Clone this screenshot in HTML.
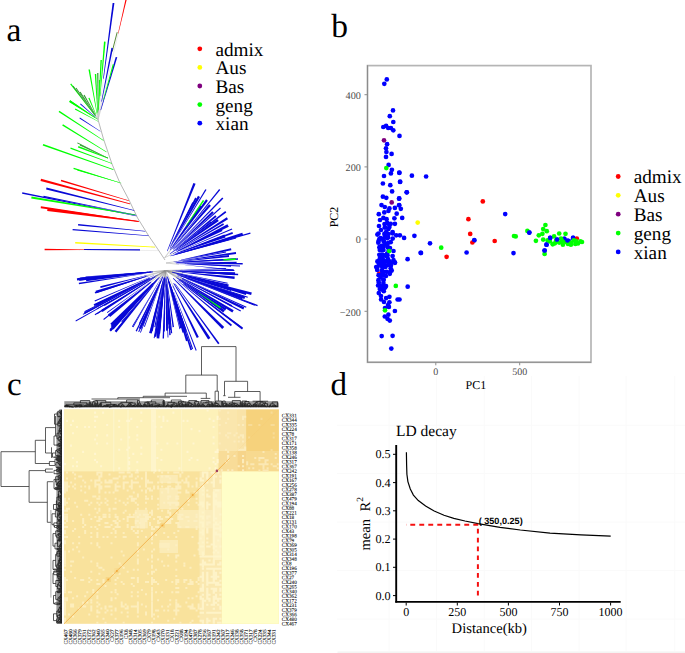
<!DOCTYPE html>
<html><head><meta charset="utf-8"><style>
html,body{margin:0;padding:0;background:#fff;width:685px;height:653px;overflow:hidden}
svg{display:block}
</style></head><body>
<svg width="685" height="653" viewBox="0 0 685 653" text-rendering="geometricPrecision">
<rect x="337.5" y="651.4" width="348" height="2" fill="#f4f4f3"/>
<line x1="389" y1="376" x2="389" y2="651" stroke="#fafafa" stroke-width="1"/>
<line x1="436.6" y1="376" x2="436.6" y2="651" stroke="#fafafa" stroke-width="1"/>
<line x1="484.2" y1="376" x2="484.2" y2="651" stroke="#fafafa" stroke-width="1"/>
<line x1="531.4" y1="376" x2="531.4" y2="651" stroke="#fafafa" stroke-width="1"/>
<line x1="579.1" y1="376" x2="579.1" y2="651" stroke="#fafafa" stroke-width="1"/>
<line x1="626" y1="376" x2="626" y2="651" stroke="#fafafa" stroke-width="1"/>
<line x1="674.8" y1="376" x2="674.8" y2="651" stroke="#fafafa" stroke-width="1"/>
<line x1="337" y1="425.2" x2="685" y2="425.2" stroke="#fafafa" stroke-width="1"/>
<line x1="337" y1="473.6" x2="685" y2="473.6" stroke="#fafafa" stroke-width="1"/>
<line x1="337" y1="522" x2="685" y2="522" stroke="#fafafa" stroke-width="1"/>
<line x1="337" y1="570.5" x2="685" y2="570.5" stroke="#fafafa" stroke-width="1"/>
<line x1="337" y1="619" x2="685" y2="619" stroke="#fafafa" stroke-width="1"/>
<text x="6.5" y="41.2" font-family="Liberation Serif" font-size="33.5" text-anchor="start" fill="#000" font-weight="normal" >a</text>
<text x="331.3" y="37.3" font-family="Liberation Serif" font-size="33.5" text-anchor="start" fill="#000" font-weight="normal" >b</text>
<text x="7" y="394.5" font-family="Liberation Serif" font-size="33" text-anchor="start" fill="#000" font-weight="normal" >c</text>
<text x="330.5" y="394.5" font-family="Liberation Serif" font-size="33" text-anchor="start" fill="#000" font-weight="normal" >d</text>
<line x1="98.0" y1="119.5" x2="103.5" y2="139.0" stroke="#a5a5a5" stroke-width="0.8"/>
<line x1="103.5" y1="139.0" x2="112.0" y2="164.0" stroke="#a5a5a5" stroke-width="0.8"/>
<line x1="112.0" y1="164.0" x2="119.5" y2="182.0" stroke="#a5a5a5" stroke-width="0.8"/>
<line x1="119.5" y1="182.0" x2="129.0" y2="200.0" stroke="#a5a5a5" stroke-width="0.8"/>
<line x1="129.0" y1="200.0" x2="137.6" y2="218.0" stroke="#a5a5a5" stroke-width="0.8"/>
<line x1="137.6" y1="218.0" x2="148.6" y2="235.7" stroke="#a5a5a5" stroke-width="0.8"/>
<line x1="148.6" y1="235.7" x2="158.4" y2="250.0" stroke="#a5a5a5" stroke-width="0.8"/>
<line x1="158.4" y1="250.0" x2="165.0" y2="260.0" stroke="#a5a5a5" stroke-width="0.8"/>
<line x1="98.0" y1="119.5" x2="119.6" y2="27.5" stroke="#c2c2c2" stroke-width="0.3"/>
<line x1="117.2" y1="32.2" x2="112.2" y2="51.5" stroke="#5a8a3a" stroke-width="1.0"/>
<line x1="98.0" y1="119.5" x2="104.2" y2="72.9" stroke="#c2c2c2" stroke-width="0.3"/>
<line x1="98.0" y1="119.5" x2="100.4" y2="92.2" stroke="#c2c2c2" stroke-width="0.3"/>
<line x1="98.0" y1="119.5" x2="102.3" y2="98.0" stroke="#c2c2c2" stroke-width="0.3"/>
<line x1="98.0" y1="119.5" x2="101.7" y2="107.0" stroke="#c2c2c2" stroke-width="0.3"/>
<line x1="98.0" y1="119.5" x2="104.1" y2="97.5" stroke="#c2c2c2" stroke-width="0.3"/>
<line x1="98.0" y1="119.5" x2="98.6" y2="107.6" stroke="#c2c2c2" stroke-width="0.3"/>
<line x1="98.0" y1="119.5" x2="96.7" y2="112.0" stroke="#c2c2c2" stroke-width="0.3"/>
<line x1="98.0" y1="119.5" x2="97.5" y2="110.4" stroke="#c2c2c2" stroke-width="0.3"/>
<line x1="98.0" y1="119.5" x2="98.0" y2="110.2" stroke="#c2c2c2" stroke-width="0.3"/>
<line x1="98.0" y1="119.5" x2="98.5" y2="107.7" stroke="#c2c2c2" stroke-width="0.3"/>
<line x1="98.0" y1="119.5" x2="93.9" y2="114.2" stroke="#c2c2c2" stroke-width="0.3"/>
<line x1="98.0" y1="119.5" x2="93.0" y2="112.8" stroke="#c2c2c2" stroke-width="0.3"/>
<line x1="98.0" y1="119.5" x2="93.6" y2="113.2" stroke="#c2c2c2" stroke-width="0.3"/>
<line x1="98.0" y1="119.5" x2="94.4" y2="114.0" stroke="#c2c2c2" stroke-width="0.3"/>
<line x1="98.0" y1="119.5" x2="95.2" y2="114.6" stroke="#c2c2c2" stroke-width="0.3"/>
<line x1="98.0" y1="119.5" x2="95.3" y2="113.0" stroke="#c2c2c2" stroke-width="0.3"/>
<line x1="98.0" y1="119.5" x2="94.5" y2="116.4" stroke="#c2c2c2" stroke-width="0.3"/>
<line x1="98.0" y1="119.5" x2="93.7" y2="116.7" stroke="#c2c2c2" stroke-width="0.3"/>
<line x1="97.3" y1="119.1" x2="95.9" y2="118.2" stroke="#c2c2c2" stroke-width="0.3"/>
<line x1="98.1" y1="121.4" x2="96.9" y2="120.8" stroke="#c2c2c2" stroke-width="0.3"/>
<line x1="100.4" y1="131.3" x2="99.4" y2="130.6" stroke="#c2c2c2" stroke-width="0.3"/>
<line x1="103.5" y1="140.5" x2="101.3" y2="139.0" stroke="#c2c2c2" stroke-width="0.3"/>
<line x1="106.5" y1="152.0" x2="104.3" y2="150.6" stroke="#c2c2c2" stroke-width="0.3"/>
<line x1="113.4" y1="169.6" x2="109.9" y2="168.4" stroke="#c2c2c2" stroke-width="0.3"/>
<line x1="111.9" y1="163.5" x2="109.8" y2="162.7" stroke="#c2c2c2" stroke-width="0.3"/>
<line x1="108.0" y1="158.1" x2="106.5" y2="157.3" stroke="#c2c2c2" stroke-width="0.3"/>
<line x1="108.0" y1="158.1" x2="106.5" y2="157.5" stroke="#c2c2c2" stroke-width="0.3"/>
<line x1="108.0" y1="158.1" x2="106.6" y2="157.4" stroke="#c2c2c2" stroke-width="0.3"/>
<line x1="119.5" y1="182.6" x2="117.2" y2="181.9" stroke="#c2c2c2" stroke-width="0.3"/>
<line x1="121.2" y1="183.1" x2="119.0" y2="182.4" stroke="#c2c2c2" stroke-width="0.3"/>
<line x1="130.0" y1="203.9" x2="125.5" y2="202.7" stroke="#c2c2c2" stroke-width="0.3"/>
<line x1="128.9" y1="200.7" x2="125.5" y2="199.7" stroke="#c2c2c2" stroke-width="0.3"/>
<line x1="134.3" y1="210.5" x2="129.9" y2="209.4" stroke="#c2c2c2" stroke-width="0.3"/>
<line x1="136.5" y1="216.0" x2="130.8" y2="214.8" stroke="#c2c2c2" stroke-width="0.3"/>
<line x1="135.4" y1="214.9" x2="130.2" y2="214.0" stroke="#c2c2c2" stroke-width="0.3"/>
<line x1="135.4" y1="214.9" x2="130.8" y2="214.0" stroke="#c2c2c2" stroke-width="0.3"/>
<line x1="138.7" y1="221.5" x2="133.8" y2="220.8" stroke="#c2c2c2" stroke-width="0.3"/>
<line x1="138.7" y1="221.5" x2="134.1" y2="220.9" stroke="#c2c2c2" stroke-width="0.3"/>
<line x1="145.3" y1="231.3" x2="141.9" y2="231.0" stroke="#c2c2c2" stroke-width="0.3"/>
<line x1="148.6" y1="235.7" x2="144.8" y2="235.4" stroke="#c2c2c2" stroke-width="0.3"/>
<line x1="155.1" y1="247.1" x2="151.1" y2="246.9" stroke="#c2c2c2" stroke-width="0.3"/>
<line x1="158.4" y1="250.6" x2="78.7" y2="249.8" stroke="#c2c2c2" stroke-width="0.3"/>
<line x1="84.0" y1="249.5" x2="140.0" y2="249.8" stroke="#0808d6" stroke-width="1.2"/>
<line x1="164.6" y1="257.7" x2="173.4" y2="246.8" stroke="#8a8a8a" stroke-width="0.4"/>
<line x1="164.6" y1="257.7" x2="175.9" y2="252.3" stroke="#8a8a8a" stroke-width="0.4"/>
<line x1="164.6" y1="257.7" x2="188.0" y2="223.3" stroke="#c2c2c2" stroke-width="0.3"/>
<line x1="166.0" y1="263.0" x2="178.9" y2="264.3" stroke="#8a8a8a" stroke-width="0.4"/>
<line x1="166.0" y1="263.0" x2="177.0" y2="261.4" stroke="#8a8a8a" stroke-width="0.4"/>
<line x1="165.5" y1="270.5" x2="143.9" y2="284.1" stroke="#8a8a8a" stroke-width="0.4"/>
<line x1="165.5" y1="270.5" x2="148.1" y2="284.3" stroke="#8a8a8a" stroke-width="0.4"/>
<line x1="165.5" y1="270.5" x2="158.7" y2="286.1" stroke="#8a8a8a" stroke-width="0.4"/>
<line x1="165.5" y1="270.5" x2="163.3" y2="285.1" stroke="#8a8a8a" stroke-width="0.4"/>
<line x1="165.5" y1="270.5" x2="181.3" y2="271.4" stroke="#8a8a8a" stroke-width="0.4"/>
<line x1="165.5" y1="270.5" x2="185.3" y2="272.6" stroke="#8a8a8a" stroke-width="0.4"/>
<line x1="165.5" y1="270.5" x2="183.1" y2="274.1" stroke="#8a8a8a" stroke-width="0.4"/>
<line x1="165.5" y1="270.5" x2="189.8" y2="283.6" stroke="#8a8a8a" stroke-width="0.4"/>
<line x1="165.5" y1="270.5" x2="179.4" y2="279.5" stroke="#8a8a8a" stroke-width="0.4"/>
<line x1="165.5" y1="270.5" x2="174.4" y2="288.9" stroke="#8a8a8a" stroke-width="0.4"/>
<line x1="165.5" y1="270.5" x2="169.1" y2="282.8" stroke="#8a8a8a" stroke-width="0.4"/>
<line x1="165.5" y1="270.5" x2="163.5" y2="287.2" stroke="#8a8a8a" stroke-width="0.4"/>
<line x1="165.5" y1="270.5" x2="182.5" y2="269.9" stroke="#8a8a8a" stroke-width="0.4"/>
<line x1="165.5" y1="270.5" x2="150.8" y2="285.8" stroke="#8a8a8a" stroke-width="0.4"/>
<line x1="165.5" y1="270.5" x2="145.0" y2="277.0" stroke="#8a8a8a" stroke-width="0.4"/>
<line x1="165.5" y1="270.5" x2="152.0" y2="279.1" stroke="#8a8a8a" stroke-width="0.4"/>
<line x1="165.5" y1="270.5" x2="154.2" y2="283.8" stroke="#8a8a8a" stroke-width="0.4"/>
<line x1="165.5" y1="270.5" x2="139.5" y2="284.3" stroke="#8a8a8a" stroke-width="0.4"/>
<line x1="165.5" y1="270.5" x2="183.4" y2="281.3" stroke="#8a8a8a" stroke-width="0.4"/>
<line x1="165.5" y1="270.5" x2="184.1" y2="276.9" stroke="#8a8a8a" stroke-width="0.4"/>
<line x1="165.5" y1="270.5" x2="147.0" y2="272.2" stroke="#8a8a8a" stroke-width="0.4"/>
<line x1="165.5" y1="270.5" x2="164.4" y2="281.7" stroke="#8a8a8a" stroke-width="0.4"/>
<line x1="165.5" y1="270.5" x2="188.0" y2="276.9" stroke="#8a8a8a" stroke-width="0.4"/>
<line x1="165.5" y1="270.5" x2="147.0" y2="272.4" stroke="#8a8a8a" stroke-width="0.4"/>
<line x1="165.5" y1="270.5" x2="192.3" y2="277.8" stroke="#8a8a8a" stroke-width="0.4"/>
<line x1="165.5" y1="270.5" x2="143.2" y2="284.5" stroke="#8a8a8a" stroke-width="0.4"/>
<line x1="165.5" y1="270.5" x2="144.3" y2="275.9" stroke="#8a8a8a" stroke-width="0.4"/>
<line x1="165.5" y1="270.5" x2="160.2" y2="279.5" stroke="#8a8a8a" stroke-width="0.4"/>
<line x1="165.5" y1="270.5" x2="157.6" y2="280.1" stroke="#8a8a8a" stroke-width="0.4"/>
<line x1="165.5" y1="270.5" x2="154.7" y2="276.6" stroke="#8a8a8a" stroke-width="0.4"/>
<line x1="165.5" y1="270.5" x2="161.0" y2="281.7" stroke="#8a8a8a" stroke-width="0.4"/>
<line x1="165.5" y1="270.5" x2="166.2" y2="287.0" stroke="#8a8a8a" stroke-width="0.4"/>
<line x1="165.5" y1="270.5" x2="165.1" y2="287.6" stroke="#8a8a8a" stroke-width="0.4"/>
<line x1="165.5" y1="270.5" x2="175.2" y2="272.9" stroke="#8a8a8a" stroke-width="0.4"/>
<line x1="165.5" y1="270.5" x2="185.8" y2="280.3" stroke="#8a8a8a" stroke-width="0.4"/>
<line x1="165.5" y1="270.5" x2="201.3" y2="294.7" stroke="#c2c2c2" stroke-width="0.3"/>
<polygon points="126.6,0.1 125.4,-0.1 118.0,33.4 118.4,33.5" fill="#ff0000"/>
<polygon points="114.4,3.1 112.6,2.9 103.1,78.7 103.7,78.8" fill="#0808d6"/>
<polygon points="105.6,41.7 104.0,41.5 99.8,96.1 100.3,96.2" fill="#00ff00"/>
<polygon points="113.0,48.2 111.4,47.8 101.3,101.6 101.8,101.7" fill="#0808d6"/>
<polygon points="117.3,57.3 115.7,56.9 100.5,110.1 101.0,110.2" fill="#0808d6"/>
<polygon points="113.9,64.6 112.7,64.2 103.1,100.2 103.6,100.3" fill="#00ff00"/>
<polygon points="101.9,60.1 100.5,60.1 98.2,110.6 98.7,110.6" fill="#00ff00"/>
<polygon points="89.9,69.4 88.5,69.6 96.9,114.5 97.4,114.5" fill="#00ff00"/>
<polygon points="96.2,74.1 94.8,74.1 97.4,112.7 97.9,112.7" fill="#00ff00"/>
<polygon points="98.4,73.0 97.2,73.0 97.8,112.5 98.2,112.5" fill="#2a962a"/>
<polygon points="100.1,80.0 98.9,80.0 98.2,109.6 98.6,109.6" fill="#00ff00"/>
<polygon points="71.2,83.5 70.2,84.3 95.1,116.1 95.5,115.8" fill="#00ff00"/>
<polygon points="73.4,85.7 72.6,86.3 94.1,114.6 94.4,114.4" fill="#2a962a"/>
<polygon points="76.4,87.7 75.6,88.3 94.6,114.9 94.8,114.7" fill="#2a962a"/>
<polygon points="80.5,91.7 79.5,92.3 95.1,115.5 95.5,115.3" fill="#2a962a"/>
<polygon points="84.5,94.7 83.5,95.3 95.7,115.9 96.1,115.7" fill="#2a962a"/>
<polygon points="89.5,97.7 88.3,98.1 95.5,114.2 95.9,114.0" fill="#00ff00"/>
<polygon points="80.7,103.4 80.1,104.2 95.2,117.3 95.5,117.0" fill="#0808d6"/>
<polygon points="70.1,100.3 69.1,101.9 95.0,117.9 95.3,117.4" fill="#00ff00"/>
<polygon points="70.2,100.3 69.4,101.7 97.1,119.3 97.5,118.9" fill="#00ff00"/>
<polygon points="75.4,108.6 74.8,109.6 98.0,121.6 98.2,121.2" fill="#00ff00"/>
<polygon points="79.9,117.6 79.5,118.4 100.3,131.4 100.5,131.2" fill="#0808d6"/>
<polygon points="59.4,110.8 58.6,112.0 103.4,140.7 103.6,140.3" fill="#00ff00"/>
<polygon points="63.0,124.3 62.2,125.5 106.4,152.2 106.6,151.8" fill="#00ff00"/>
<polygon points="43.3,144.0 42.7,145.6 113.3,169.9 113.5,169.3" fill="#00ff00"/>
<polygon points="70.7,147.6 70.3,148.8 111.8,163.7 112.0,163.3" fill="#00ff00"/>
<polygon points="77.6,142.4 77.2,143.2 107.9,158.3 108.1,157.9" fill="#2a962a"/>
<polygon points="78.5,146.0 77.9,147.4 107.9,158.4 108.1,157.8" fill="#00ff00"/>
<polygon points="80.2,144.5 79.8,145.5 107.9,158.3 108.1,157.9" fill="#2a962a"/>
<polygon points="73.8,167.8 73.4,169.0 119.4,182.8 119.6,182.4" fill="#00ff00"/>
<polygon points="77.5,169.5 77.3,170.5 121.1,183.3 121.3,182.9" fill="#00ff00"/>
<polygon points="41.1,178.8 40.5,181.0 129.9,204.3 130.1,203.5" fill="#ff0000"/>
<polygon points="61.2,179.8 60.8,181.2 128.8,200.9 129.0,200.5" fill="#ff0000"/>
<polygon points="46.5,187.6 46.1,189.6 134.2,210.8 134.4,210.2" fill="#0808d6"/>
<polygon points="22.3,192.3 22.1,193.7 136.5,216.2 136.5,215.8" fill="#0808d6"/>
<polygon points="31.6,196.4 31.2,198.4 135.3,215.2 135.5,214.6" fill="#00ff00"/>
<polygon points="43.6,195.7 43.4,196.9 135.4,215.1 135.4,214.7" fill="#0808d6"/>
<polygon points="40.9,206.2 40.7,208.2 138.6,221.8 138.8,221.2" fill="#ff0000"/>
<polygon points="47.6,207.9 47.2,210.9 138.6,222.0 138.8,221.0" fill="#ff0000"/>
<polygon points="78.2,224.0 78.0,225.4 145.3,231.6 145.3,231.0" fill="#0808d6"/>
<polygon points="72.7,228.9 72.5,230.3 148.6,236.0 148.6,235.4" fill="#0808d6"/>
<polygon points="75.2,241.9 75.2,243.5 155.1,247.4 155.1,246.8" fill="#ffff00"/>
<polygon points="44.6,248.8 44.6,250.2 84.4,250.1 84.4,249.6" fill="#ff0000"/>
<polygon points="195.6,183.8 193.4,183.0 167.0,251.0 167.5,251.2" fill="#0808d6"/>
<polygon points="206.5,189.8 205.3,189.2 174.3,241.4 174.5,241.6" fill="#0808d6"/>
<polygon points="200.0,197.0 198.0,195.8 169.6,248.3 170.0,248.6" fill="#0808d6"/>
<polygon points="196.8,198.4 195.2,197.6 172.1,243.1 172.4,243.2" fill="#0808d6"/>
<polygon points="193.5,202.9 192.3,202.3 170.4,246.1 170.6,246.2" fill="#0808d6"/>
<polygon points="220.2,189.9 219.2,189.1 170.5,250.2 170.7,250.3" fill="#0808d6"/>
<polygon points="223.4,198.6 222.2,197.4 172.8,249.0 173.0,249.3" fill="#0808d6"/>
<polygon points="220.9,208.4 220.1,207.4 173.0,250.0 173.2,250.2" fill="#0808d6"/>
<polygon points="226.3,212.5 225.3,211.1 179.3,246.4 179.5,246.7" fill="#0808d6"/>
<polygon points="228.0,219.3 226.8,217.3 175.7,250.5 175.9,250.9" fill="#0808d6"/>
<polygon points="228.8,226.8 227.4,224.2 177.0,251.1 177.3,251.6" fill="#0808d6"/>
<polygon points="224.0,224.8 223.2,223.2 178.2,249.7 178.4,250.0" fill="#0808d6"/>
<polygon points="233.0,233.7 232.4,232.1 177.3,252.9 177.4,253.2" fill="#0808d6"/>
<polygon points="250.6,233.8 250.2,232.6 177.8,253.8 177.9,254.1" fill="#0808d6"/>
<polygon points="243.1,235.3 242.3,232.7 175.0,254.2 175.2,254.8" fill="#0808d6"/>
<polygon points="210.9,205.8 209.1,204.2 172.2,248.5 172.5,248.8" fill="#0808d6"/>
<polygon points="213.8,212.8 212.2,211.2 174.1,248.4 174.4,248.8" fill="#0808d6"/>
<polygon points="216.6,216.7 215.4,215.3 176.6,247.7 176.8,248.0" fill="#0808d6"/>
<polygon points="218.8,221.1 217.2,218.9 169.8,253.7 170.2,254.1" fill="#0808d6"/>
<polygon points="222.5,231.0 221.5,229.0 172.9,253.4 173.1,253.8" fill="#0808d6"/>
<polygon points="225.5,237.4 224.5,234.6 175.3,253.5 175.5,254.1" fill="#0808d6"/>
<polygon points="229.3,239.9 228.7,238.1 170.4,255.8 170.5,256.2" fill="#0808d6"/>
<polygon points="236.2,238.6 235.8,237.4 173.1,255.2 173.2,255.5" fill="#0808d6"/>
<polygon points="207.9,200.7 206.1,199.3 172.6,246.5 172.9,246.7" fill="#0808d6"/>
<polygon points="202.1,206.8 199.9,205.2 169.9,249.7 170.3,250.0" fill="#0808d6"/>
<polygon points="211.4,222.5 210.6,221.5 168.7,254.4 168.8,254.6" fill="#0808d6"/>
<polygon points="232.3,229.6 231.7,228.4 180.7,250.7 180.8,250.9" fill="#0808d6"/>
<polygon points="204.3,200.7 202.9,199.9 185.8,226.0 186.3,226.3" fill="#00ff00"/>
<polygon points="231.4,250.3 231.0,248.3 180.9,259.7 181.0,260.1" fill="#0808d6"/>
<polygon points="242.7,264.6 242.7,263.0 187.2,263.1 187.2,263.4" fill="#0808d6"/>
<polygon points="236.6,262.9 236.6,261.7 178.0,262.8 178.0,263.0" fill="#0808d6"/>
<polygon points="233.4,270.6 233.6,269.4 175.6,263.9 175.6,264.1" fill="#0808d6"/>
<polygon points="226.1,252.6 225.9,251.4 178.5,260.6 178.5,260.8" fill="#0808d6"/>
<polygon points="229.1,257.0 228.9,255.0 182.7,260.9 182.7,261.4" fill="#0808d6"/>
<polygon points="238.0,259.8 238.0,258.2 174.7,262.4 174.7,262.7" fill="#0808d6"/>
<polygon points="231.0,266.8 231.0,265.2 175.9,263.3 175.9,263.6" fill="#0808d6"/>
<polygon points="236.1,254.0 235.9,252.0 173.5,261.7 173.6,262.1" fill="#0808d6"/>
<polygon points="240.0,266.6 240.0,265.4 184.7,263.6 184.7,263.9" fill="#0808d6"/>
<polygon points="235.8,260.1 235.8,258.3 176.5,262.1 176.5,262.7" fill="#0808d6"/>
<polygon points="235.8,260.1 235.8,258.3 223.2,259.2 223.3,260.6" fill="#00ff00"/>
<polygon points="76.9,278.2 77.1,280.4 147.2,272.6 147.1,272.0" fill="#0808d6"/>
<polygon points="78.8,282.8 79.0,284.2 146.2,273.6 146.2,273.2" fill="#0808d6"/>
<polygon points="85.5,276.4 85.5,277.2 148.0,272.0 148.0,271.8" fill="#0808d6"/>
<polygon points="95.6,290.7 96.4,293.3 146.4,276.8 146.2,276.1" fill="#0808d6"/>
<polygon points="93.6,304.3 94.6,306.3 149.4,278.7 149.2,278.1" fill="#0808d6"/>
<polygon points="75.5,320.6 75.9,321.4 156.3,275.8 156.2,275.6" fill="#0808d6"/>
<polygon points="96.8,313.4 97.2,314.2 147.4,282.1 147.3,281.9" fill="#0808d6"/>
<polygon points="103.3,319.1 103.9,319.9 151.3,281.9 151.1,281.7" fill="#0808d6"/>
<polygon points="109.5,330.3 110.9,331.5 158.6,278.3 158.3,278.0" fill="#0808d6"/>
<polygon points="112.5,328.5 113.5,329.5 154.8,282.7 154.5,282.5" fill="#0808d6"/>
<polygon points="117.0,320.6 118.6,322.2 157.3,279.7 156.8,279.3" fill="#0808d6"/>
<polygon points="132.6,326.9 133.4,327.3 158.1,283.6 157.9,283.4" fill="#0808d6"/>
<polygon points="138.2,331.7 139.2,332.1 160.2,283.0 159.9,282.9" fill="#0808d6"/>
<polygon points="149.6,332.7 150.4,332.9 163.0,280.9 162.8,280.8" fill="#0808d6"/>
<polygon points="155.3,336.5 156.1,336.7 163.9,281.8 163.7,281.8" fill="#0808d6"/>
<polygon points="162.6,338.5 164.0,338.5 165.4,279.0 165.1,279.0" fill="#0808d6"/>
<polygon points="233.7,270.8 233.7,269.4 172.4,270.3 172.4,270.6" fill="#0808d6"/>
<polygon points="238.1,275.2 238.1,273.8 177.7,271.0 177.7,271.3" fill="#0808d6"/>
<polygon points="234.5,279.0 234.7,276.4 181.9,271.9 181.8,272.5" fill="#0808d6"/>
<polygon points="227.5,283.8 227.7,282.8 180.0,273.3 179.9,273.6" fill="#0808d6"/>
<polygon points="230.9,291.0 231.3,289.6 176.5,273.6 176.4,274.0" fill="#0808d6"/>
<polygon points="247.5,297.8 247.9,296.8 184.3,276.5 184.2,276.7" fill="#0808d6"/>
<polygon points="254.6,305.7 255.0,304.7 186.2,278.4 186.1,278.7" fill="#0808d6"/>
<polygon points="240.4,311.6 241.0,310.4 186.1,281.4 186.0,281.7" fill="#0808d6"/>
<polygon points="225.2,310.6 226.4,308.6 176.6,277.3 176.2,277.8" fill="#0808d6"/>
<polygon points="242.0,329.5 243.0,328.1 183.8,284.1 183.5,284.4" fill="#0808d6"/>
<polygon points="222.2,329.0 224.2,327.0 173.4,277.9 172.9,278.4" fill="#0808d6"/>
<polygon points="218.1,344.2 219.5,343.2 175.4,283.7 175.0,283.9" fill="#0808d6"/>
<polygon points="196.8,338.1 198.8,337.1 173.0,285.4 172.5,285.7" fill="#0808d6"/>
<polygon points="192.1,349.2 193.1,348.8 171.5,287.6 171.3,287.7" fill="#0808d6"/>
<polygon points="182.5,332.7 185.1,331.9 168.5,279.6 167.9,279.8" fill="#0808d6"/>
<polygon points="172.6,327.2 174.0,327.0 166.5,276.3 166.1,276.4" fill="#0808d6"/>
<polygon points="167.6,337.6 168.4,337.6 166.3,288.4 166.1,288.4" fill="#0808d6"/>
<polygon points="156.8,336.6 158.2,336.8 164.1,283.9 163.7,283.9" fill="#0808d6"/>
<polygon points="149.2,332.9 151.8,333.5 163.9,278.6 163.2,278.5" fill="#0808d6"/>
<polygon points="138.8,328.3 141.2,329.3 163.1,276.8 162.5,276.5" fill="#0808d6"/>
<polygon points="79.9,277.8 80.2,280.5 146.1,272.8 146.0,272.1" fill="#0808d6"/>
<polygon points="225.9,269.1 225.9,268.0 179.5,269.9 179.5,270.2" fill="#0808d6"/>
<polygon points="151.4,330.9 152.7,331.2 164.2,277.0 163.9,276.9" fill="#0808d6"/>
<polygon points="110.7,326.0 112.3,327.6 153.7,283.2 153.3,282.8" fill="#0808d6"/>
<polygon points="94.7,292.1 95.2,293.4 148.6,276.0 148.5,275.7" fill="#0808d6"/>
<polygon points="141.8,324.9 143.1,325.4 160.8,282.1 160.5,282.0" fill="#0808d6"/>
<polygon points="101.1,310.0 102.4,312.0 155.3,277.3 155.0,276.8" fill="#0808d6"/>
<polygon points="144.0,326.6 144.8,327.0 160.0,285.4 159.8,285.3" fill="#0808d6"/>
<polygon points="121.3,321.6 122.1,322.3 156.5,281.3 156.3,281.1" fill="#0808d6"/>
<polygon points="106.9,312.2 107.4,312.9 152.4,280.1 152.3,279.9" fill="#0808d6"/>
<polygon points="96.6,308.4 97.0,309.2 153.6,277.3 153.5,277.1" fill="#0808d6"/>
<polygon points="94.5,300.6 95.0,301.6 154.1,275.6 154.0,275.3" fill="#0808d6"/>
<polygon points="109.5,329.2 111.2,330.8 154.1,283.2 153.7,282.8" fill="#0808d6"/>
<polygon points="231.4,306.8 232.3,305.2 182.4,279.3 182.2,279.7" fill="#0808d6"/>
<polygon points="168.3,324.4 171.0,324.2 166.9,284.1 166.2,284.2" fill="#0808d6"/>
<polygon points="181.7,325.3 184.3,324.5 167.9,276.9 167.3,277.1" fill="#0808d6"/>
<polygon points="242.0,299.4 243.0,296.9 177.5,274.4 177.2,275.1" fill="#0808d6"/>
<polygon points="121.8,315.3 123.5,316.9 159.5,277.3 159.1,276.9" fill="#0808d6"/>
<polygon points="158.3,335.7 159.2,335.8 164.7,279.1 164.5,279.1" fill="#0808d6"/>
<polygon points="85.9,278.5 86.2,281.2 153.1,272.3 153.0,271.6" fill="#0808d6"/>
<polygon points="82.7,313.9 83.2,314.8 143.7,282.2 143.6,282.0" fill="#0808d6"/>
<polygon points="232.3,312.5 233.7,310.2 180.2,279.0 179.9,279.6" fill="#0808d6"/>
<polygon points="154.5,336.4 156.3,336.7 163.9,282.4 163.5,282.3" fill="#0808d6"/>
<polygon points="244.4,299.1 245.3,296.6 180.2,275.2 180.0,275.9" fill="#0808d6"/>
<polygon points="135.6,331.0 136.8,331.6 157.5,287.6 157.2,287.4" fill="#0808d6"/>
<polygon points="157.2,333.4 159.8,333.7 165.1,277.6 164.4,277.5" fill="#0808d6"/>
<polygon points="78.0,277.9 78.1,278.8 151.4,271.9 151.4,271.6" fill="#0808d6"/>
<polygon points="184.0,331.2 186.6,330.4 169.7,282.1 169.0,282.3" fill="#0808d6"/>
<polygon points="257.3,306.3 257.8,304.9 187.5,278.7 187.3,279.0" fill="#0808d6"/>
<polygon points="246.0,307.7 246.5,306.7 177.4,275.8 177.3,276.0" fill="#0808d6"/>
<polygon points="158.4,333.2 160.2,333.4 164.9,278.6 164.5,278.5" fill="#0808d6"/>
<polygon points="245.9,295.0 246.7,292.4 184.0,275.5 183.9,276.1" fill="#0808d6"/>
<polygon points="78.9,278.0 79.1,280.7 151.3,272.3 151.3,271.6" fill="#0808d6"/>
<polygon points="84.3,311.3 84.8,312.2 147.7,279.7 147.6,279.5" fill="#0808d6"/>
<polygon points="223.3,312.6 224.9,310.3 178.9,279.4 178.5,280.0" fill="#0808d6"/>
<polygon points="179.5,329.3 180.3,329.1 168.4,281.8 168.2,281.9" fill="#0808d6"/>
<polygon points="251.1,295.1 251.8,292.5 188.1,276.3 187.9,276.9" fill="#0808d6"/>
<polygon points="241.7,328.8 242.8,327.4 183.1,283.4 182.8,283.8" fill="#0808d6"/>
<polygon points="83.9,312.5 84.7,314.1 149.7,279.1 149.5,278.7" fill="#0808d6"/>
<polygon points="114.6,331.1 116.4,332.6 153.5,285.7 153.1,285.3" fill="#0808d6"/>
<polygon points="186.0,341.2 187.8,340.7 171.6,289.9 171.2,290.1" fill="#0808d6"/>
<polygon points="180.2,328.2 182.4,327.6 167.4,276.5 166.9,276.6" fill="#0808d6"/>
<polygon points="142.5,320.4 143.8,321.0 161.0,281.1 160.6,281.0" fill="#0808d6"/>
<polygon points="94.6,314.3 95.2,315.3 146.8,282.4 146.6,282.2" fill="#0808d6"/>
<polygon points="208.1,339.5 210.4,338.0 173.9,283.0 173.3,283.4" fill="#0808d6"/>
<polygon points="154.3,327.1 155.4,327.3 163.8,280.2 163.5,280.2" fill="#0808d6"/>
<polygon points="169.3,335.2 170.7,335.1 166.2,278.3 165.9,278.3" fill="#0808d6"/>
<polygon points="234.4,271.0 234.4,269.9 178.6,270.4 178.6,270.6" fill="#0808d6"/>
<polygon points="100.2,286.2 100.6,288.0 147.6,275.3 147.5,274.9" fill="#0808d6"/>
<polygon points="190.4,350.3 192.1,349.8 169.8,282.9 169.3,283.1" fill="#0808d6"/>
<polygon points="156.6,338.3 159.3,338.6 163.9,287.8 163.2,287.8" fill="#0808d6"/>
<polygon points="169.7,329.9 171.1,329.8 166.9,285.8 166.6,285.8" fill="#0808d6"/>
<polygon points="170.9,333.3 172.2,333.2 166.6,279.6 166.2,279.6" fill="#0808d6"/>
<polygon points="131.9,326.4 132.6,326.9 161.9,276.8 161.7,276.7" fill="#0808d6"/>
<polygon points="117.8,327.5 118.5,328.0 160.0,277.3 159.8,277.2" fill="#0808d6"/>
<polygon points="107.9,314.6 108.8,315.7 150.3,282.6 150.1,282.3" fill="#0808d6"/>
<polygon points="156.5,333.0 158.8,333.3 163.7,287.2 163.1,287.1" fill="#0808d6"/>
<polygon points="103.8,304.7 104.5,306.0 157.8,275.1 157.7,274.7" fill="#0808d6"/>
<polygon points="140.0,332.4 140.8,332.7 162.3,278.6 162.1,278.5" fill="#0808d6"/>
<polygon points="167.5,328.6 168.6,328.5 166.2,284.1 166.0,284.1" fill="#0808d6"/>
<polygon points="95.9,303.7 97.0,305.8 150.2,278.4 150.0,277.9" fill="#0808d6"/>
<polygon points="166.1,330.7 167.9,330.6 165.9,277.8 165.5,277.8" fill="#0808d6"/>
<polygon points="234.9,275.3 235.0,272.6 180.0,270.9 179.9,271.5" fill="#0808d6"/>
<polygon points="180.9,326.7 183.1,326.1 168.8,280.5 168.2,280.7" fill="#0808d6"/>
<polygon points="153.7,338.1 154.6,338.3 164.3,278.1 164.1,278.1" fill="#0808d6"/>
<polygon points="235.0,274.8 235.1,272.5 175.6,270.7 175.5,271.2" fill="#0808d6"/>
<polygon points="138.9,323.5 140.2,324.1 160.7,280.8 160.3,280.7" fill="#0808d6"/>
<polygon points="108.6,315.3 110.1,317.1 151.2,282.5 150.9,282.0" fill="#0808d6"/>
<polygon points="163.4,331.6 164.8,331.6 165.3,284.5 165.0,284.5" fill="#0808d6"/>
<polygon points="228.1,287.1 228.8,284.5 172.1,271.8 172.0,272.4" fill="#0808d6"/>
<polygon points="110.3,323.8 112.2,325.7 152.9,283.6 152.4,283.1" fill="#0808d6"/>
<polygon points="243.3,309.6 244.4,307.2 182.0,278.1 181.7,278.7" fill="#0808d6"/>
<polygon points="195.7,350.7 196.7,350.3 173.8,291.8 173.6,291.9" fill="#0808d6"/>
<polygon points="230.9,326.2 232.0,324.8 177.6,280.3 177.3,280.6" fill="#0808d6"/>
<polygon points="158.2,332.7 159.6,332.9 165.0,276.8 164.7,276.8" fill="#0808d6"/>
<polygon points="220.2,308.4 221.0,307.2 198.7,292.7 198.4,293.1" fill="#00ff00"/>
<circle cx="199.8" cy="48.8" r="2.4" fill="#ff0000"/>
<text x="215.5" y="55.699999999999996" font-family="Liberation Serif" font-size="19.2" text-anchor="start" fill="#000" font-weight="normal" >admix</text>
<circle cx="199.8" cy="67.4" r="2.4" fill="#ffff00"/>
<text x="215.5" y="74.30000000000001" font-family="Liberation Serif" font-size="19.2" text-anchor="start" fill="#000" font-weight="normal" >Aus</text>
<circle cx="199.8" cy="86.0" r="2.4" fill="#7f007f"/>
<text x="215.5" y="92.9" font-family="Liberation Serif" font-size="19.2" text-anchor="start" fill="#000" font-weight="normal" >Bas</text>
<circle cx="199.8" cy="104.6" r="2.4" fill="#00ff00"/>
<text x="215.5" y="111.5" font-family="Liberation Serif" font-size="19.2" text-anchor="start" fill="#000" font-weight="normal" >geng</text>
<circle cx="199.8" cy="123.2" r="2.4" fill="#0000ff"/>
<text x="215.5" y="130.1" font-family="Liberation Serif" font-size="19.2" text-anchor="start" fill="#000" font-weight="normal" >xian</text>
<rect x="367.5" y="65.6" width="223.5" height="296.7" fill="none" stroke="#b5b5b5" stroke-width="1.7"/>
<path d="M367.5 65.2V362.3H591" fill="none" stroke="#8c8c8c" stroke-width="1.1"/>
<line x1="364.5" y1="94.7" x2="367.5" y2="94.7" stroke="#8c8c8c" stroke-width="1"/>
<text x="360.9" y="98.89999999999999" font-family="Liberation Serif" font-size="10.2" text-anchor="end" fill="#4d4d4d" font-weight="normal" >400</text>
<line x1="364.5" y1="166.9" x2="367.5" y2="166.9" stroke="#8c8c8c" stroke-width="1"/>
<text x="360.9" y="171.09999999999997" font-family="Liberation Serif" font-size="10.2" text-anchor="end" fill="#4d4d4d" font-weight="normal" >200</text>
<line x1="364.5" y1="239.1" x2="367.5" y2="239.1" stroke="#8c8c8c" stroke-width="1"/>
<text x="360.9" y="243.29999999999998" font-family="Liberation Serif" font-size="10.2" text-anchor="end" fill="#4d4d4d" font-weight="normal" >0</text>
<line x1="364.5" y1="311.3" x2="367.5" y2="311.3" stroke="#8c8c8c" stroke-width="1"/>
<text x="360.9" y="315.5" font-family="Liberation Serif" font-size="10.2" text-anchor="end" fill="#4d4d4d" font-weight="normal" >−200</text>
<line x1="435.8" y1="362.3" x2="435.8" y2="365.3" stroke="#8c8c8c" stroke-width="1"/>
<text x="435.8" y="374.8" font-family="Liberation Serif" font-size="10" text-anchor="middle" fill="#4d4d4d" font-weight="normal" >0</text>
<line x1="519.7" y1="362.3" x2="519.7" y2="365.3" stroke="#8c8c8c" stroke-width="1"/>
<text x="519.7" y="374.8" font-family="Liberation Serif" font-size="10" text-anchor="middle" fill="#4d4d4d" font-weight="normal" >500</text>
<text x="475.9" y="388.9" font-family="Liberation Serif" font-size="12" text-anchor="middle" fill="#000" font-weight="normal" >PC1</text>
<text x="0" y="0" font-family="Liberation Serif" font-size="12" text-anchor="middle" fill="#000" font-weight="normal" transform="translate(337.8,217) rotate(-90)">PC2</text>
<circle cx="379.2" cy="273.6" r="2.35" fill="#ff0000"/>
<circle cx="384.5" cy="224.1" r="2.35" fill="#0000ff"/>
<circle cx="389.1" cy="224.2" r="2.35" fill="#0000ff"/>
<circle cx="385.3" cy="227.5" r="2.35" fill="#0000ff"/>
<circle cx="388.4" cy="229.1" r="2.35" fill="#0000ff"/>
<circle cx="378.5" cy="233.5" r="2.35" fill="#0000ff"/>
<circle cx="384.4" cy="233.9" r="2.35" fill="#0000ff"/>
<circle cx="388.5" cy="234.0" r="2.35" fill="#0000ff"/>
<circle cx="392.5" cy="233.3" r="2.35" fill="#0000ff"/>
<circle cx="379.3" cy="239.1" r="2.35" fill="#0000ff"/>
<circle cx="383.4" cy="238.9" r="2.35" fill="#0000ff"/>
<circle cx="388.1" cy="237.5" r="2.35" fill="#0000ff"/>
<circle cx="392.7" cy="238.6" r="2.35" fill="#0000ff"/>
<circle cx="378.6" cy="241.1" r="2.35" fill="#0000ff"/>
<circle cx="384.1" cy="241.9" r="2.35" fill="#0000ff"/>
<circle cx="388.2" cy="242.8" r="2.35" fill="#0000ff"/>
<circle cx="379.4" cy="247.2" r="2.35" fill="#0000ff"/>
<circle cx="383.2" cy="247.0" r="2.35" fill="#0000ff"/>
<circle cx="387.7" cy="247.3" r="2.35" fill="#0000ff"/>
<circle cx="379.8" cy="250.0" r="2.35" fill="#0000ff"/>
<circle cx="382.7" cy="250.2" r="2.35" fill="#0000ff"/>
<circle cx="388.7" cy="250.7" r="2.35" fill="#0000ff"/>
<circle cx="379.3" cy="254.8" r="2.35" fill="#0000ff"/>
<circle cx="383.4" cy="255.0" r="2.35" fill="#0000ff"/>
<circle cx="387.5" cy="255.4" r="2.35" fill="#0000ff"/>
<circle cx="379.2" cy="260.4" r="2.35" fill="#0000ff"/>
<circle cx="383.8" cy="260.5" r="2.35" fill="#0000ff"/>
<circle cx="388.5" cy="260.6" r="2.35" fill="#0000ff"/>
<circle cx="379.3" cy="263.3" r="2.35" fill="#0000ff"/>
<circle cx="384.1" cy="264.9" r="2.35" fill="#0000ff"/>
<circle cx="388.6" cy="264.1" r="2.35" fill="#0000ff"/>
<circle cx="377.4" cy="261.4" r="2.35" fill="#0000ff"/>
<circle cx="382.1" cy="262.1" r="2.35" fill="#0000ff"/>
<circle cx="385.4" cy="261.1" r="2.35" fill="#0000ff"/>
<circle cx="390.9" cy="263.0" r="2.35" fill="#0000ff"/>
<circle cx="376.2" cy="267.0" r="2.35" fill="#0000ff"/>
<circle cx="381.2" cy="265.7" r="2.35" fill="#0000ff"/>
<circle cx="385.4" cy="266.9" r="2.35" fill="#0000ff"/>
<circle cx="390.9" cy="265.5" r="2.35" fill="#0000ff"/>
<circle cx="377.2" cy="269.9" r="2.35" fill="#0000ff"/>
<circle cx="381.8" cy="270.5" r="2.35" fill="#0000ff"/>
<circle cx="386.6" cy="271.8" r="2.35" fill="#0000ff"/>
<circle cx="390.2" cy="271.8" r="2.35" fill="#0000ff"/>
<circle cx="378.6" cy="275.2" r="2.35" fill="#0000ff"/>
<circle cx="383.6" cy="275.1" r="2.35" fill="#0000ff"/>
<circle cx="378.4" cy="280.2" r="2.35" fill="#0000ff"/>
<circle cx="383.6" cy="279.7" r="2.35" fill="#0000ff"/>
<circle cx="378.1" cy="285.5" r="2.35" fill="#0000ff"/>
<circle cx="383.0" cy="285.7" r="2.35" fill="#0000ff"/>
<circle cx="379.8" cy="289.0" r="2.35" fill="#0000ff"/>
<circle cx="383.3" cy="289.2" r="2.35" fill="#0000ff"/>
<circle cx="386.8" cy="79.4" r="2.35" fill="#0000ff"/>
<circle cx="384.3" cy="83.8" r="2.35" fill="#0000ff"/>
<circle cx="393.0" cy="110.4" r="2.35" fill="#0000ff"/>
<circle cx="389.8" cy="116.2" r="2.35" fill="#0000ff"/>
<circle cx="393.3" cy="122.0" r="2.35" fill="#0000ff"/>
<circle cx="383.3" cy="127.0" r="2.35" fill="#0000ff"/>
<circle cx="386.1" cy="125.9" r="2.35" fill="#0000ff"/>
<circle cx="388.2" cy="128.0" r="2.35" fill="#0000ff"/>
<circle cx="390.9" cy="128.0" r="2.35" fill="#0000ff"/>
<circle cx="393.3" cy="130.3" r="2.35" fill="#0000ff"/>
<circle cx="399.5" cy="135.9" r="2.35" fill="#0000ff"/>
<circle cx="387.1" cy="144.2" r="2.35" fill="#0000ff"/>
<circle cx="386.0" cy="148.3" r="2.35" fill="#0000ff"/>
<circle cx="386.4" cy="152.0" r="2.35" fill="#0000ff"/>
<circle cx="391.6" cy="153.9" r="2.35" fill="#0000ff"/>
<circle cx="386.0" cy="156.9" r="2.35" fill="#0000ff"/>
<circle cx="388.6" cy="164.9" r="2.35" fill="#0000ff"/>
<circle cx="391.9" cy="169.8" r="2.35" fill="#0000ff"/>
<circle cx="390.9" cy="173.4" r="2.35" fill="#0000ff"/>
<circle cx="399.3" cy="172.7" r="2.35" fill="#0000ff"/>
<circle cx="411.9" cy="175.7" r="2.35" fill="#0000ff"/>
<circle cx="426.1" cy="176.5" r="2.35" fill="#0000ff"/>
<circle cx="384.0" cy="176.0" r="2.35" fill="#0000ff"/>
<circle cx="382.9" cy="183.5" r="2.35" fill="#0000ff"/>
<circle cx="390.3" cy="185.2" r="2.35" fill="#0000ff"/>
<circle cx="400.1" cy="181.7" r="2.35" fill="#0000ff"/>
<circle cx="392.1" cy="191.4" r="2.35" fill="#0000ff"/>
<circle cx="406.8" cy="192.3" r="2.35" fill="#0000ff"/>
<circle cx="382.9" cy="196.7" r="2.35" fill="#0000ff"/>
<circle cx="386.3" cy="197.8" r="2.35" fill="#0000ff"/>
<circle cx="399.2" cy="198.4" r="2.35" fill="#0000ff"/>
<circle cx="381.5" cy="205.1" r="2.35" fill="#0000ff"/>
<circle cx="384.8" cy="207.0" r="2.35" fill="#0000ff"/>
<circle cx="389.4" cy="208.4" r="2.35" fill="#0000ff"/>
<circle cx="394.9" cy="207.9" r="2.35" fill="#0000ff"/>
<circle cx="399.2" cy="205.0" r="2.35" fill="#0000ff"/>
<circle cx="400.8" cy="208.8" r="2.35" fill="#0000ff"/>
<circle cx="378.8" cy="214.2" r="2.35" fill="#0000ff"/>
<circle cx="384.3" cy="212.4" r="2.35" fill="#0000ff"/>
<circle cx="388.4" cy="211.0" r="2.35" fill="#0000ff"/>
<circle cx="396.7" cy="213.7" r="2.35" fill="#0000ff"/>
<circle cx="383.4" cy="217.9" r="2.35" fill="#0000ff"/>
<circle cx="386.6" cy="219.2" r="2.35" fill="#0000ff"/>
<circle cx="394.4" cy="218.3" r="2.35" fill="#0000ff"/>
<circle cx="402.2" cy="217.9" r="2.35" fill="#0000ff"/>
<circle cx="387.1" cy="222.9" r="2.35" fill="#0000ff"/>
<circle cx="390.7" cy="223.8" r="2.35" fill="#0000ff"/>
<circle cx="394.9" cy="223.8" r="2.35" fill="#0000ff"/>
<circle cx="384.8" cy="227.5" r="2.35" fill="#0000ff"/>
<circle cx="389.4" cy="227.1" r="2.35" fill="#0000ff"/>
<circle cx="386.1" cy="232.1" r="2.35" fill="#0000ff"/>
<circle cx="392.6" cy="232.1" r="2.35" fill="#0000ff"/>
<circle cx="377.4" cy="234.6" r="2.35" fill="#0000ff"/>
<circle cx="396.2" cy="235.3" r="2.35" fill="#0000ff"/>
<circle cx="399.9" cy="235.3" r="2.35" fill="#0000ff"/>
<circle cx="404.1" cy="237.9" r="2.35" fill="#0000ff"/>
<circle cx="414.4" cy="235.8" r="2.35" fill="#0000ff"/>
<circle cx="380.6" cy="238.1" r="2.35" fill="#0000ff"/>
<circle cx="387.1" cy="238.1" r="2.35" fill="#0000ff"/>
<circle cx="378.3" cy="242.7" r="2.35" fill="#0000ff"/>
<circle cx="383.4" cy="240.8" r="2.35" fill="#0000ff"/>
<circle cx="390.7" cy="242.2" r="2.35" fill="#0000ff"/>
<circle cx="381.5" cy="245.9" r="2.35" fill="#0000ff"/>
<circle cx="387.1" cy="245.4" r="2.35" fill="#0000ff"/>
<circle cx="383.4" cy="250.0" r="2.35" fill="#0000ff"/>
<circle cx="393.5" cy="251.0" r="2.35" fill="#0000ff"/>
<circle cx="420.6" cy="252.8" r="2.35" fill="#0000ff"/>
<circle cx="381.5" cy="254.6" r="2.35" fill="#0000ff"/>
<circle cx="387.1" cy="253.7" r="2.35" fill="#0000ff"/>
<circle cx="392.6" cy="256.0" r="2.35" fill="#0000ff"/>
<circle cx="407.6" cy="259.2" r="2.35" fill="#0000ff"/>
<circle cx="382.5" cy="258.3" r="2.35" fill="#0000ff"/>
<circle cx="388.0" cy="259.2" r="2.35" fill="#0000ff"/>
<circle cx="393.5" cy="260.1" r="2.35" fill="#0000ff"/>
<circle cx="378.8" cy="262.9" r="2.35" fill="#0000ff"/>
<circle cx="384.3" cy="262.4" r="2.35" fill="#0000ff"/>
<circle cx="389.8" cy="262.4" r="2.35" fill="#0000ff"/>
<circle cx="394.9" cy="262.4" r="2.35" fill="#0000ff"/>
<circle cx="379.7" cy="262.8" r="2.35" fill="#0000ff"/>
<circle cx="384.8" cy="261.8" r="2.35" fill="#0000ff"/>
<circle cx="389.8" cy="261.8" r="2.35" fill="#0000ff"/>
<circle cx="394.9" cy="262.8" r="2.35" fill="#0000ff"/>
<circle cx="377.4" cy="266.9" r="2.35" fill="#0000ff"/>
<circle cx="382.5" cy="267.8" r="2.35" fill="#0000ff"/>
<circle cx="390.7" cy="268.3" r="2.35" fill="#0000ff"/>
<circle cx="391.7" cy="270.6" r="2.35" fill="#0000ff"/>
<circle cx="383.4" cy="271.9" r="2.35" fill="#0000ff"/>
<circle cx="389.8" cy="273.8" r="2.35" fill="#0000ff"/>
<circle cx="380.6" cy="277.5" r="2.35" fill="#0000ff"/>
<circle cx="383.4" cy="279.8" r="2.35" fill="#0000ff"/>
<circle cx="378.8" cy="282.5" r="2.35" fill="#0000ff"/>
<circle cx="383.4" cy="283.0" r="2.35" fill="#0000ff"/>
<circle cx="379.2" cy="285.3" r="2.35" fill="#0000ff"/>
<circle cx="385.2" cy="287.6" r="2.35" fill="#0000ff"/>
<circle cx="407.7" cy="286.7" r="2.35" fill="#0000ff"/>
<circle cx="381.5" cy="289.4" r="2.35" fill="#0000ff"/>
<circle cx="383.8" cy="291.2" r="2.35" fill="#0000ff"/>
<circle cx="378.8" cy="293.1" r="2.35" fill="#0000ff"/>
<circle cx="389.4" cy="296.8" r="2.35" fill="#0000ff"/>
<circle cx="386.1" cy="298.1" r="2.35" fill="#0000ff"/>
<circle cx="381.1" cy="299.5" r="2.35" fill="#0000ff"/>
<circle cx="397.6" cy="299.5" r="2.35" fill="#0000ff"/>
<circle cx="399.5" cy="299.5" r="2.35" fill="#0000ff"/>
<circle cx="389.4" cy="302.3" r="2.35" fill="#0000ff"/>
<circle cx="388.0" cy="305.0" r="2.35" fill="#0000ff"/>
<circle cx="388.9" cy="306.9" r="2.35" fill="#0000ff"/>
<circle cx="394.9" cy="311.0" r="2.35" fill="#0000ff"/>
<circle cx="388.4" cy="314.7" r="2.35" fill="#0000ff"/>
<circle cx="384.8" cy="316.5" r="2.35" fill="#0000ff"/>
<circle cx="387.5" cy="318.8" r="2.35" fill="#0000ff"/>
<circle cx="389.8" cy="320.6" r="2.35" fill="#0000ff"/>
<circle cx="381.7" cy="336.1" r="2.35" fill="#0000ff"/>
<circle cx="392.6" cy="335.8" r="2.35" fill="#0000ff"/>
<circle cx="391.3" cy="348.6" r="2.35" fill="#0000ff"/>
<circle cx="399.4" cy="172.8" r="2.35" fill="#0000ff"/>
<circle cx="400.1" cy="182.0" r="2.35" fill="#0000ff"/>
<circle cx="406.7" cy="192.3" r="2.35" fill="#0000ff"/>
<circle cx="399.1" cy="198.7" r="2.35" fill="#0000ff"/>
<circle cx="399.1" cy="205.3" r="2.35" fill="#0000ff"/>
<circle cx="380.0" cy="220.0" r="2.35" fill="#0000ff"/>
<circle cx="379.0" cy="226.0" r="2.35" fill="#0000ff"/>
<circle cx="381.0" cy="230.0" r="2.35" fill="#0000ff"/>
<circle cx="385.0" cy="236.0" r="2.35" fill="#0000ff"/>
<circle cx="380.0" cy="248.0" r="2.35" fill="#0000ff"/>
<circle cx="385.0" cy="244.0" r="2.35" fill="#0000ff"/>
<circle cx="390.0" cy="248.0" r="2.35" fill="#0000ff"/>
<circle cx="386.0" cy="256.0" r="2.35" fill="#0000ff"/>
<circle cx="380.0" cy="258.0" r="2.35" fill="#0000ff"/>
<circle cx="383.0" cy="266.0" r="2.35" fill="#0000ff"/>
<circle cx="388.0" cy="265.0" r="2.35" fill="#0000ff"/>
<circle cx="386.0" cy="276.0" r="2.35" fill="#0000ff"/>
<circle cx="382.0" cy="274.0" r="2.35" fill="#0000ff"/>
<circle cx="386.0" cy="286.0" r="2.35" fill="#0000ff"/>
<circle cx="381.0" cy="296.0" r="2.35" fill="#0000ff"/>
<circle cx="384.0" cy="302.0" r="2.35" fill="#0000ff"/>
<circle cx="385.0" cy="308.0" r="2.35" fill="#0000ff"/>
<circle cx="430.0" cy="243.3" r="2.35" fill="#0000ff"/>
<circle cx="421.0" cy="252.9" r="2.35" fill="#0000ff"/>
<circle cx="466.6" cy="252.5" r="2.35" fill="#0000ff"/>
<circle cx="474.3" cy="240.5" r="2.35" fill="#0000ff"/>
<circle cx="505.2" cy="214.1" r="2.35" fill="#0000ff"/>
<circle cx="513.5" cy="253.1" r="2.35" fill="#0000ff"/>
<circle cx="529.3" cy="232.6" r="2.35" fill="#0000ff"/>
<circle cx="550.2" cy="237.9" r="2.35" fill="#0000ff"/>
<circle cx="557.0" cy="239.6" r="2.35" fill="#0000ff"/>
<circle cx="546.5" cy="244.7" r="2.35" fill="#0000ff"/>
<circle cx="544.6" cy="250.6" r="2.35" fill="#0000ff"/>
<circle cx="564.3" cy="238.9" r="2.35" fill="#0000ff"/>
<circle cx="568.7" cy="241.1" r="2.35" fill="#0000ff"/>
<circle cx="573.1" cy="237.9" r="2.35" fill="#0000ff"/>
<circle cx="384.0" cy="140.3" r="2.35" fill="#7f007f"/>
<circle cx="391.7" cy="202.4" r="2.35" fill="#7f007f"/>
<circle cx="386.3" cy="168.1" r="2.35" fill="#00ff00"/>
<circle cx="389.2" cy="251.0" r="2.35" fill="#00ff00"/>
<circle cx="395.8" cy="285.9" r="2.35" fill="#00ff00"/>
<circle cx="385.0" cy="310.3" r="2.35" fill="#00ff00"/>
<circle cx="441.2" cy="247.7" r="2.35" fill="#00ff00"/>
<circle cx="417.7" cy="222.6" r="2.35" fill="#ffff00"/>
<circle cx="482.8" cy="201.4" r="2.35" fill="#ff0000"/>
<circle cx="468.4" cy="219.2" r="2.35" fill="#ff0000"/>
<circle cx="470.2" cy="233.9" r="2.35" fill="#ff0000"/>
<circle cx="472.4" cy="242.5" r="2.35" fill="#ff0000"/>
<circle cx="494.7" cy="241.0" r="2.35" fill="#ff0000"/>
<circle cx="446.6" cy="256.8" r="2.35" fill="#ff0000"/>
<circle cx="474.3" cy="240.0" r="2.35" fill="#0000ff"/>
<circle cx="576.8" cy="238.6" r="2.35" fill="#ff0000"/>
<circle cx="564.3" cy="238.9" r="2.35" fill="#0000ff"/>
<circle cx="568.7" cy="241.1" r="2.35" fill="#0000ff"/>
<circle cx="573.1" cy="237.9" r="2.35" fill="#0000ff"/>
<circle cx="514.0" cy="236.0" r="2.35" fill="#00ff00"/>
<circle cx="515.7" cy="236.4" r="2.35" fill="#00ff00"/>
<circle cx="527.4" cy="230.9" r="2.35" fill="#00ff00"/>
<circle cx="545.4" cy="225.0" r="2.35" fill="#00ff00"/>
<circle cx="543.2" cy="229.1" r="2.35" fill="#00ff00"/>
<circle cx="546.8" cy="231.2" r="2.35" fill="#00ff00"/>
<circle cx="538.8" cy="235.3" r="2.35" fill="#00ff00"/>
<circle cx="542.4" cy="233.8" r="2.35" fill="#00ff00"/>
<circle cx="535.9" cy="240.8" r="2.35" fill="#00ff00"/>
<circle cx="543.2" cy="239.6" r="2.35" fill="#00ff00"/>
<circle cx="547.6" cy="240.4" r="2.35" fill="#00ff00"/>
<circle cx="554.1" cy="236.4" r="2.35" fill="#00ff00"/>
<circle cx="559.2" cy="233.5" r="2.35" fill="#00ff00"/>
<circle cx="565.5" cy="233.8" r="2.35" fill="#00ff00"/>
<circle cx="552.7" cy="244.3" r="2.35" fill="#00ff00"/>
<circle cx="544.6" cy="253.9" r="2.35" fill="#00ff00"/>
<circle cx="562.2" cy="241.1" r="2.35" fill="#00ff00"/>
<circle cx="562.9" cy="244.7" r="2.35" fill="#00ff00"/>
<circle cx="568.0" cy="244.0" r="2.35" fill="#00ff00"/>
<circle cx="573.8" cy="240.4" r="2.35" fill="#00ff00"/>
<circle cx="580.4" cy="241.4" r="2.35" fill="#00ff00"/>
<circle cx="575.3" cy="244.0" r="2.35" fill="#00ff00"/>
<circle cx="570.9" cy="244.7" r="2.35" fill="#00ff00"/>
<circle cx="559.2" cy="242.6" r="2.35" fill="#00ff00"/>
<circle cx="554.9" cy="243.3" r="2.35" fill="#00ff00"/>
<circle cx="566.0" cy="242.0" r="2.35" fill="#00ff00"/>
<circle cx="571.0" cy="242.5" r="2.35" fill="#00ff00"/>
<circle cx="576.0" cy="241.0" r="2.35" fill="#00ff00"/>
<circle cx="578.0" cy="243.5" r="2.35" fill="#00ff00"/>
<circle cx="556.0" cy="241.0" r="2.35" fill="#00ff00"/>
<circle cx="561.0" cy="238.5" r="2.35" fill="#00ff00"/>
<circle cx="550.0" cy="241.5" r="2.35" fill="#00ff00"/>
<circle cx="582.0" cy="242.0" r="2.35" fill="#00ff00"/>
<circle cx="529.3" cy="232.6" r="2.35" fill="#0000ff"/>
<circle cx="550.2" cy="237.9" r="2.35" fill="#0000ff"/>
<circle cx="557.0" cy="239.6" r="2.35" fill="#0000ff"/>
<circle cx="546.5" cy="244.7" r="2.35" fill="#0000ff"/>
<circle cx="544.6" cy="250.6" r="2.35" fill="#0000ff"/>
<circle cx="567.5" cy="240.5" r="2.35" fill="#0000ff"/>
<circle cx="618.2" cy="176.5" r="2.4" fill="#ff0000"/>
<text x="633.7" y="183.4" font-family="Liberation Serif" font-size="19.2" text-anchor="start" fill="#000" font-weight="normal" >admix</text>
<circle cx="618.2" cy="195.3" r="2.4" fill="#ffff00"/>
<text x="633.7" y="202.25" font-family="Liberation Serif" font-size="19.2" text-anchor="start" fill="#000" font-weight="normal" >Aus</text>
<circle cx="618.2" cy="214.2" r="2.4" fill="#7f007f"/>
<text x="633.7" y="221.1" font-family="Liberation Serif" font-size="19.2" text-anchor="start" fill="#000" font-weight="normal" >Bas</text>
<circle cx="618.2" cy="233.1" r="2.4" fill="#00ff00"/>
<text x="633.7" y="239.95000000000002" font-family="Liberation Serif" font-size="19.2" text-anchor="start" fill="#000" font-weight="normal" >geng</text>
<circle cx="618.2" cy="251.9" r="2.4" fill="#0000ff"/>
<text x="633.7" y="258.8" font-family="Liberation Serif" font-size="19.2" text-anchor="start" fill="#000" font-weight="normal" >xian</text>
<rect x="64.0" y="409.5" width="214.8" height="214.3" fill="#f9e29c"/>
<rect x="64.0" y="409.5" width="154.6" height="61.9" fill="#fdf1b9"/>
<rect x="218.6" y="409.5" width="19.0" height="41.5" fill="#fae6ad"/>
<rect x="237.6" y="409.5" width="8.6" height="41.5" fill="#f9e3a8"/>
<rect x="246.2" y="409.5" width="32.6" height="41.5" fill="#f6d27c"/>
<rect x="218.6" y="451.0" width="60.2" height="20.4" fill="#f8dc98"/>
<rect x="237.6" y="451.0" width="8.6" height="20.4" fill="#f6d48a"/>
<rect x="246.2" y="451.0" width="32.6" height="20.4" fill="#f7d98f"/>
<rect x="221.5" y="471.4" width="57.3" height="152.4" fill="#fffec8"/>
<rect x="199.6" y="471.4" width="21.9" height="152.4" fill="#fae8b0"/>
<rect x="151.0" y="409.5" width="5.0" height="61.9" fill="#fef6d0" fill-opacity="0.8"/>
<rect x="113.2" y="409.5" width="1.2" height="61.9" fill="#fef6d0" fill-opacity="0.8"/>
<rect x="127.4" y="409.5" width="1.2" height="61.9" fill="#fef6d0" fill-opacity="0.8"/>
<rect x="181.0" y="409.5" width="1.2" height="61.9" fill="#fef6d0" fill-opacity="0.6"/>
<path fill="#fdeebd" d="M66.0 471.4h2.0v2.0h-2.0zM72.1 471.4h2.0v2.0h-2.0zM96.4 471.4h6.1v2.0h-6.1zM118.6 471.4h6.1v2.0h-6.1zM126.7 471.4h4.0v2.0h-4.0zM134.8 471.4h4.0v2.0h-4.0zM145.0 471.4h2.0v2.0h-2.0zM153.1 471.4h2.0v2.0h-2.0zM161.1 471.4h2.0v2.0h-2.0zM167.2 471.4h2.0v2.0h-2.0zM173.3 471.4h6.1v2.0h-6.1zM181.4 471.4h2.0v2.0h-2.0zM74.1 473.4h2.0v2.0h-2.0zM96.4 473.4h2.0v2.0h-2.0zM100.4 473.4h2.0v2.0h-2.0zM108.5 473.4h2.0v2.0h-2.0zM130.8 473.4h2.0v2.0h-2.0zM145.0 473.4h2.0v2.0h-2.0zM179.4 473.4h2.0v2.0h-2.0zM78.2 475.4h4.0v2.0h-4.0zM98.4 475.4h4.0v2.0h-4.0zM118.6 475.4h2.0v2.0h-2.0zM122.7 475.4h4.0v2.0h-4.0zM128.8 475.4h4.0v2.0h-4.0zM136.9 475.4h2.0v2.0h-2.0zM145.0 475.4h2.0v2.0h-2.0zM157.1 475.4h2.0v2.0h-2.0zM161.1 475.4h2.0v2.0h-2.0zM165.2 475.4h4.0v2.0h-4.0zM179.4 475.4h2.0v2.0h-2.0zM187.5 475.4h2.0v2.0h-2.0zM66.0 477.5h2.0v2.0h-2.0zM74.1 477.5h2.0v2.0h-2.0zM98.4 477.5h2.0v2.0h-2.0zM112.6 477.5h6.1v2.0h-6.1zM122.7 477.5h2.0v2.0h-2.0zM134.8 477.5h2.0v2.0h-2.0zM140.9 477.5h2.0v2.0h-2.0zM145.0 477.5h2.0v2.0h-2.0zM169.2 477.5h2.0v2.0h-2.0zM185.4 477.5h2.0v2.0h-2.0zM195.6 477.5h2.0v2.0h-2.0zM82.2 479.5h2.0v2.0h-2.0zM90.3 479.5h2.0v2.0h-2.0zM94.4 479.5h6.1v2.0h-6.1zM104.5 479.5h2.0v2.0h-2.0zM108.5 479.5h4.0v2.0h-4.0zM130.8 479.5h2.0v2.0h-2.0zM145.0 479.5h4.0v2.0h-4.0zM181.4 479.5h2.0v2.0h-2.0zM185.4 479.5h2.0v2.0h-2.0zM64.0 481.5h4.0v2.0h-4.0zM70.1 481.5h2.0v2.0h-2.0zM84.2 481.5h2.0v2.0h-2.0zM94.4 481.5h2.0v2.0h-2.0zM100.4 481.5h2.0v2.0h-2.0zM104.5 481.5h8.1v2.0h-8.1zM116.6 481.5h2.0v2.0h-2.0zM122.7 481.5h6.1v2.0h-6.1zM130.8 481.5h8.1v2.0h-8.1zM145.0 481.5h8.1v2.0h-8.1zM157.1 481.5h2.0v2.0h-2.0zM161.1 481.5h2.0v2.0h-2.0zM167.2 481.5h4.0v2.0h-4.0zM175.3 481.5h6.1v2.0h-6.1zM183.4 481.5h6.1v2.0h-6.1zM195.6 481.5h2.0v2.0h-2.0zM64.0 483.5h4.0v2.0h-4.0zM74.1 483.5h2.0v2.0h-2.0zM94.4 483.5h6.1v2.0h-6.1zM114.6 483.5h2.0v2.0h-2.0zM122.7 483.5h2.0v2.0h-2.0zM130.8 483.5h2.0v2.0h-2.0zM145.0 483.5h2.0v2.0h-2.0zM177.3 483.5h2.0v2.0h-2.0zM187.5 483.5h2.0v2.0h-2.0zM195.6 483.5h2.0v2.0h-2.0zM64.0 485.5h6.1v2.0h-6.1zM72.1 485.5h2.0v2.0h-2.0zM80.2 485.5h2.0v2.0h-2.0zM84.2 485.5h2.0v2.0h-2.0zM88.3 485.5h2.0v2.0h-2.0zM94.4 485.5h2.0v2.0h-2.0zM98.4 485.5h4.0v2.0h-4.0zM104.5 485.5h6.1v2.0h-6.1zM114.6 485.5h6.1v2.0h-6.1zM122.7 485.5h2.0v2.0h-2.0zM128.8 485.5h4.0v2.0h-4.0zM138.9 485.5h2.0v2.0h-2.0zM145.0 485.5h2.0v2.0h-2.0zM153.1 485.5h2.0v2.0h-2.0zM157.1 485.5h2.0v2.0h-2.0zM161.1 485.5h2.0v2.0h-2.0zM167.2 485.5h4.0v2.0h-4.0zM175.3 485.5h6.1v2.0h-6.1zM187.5 485.5h2.0v2.0h-2.0zM191.5 485.5h2.0v2.0h-2.0zM195.6 485.5h2.0v2.0h-2.0zM64.0 487.6h4.0v2.0h-4.0zM74.1 487.6h2.0v2.0h-2.0zM88.3 487.6h2.0v2.0h-2.0zM98.4 487.6h4.0v2.0h-4.0zM114.6 487.6h2.0v2.0h-2.0zM122.7 487.6h2.0v2.0h-2.0zM130.8 487.6h2.0v2.0h-2.0zM147.0 487.6h4.0v2.0h-4.0zM153.1 487.6h2.0v2.0h-2.0zM157.1 487.6h2.0v2.0h-2.0zM165.2 487.6h4.0v2.0h-4.0zM171.3 487.6h2.0v2.0h-2.0zM175.3 487.6h6.1v2.0h-6.1zM64.0 489.6h4.0v2.0h-4.0zM80.2 489.6h2.0v2.0h-2.0zM98.4 489.6h2.0v2.0h-2.0zM114.6 489.6h4.0v2.0h-4.0zM126.7 489.6h2.0v2.0h-2.0zM140.9 489.6h2.0v2.0h-2.0zM145.0 489.6h2.0v2.0h-2.0zM149.0 489.6h4.0v2.0h-4.0zM167.2 489.6h2.0v2.0h-2.0zM185.4 489.6h2.0v2.0h-2.0zM64.0 491.6h2.0v2.0h-2.0zM84.2 491.6h2.0v2.0h-2.0zM98.4 491.6h2.0v2.0h-2.0zM104.5 491.6h2.0v2.0h-2.0zM108.5 491.6h2.0v2.0h-2.0zM112.6 491.6h2.0v2.0h-2.0zM132.8 491.6h2.0v2.0h-2.0zM145.0 491.6h2.0v2.0h-2.0zM161.1 491.6h2.0v2.0h-2.0zM167.2 491.6h2.0v2.0h-2.0zM177.3 491.6h4.0v2.0h-4.0zM185.4 491.6h4.0v2.0h-4.0zM193.5 491.6h4.0v2.0h-4.0zM136.9 493.6h2.0v2.0h-2.0zM92.3 495.6h4.0v2.0h-4.0zM98.4 495.6h2.0v2.0h-2.0zM128.8 495.6h4.0v2.0h-4.0zM136.9 495.6h2.0v2.0h-2.0zM145.0 495.6h2.0v2.0h-2.0zM151.0 495.6h2.0v2.0h-2.0zM167.2 495.6h4.0v2.0h-4.0zM175.3 495.6h4.0v2.0h-4.0zM64.0 497.7h2.0v2.0h-2.0zM68.0 497.7h2.0v2.0h-2.0zM96.4 497.7h4.0v2.0h-4.0zM104.5 497.7h2.0v2.0h-2.0zM114.6 497.7h2.0v2.0h-2.0zM126.7 497.7h2.0v2.0h-2.0zM130.8 497.7h6.1v2.0h-6.1zM145.0 497.7h4.0v2.0h-4.0zM151.0 497.7h2.0v2.0h-2.0zM157.1 497.7h2.0v2.0h-2.0zM167.2 497.7h2.0v2.0h-2.0zM175.3 497.7h4.0v2.0h-4.0zM187.5 497.7h2.0v2.0h-2.0zM195.6 497.7h2.0v2.0h-2.0zM64.0 499.7h2.0v2.0h-2.0zM84.2 499.7h4.0v2.0h-4.0zM106.5 499.7h2.0v2.0h-2.0zM118.6 499.7h2.0v2.0h-2.0zM130.8 499.7h4.0v2.0h-4.0zM187.5 499.7h2.0v2.0h-2.0zM64.0 501.7h4.0v2.0h-4.0zM74.1 501.7h2.0v2.0h-2.0zM90.3 501.7h2.0v2.0h-2.0zM96.4 501.7h2.0v2.0h-2.0zM100.4 501.7h2.0v2.0h-2.0zM104.5 501.7h2.0v2.0h-2.0zM114.6 501.7h2.0v2.0h-2.0zM122.7 501.7h2.0v2.0h-2.0zM126.7 501.7h2.0v2.0h-2.0zM134.8 501.7h2.0v2.0h-2.0zM145.0 501.7h2.0v2.0h-2.0zM163.2 501.7h2.0v2.0h-2.0zM167.2 501.7h12.1v2.0h-12.1zM195.6 501.7h2.0v2.0h-2.0zM64.0 503.7h2.0v2.0h-2.0zM88.3 503.7h2.0v2.0h-2.0zM98.4 503.7h2.0v2.0h-2.0zM106.5 503.7h2.0v2.0h-2.0zM124.7 503.7h2.0v2.0h-2.0zM136.9 503.7h2.0v2.0h-2.0zM157.1 503.7h2.0v2.0h-2.0zM169.2 503.7h2.0v2.0h-2.0zM175.3 503.7h4.0v2.0h-4.0zM187.5 503.7h2.0v2.0h-2.0zM197.6 503.7h2.0v2.0h-2.0zM76.1 505.8h2.0v2.0h-2.0zM66.0 507.8h4.0v2.0h-4.0zM94.4 507.8h2.0v2.0h-2.0zM98.4 507.8h2.0v2.0h-2.0zM108.5 507.8h2.0v2.0h-2.0zM112.6 507.8h4.0v2.0h-4.0zM136.9 507.8h2.0v2.0h-2.0zM145.0 507.8h2.0v2.0h-2.0zM157.1 507.8h2.0v2.0h-2.0zM169.2 507.8h2.0v2.0h-2.0zM177.3 507.8h2.0v2.0h-2.0zM181.4 507.8h2.0v2.0h-2.0zM64.0 509.8h4.0v2.0h-4.0zM98.4 509.8h2.0v2.0h-2.0zM108.5 509.8h2.0v2.0h-2.0zM124.7 509.8h2.0v2.0h-2.0zM151.0 509.8h2.0v2.0h-2.0zM161.1 509.8h2.0v2.0h-2.0zM167.2 509.8h2.0v2.0h-2.0zM96.4 511.8h2.0v2.0h-2.0zM122.7 511.8h2.0v2.0h-2.0zM134.8 511.8h2.0v2.0h-2.0zM149.0 511.8h4.0v2.0h-4.0zM167.2 511.8h4.0v2.0h-4.0zM175.3 511.8h2.0v2.0h-2.0zM64.0 513.8h4.0v2.0h-4.0zM80.2 513.8h2.0v2.0h-2.0zM88.3 513.8h2.0v2.0h-2.0zM102.5 513.8h4.0v2.0h-4.0zM108.5 513.8h2.0v2.0h-2.0zM114.6 513.8h2.0v2.0h-2.0zM128.8 513.8h2.0v2.0h-2.0zM132.8 513.8h2.0v2.0h-2.0zM138.9 513.8h2.0v2.0h-2.0zM142.9 513.8h6.1v2.0h-6.1zM151.0 513.8h2.0v2.0h-2.0zM169.2 513.8h2.0v2.0h-2.0zM177.3 513.8h6.1v2.0h-6.1zM195.6 513.8h2.0v2.0h-2.0zM64.0 515.9h4.0v2.0h-4.0zM94.4 515.9h2.0v2.0h-2.0zM98.4 515.9h2.0v2.0h-2.0zM102.5 515.9h4.0v2.0h-4.0zM108.5 515.9h2.0v2.0h-2.0zM114.6 515.9h4.0v2.0h-4.0zM126.7 515.9h8.1v2.0h-8.1zM136.9 515.9h2.0v2.0h-2.0zM145.0 515.9h6.1v2.0h-6.1zM157.1 515.9h4.0v2.0h-4.0zM165.2 515.9h4.0v2.0h-4.0zM177.3 515.9h4.0v2.0h-4.0zM185.4 515.9h4.0v2.0h-4.0zM195.6 515.9h2.0v2.0h-2.0zM64.0 517.9h4.0v2.0h-4.0zM82.2 517.9h2.0v2.0h-2.0zM90.3 517.9h2.0v2.0h-2.0zM98.4 517.9h4.0v2.0h-4.0zM116.6 517.9h2.0v2.0h-2.0zM122.7 517.9h2.0v2.0h-2.0zM126.7 517.9h2.0v2.0h-2.0zM145.0 517.9h4.0v2.0h-4.0zM153.1 517.9h2.0v2.0h-2.0zM159.1 517.9h4.0v2.0h-4.0zM169.2 517.9h4.0v2.0h-4.0zM177.3 517.9h6.1v2.0h-6.1zM66.0 519.9h2.0v2.0h-2.0zM72.1 519.9h2.0v2.0h-2.0zM82.2 519.9h2.0v2.0h-2.0zM96.4 519.9h4.0v2.0h-4.0zM112.6 519.9h4.0v2.0h-4.0zM118.6 519.9h2.0v2.0h-2.0zM126.7 519.9h2.0v2.0h-2.0zM134.8 519.9h4.0v2.0h-4.0zM145.0 519.9h2.0v2.0h-2.0zM157.1 519.9h2.0v2.0h-2.0zM167.2 519.9h4.0v2.0h-4.0zM187.5 519.9h2.0v2.0h-2.0zM193.5 519.9h4.0v2.0h-4.0zM64.0 521.9h2.0v2.0h-2.0zM82.2 521.9h2.0v2.0h-2.0zM104.5 521.9h4.0v2.0h-4.0zM114.6 521.9h4.0v2.0h-4.0zM134.8 521.9h2.0v2.0h-2.0zM138.9 521.9h2.0v2.0h-2.0zM149.0 521.9h2.0v2.0h-2.0zM157.1 521.9h4.0v2.0h-4.0zM165.2 521.9h6.1v2.0h-6.1zM175.3 521.9h4.0v2.0h-4.0zM84.2 523.9h2.0v2.0h-2.0zM98.4 523.9h2.0v2.0h-2.0zM110.5 523.9h2.0v2.0h-2.0zM116.6 523.9h2.0v2.0h-2.0zM126.7 523.9h2.0v2.0h-2.0zM149.0 523.9h2.0v2.0h-2.0zM177.3 523.9h2.0v2.0h-2.0zM64.0 526.0h4.0v2.0h-4.0zM82.2 526.0h2.0v2.0h-2.0zM90.3 526.0h2.0v2.0h-2.0zM94.4 526.0h2.0v2.0h-2.0zM104.5 526.0h6.1v2.0h-6.1zM114.6 526.0h6.1v2.0h-6.1zM126.7 526.0h2.0v2.0h-2.0zM130.8 526.0h4.0v2.0h-4.0zM136.9 526.0h2.0v2.0h-2.0zM151.0 526.0h2.0v2.0h-2.0zM155.1 526.0h4.0v2.0h-4.0zM161.1 526.0h2.0v2.0h-2.0zM177.3 526.0h4.0v2.0h-4.0zM185.4 526.0h4.0v2.0h-4.0zM195.6 526.0h2.0v2.0h-2.0zM74.1 528.0h2.0v2.0h-2.0zM96.4 528.0h2.0v2.0h-2.0zM112.6 528.0h2.0v2.0h-2.0zM130.8 528.0h2.0v2.0h-2.0zM151.0 528.0h4.0v2.0h-4.0zM195.6 528.0h2.0v2.0h-2.0z"/>
<path fill="#fdeebd" d="M64.0 530.0h2.0v2.0h-2.0zM72.1 530.0h2.0v2.0h-2.0zM84.2 530.0h2.0v2.0h-2.0zM114.6 530.0h2.0v2.0h-2.0zM132.8 530.0h2.0v2.0h-2.0zM136.9 530.0h2.0v2.0h-2.0zM140.9 530.0h2.0v2.0h-2.0zM177.3 530.0h2.0v2.0h-2.0zM64.0 532.0h2.0v2.0h-2.0zM84.2 532.0h2.0v2.0h-2.0zM90.3 532.0h2.0v2.0h-2.0zM96.4 532.0h2.0v2.0h-2.0zM110.5 532.0h2.0v2.0h-2.0zM114.6 532.0h2.0v2.0h-2.0zM122.7 532.0h2.0v2.0h-2.0zM134.8 532.0h4.0v2.0h-4.0zM151.0 532.0h2.0v2.0h-2.0zM163.2 532.0h2.0v2.0h-2.0zM173.3 532.0h2.0v2.0h-2.0zM96.4 534.1h2.0v2.0h-2.0zM151.0 534.1h2.0v2.0h-2.0zM155.1 534.1h2.0v2.0h-2.0zM64.0 536.1h4.0v2.0h-4.0zM78.2 536.1h2.0v2.0h-2.0zM90.3 536.1h2.0v2.0h-2.0zM96.4 536.1h2.0v2.0h-2.0zM102.5 536.1h2.0v2.0h-2.0zM106.5 536.1h2.0v2.0h-2.0zM114.6 536.1h2.0v2.0h-2.0zM122.7 536.1h4.0v2.0h-4.0zM136.9 536.1h2.0v2.0h-2.0zM145.0 536.1h2.0v2.0h-2.0zM151.0 536.1h2.0v2.0h-2.0zM167.2 536.1h2.0v2.0h-2.0zM175.3 536.1h2.0v2.0h-2.0zM191.5 536.1h2.0v2.0h-2.0zM151.0 538.2h2.0v2.0h-2.0zM64.0 540.2h2.0v2.0h-2.0zM64.0 542.2h2.0v2.0h-2.0zM72.1 542.2h2.0v2.0h-2.0zM78.2 542.2h2.0v2.0h-2.0zM90.3 542.2h2.0v2.0h-2.0zM96.4 542.2h2.0v2.0h-2.0zM110.5 542.2h2.0v2.0h-2.0zM136.9 542.2h2.0v2.0h-2.0zM151.0 542.2h2.0v2.0h-2.0zM197.6 542.2h2.0v2.0h-2.0zM96.4 544.3h2.0v2.0h-2.0zM136.9 544.3h2.0v2.0h-2.0zM175.3 544.3h2.0v2.0h-2.0zM76.1 546.3h2.0v2.0h-2.0zM98.4 546.3h2.0v2.0h-2.0zM72.1 548.4h2.0v2.0h-2.0zM136.9 548.4h2.0v2.0h-2.0zM142.9 548.4h2.0v2.0h-2.0zM153.1 548.4h2.0v2.0h-2.0zM167.2 548.4h2.0v2.0h-2.0zM197.6 548.4h2.0v2.0h-2.0zM64.0 550.4h2.0v2.0h-2.0zM68.0 550.4h2.0v2.0h-2.0zM78.2 550.4h2.0v2.0h-2.0zM120.7 550.4h2.0v2.0h-2.0zM136.9 550.4h2.0v2.0h-2.0zM151.0 550.4h2.0v2.0h-2.0zM64.0 552.4h2.0v2.0h-2.0zM64.0 554.5h2.0v2.0h-2.0zM122.7 554.5h2.0v2.0h-2.0zM136.9 554.5h2.0v2.0h-2.0zM151.0 554.5h2.0v2.0h-2.0zM167.2 554.5h2.0v2.0h-2.0zM175.3 554.5h4.0v2.0h-4.0zM193.5 554.5h2.0v2.0h-2.0zM64.0 556.5h2.0v2.0h-2.0zM82.2 556.5h2.0v2.0h-2.0zM110.5 556.5h2.0v2.0h-2.0zM151.0 556.5h2.0v2.0h-2.0zM175.3 556.5h2.0v2.0h-2.0zM64.0 558.5h2.0v2.0h-2.0zM136.9 558.5h2.0v2.0h-2.0zM147.0 558.5h2.0v2.0h-2.0zM157.1 558.5h2.0v2.0h-2.0zM64.0 560.6h2.0v2.0h-2.0zM70.1 560.6h4.0v2.0h-4.0zM90.3 560.6h2.0v2.0h-2.0zM136.9 560.6h2.0v2.0h-2.0zM151.0 560.6h2.0v2.0h-2.0zM161.1 560.6h2.0v2.0h-2.0zM175.3 560.6h2.0v2.0h-2.0zM64.0 562.6h2.0v2.0h-2.0zM96.4 562.6h2.0v2.0h-2.0zM118.6 562.6h2.0v2.0h-2.0zM136.9 562.6h2.0v2.0h-2.0zM183.4 562.6h2.0v2.0h-2.0zM64.0 564.7h2.0v2.0h-2.0zM70.1 564.7h2.0v2.0h-2.0zM96.4 564.7h2.0v2.0h-2.0zM120.7 564.7h2.0v2.0h-2.0zM151.0 564.7h2.0v2.0h-2.0zM163.2 564.7h2.0v2.0h-2.0zM167.2 564.7h2.0v2.0h-2.0zM183.4 564.7h2.0v2.0h-2.0zM98.4 566.7h4.0v2.0h-4.0zM122.7 566.7h2.0v2.0h-2.0zM151.0 566.7h2.0v2.0h-2.0zM189.5 566.7h2.0v2.0h-2.0zM64.0 568.7h2.0v2.0h-2.0zM102.5 568.7h2.0v2.0h-2.0zM114.6 568.7h2.0v2.0h-2.0zM132.8 568.7h2.0v2.0h-2.0zM136.9 568.7h2.0v2.0h-2.0zM155.1 568.7h2.0v2.0h-2.0zM175.3 568.7h2.0v2.0h-2.0zM70.1 570.8h2.0v2.0h-2.0zM90.3 570.8h2.0v2.0h-2.0zM126.7 570.8h2.0v2.0h-2.0zM151.0 570.8h4.0v2.0h-4.0zM98.4 572.8h2.0v2.0h-2.0zM112.6 572.8h2.0v2.0h-2.0zM118.6 572.8h2.0v2.0h-2.0zM147.0 572.8h2.0v2.0h-2.0zM151.0 572.8h2.0v2.0h-2.0zM175.3 574.9h2.0v2.0h-2.0zM64.0 576.9h2.0v2.0h-2.0zM74.1 576.9h2.0v2.0h-2.0zM88.3 576.9h2.0v2.0h-2.0zM116.6 576.9h2.0v2.0h-2.0zM130.8 576.9h4.0v2.0h-4.0zM136.9 576.9h2.0v2.0h-2.0zM151.0 576.9h2.0v2.0h-2.0zM197.6 576.9h2.0v2.0h-2.0zM64.0 578.9h4.0v2.0h-4.0zM80.2 578.9h4.0v2.0h-4.0zM90.3 578.9h2.0v2.0h-2.0zM96.4 578.9h2.0v2.0h-2.0zM102.5 578.9h2.0v2.0h-2.0zM114.6 578.9h2.0v2.0h-2.0zM136.9 578.9h2.0v2.0h-2.0zM151.0 578.9h4.0v2.0h-4.0zM165.2 578.9h2.0v2.0h-2.0zM175.3 578.9h4.0v2.0h-4.0zM183.4 578.9h4.0v2.0h-4.0zM189.5 578.9h2.0v2.0h-2.0zM197.6 578.9h2.0v2.0h-2.0zM64.0 581.0h2.0v2.0h-2.0zM88.3 581.0h2.0v2.0h-2.0zM102.5 581.0h2.0v2.0h-2.0zM120.7 581.0h2.0v2.0h-2.0zM136.9 581.0h2.0v2.0h-2.0zM145.0 581.0h4.0v2.0h-4.0zM151.0 581.0h6.1v2.0h-6.1zM171.3 581.0h2.0v2.0h-2.0zM175.3 581.0h4.0v2.0h-4.0zM183.4 581.0h2.0v2.0h-2.0zM189.5 581.0h4.0v2.0h-4.0zM195.6 581.0h2.0v2.0h-2.0zM64.0 583.0h2.0v2.0h-2.0zM96.4 583.0h4.0v2.0h-4.0zM114.6 583.0h2.0v2.0h-2.0zM122.7 583.0h2.0v2.0h-2.0zM130.8 583.0h2.0v2.0h-2.0zM151.0 583.0h2.0v2.0h-2.0zM157.1 583.0h2.0v2.0h-2.0zM175.3 583.0h2.0v2.0h-2.0zM187.5 583.0h6.1v2.0h-6.1zM197.6 583.0h2.0v2.0h-2.0zM64.0 585.1h2.0v2.0h-2.0zM104.5 585.1h2.0v2.0h-2.0zM132.8 585.1h2.0v2.0h-2.0zM64.0 587.1h2.0v2.0h-2.0zM151.0 587.1h2.0v2.0h-2.0zM175.3 587.1h4.0v2.0h-4.0zM185.4 587.1h2.0v2.0h-2.0zM64.0 589.1h2.0v2.0h-2.0zM92.3 589.1h2.0v2.0h-2.0zM114.6 589.1h2.0v2.0h-2.0zM140.9 589.1h2.0v2.0h-2.0zM151.0 589.1h2.0v2.0h-2.0zM64.0 591.2h2.0v2.0h-2.0zM68.0 591.2h4.0v2.0h-4.0zM86.3 591.2h2.0v2.0h-2.0zM92.3 591.2h2.0v2.0h-2.0zM96.4 591.2h2.0v2.0h-2.0zM110.5 591.2h2.0v2.0h-2.0zM114.6 591.2h2.0v2.0h-2.0zM130.8 591.2h2.0v2.0h-2.0zM136.9 591.2h2.0v2.0h-2.0zM151.0 591.2h2.0v2.0h-2.0zM155.1 591.2h2.0v2.0h-2.0zM161.1 591.2h2.0v2.0h-2.0zM171.3 591.2h2.0v2.0h-2.0zM175.3 591.2h4.0v2.0h-4.0zM197.6 591.2h2.0v2.0h-2.0zM116.6 593.2h2.0v2.0h-2.0zM145.0 593.2h2.0v2.0h-2.0zM151.0 593.2h2.0v2.0h-2.0zM76.1 595.3h2.0v2.0h-2.0zM84.2 595.3h2.0v2.0h-2.0zM96.4 595.3h2.0v2.0h-2.0zM130.8 595.3h2.0v2.0h-2.0zM136.9 595.3h2.0v2.0h-2.0zM151.0 595.3h2.0v2.0h-2.0zM195.6 595.3h2.0v2.0h-2.0zM64.0 597.3h4.0v2.0h-4.0zM72.1 597.3h2.0v2.0h-2.0zM96.4 597.3h2.0v2.0h-2.0zM110.5 597.3h2.0v2.0h-2.0zM114.6 597.3h2.0v2.0h-2.0zM151.0 597.3h2.0v2.0h-2.0zM187.5 597.3h2.0v2.0h-2.0zM191.5 597.3h2.0v2.0h-2.0zM64.0 599.3h4.0v2.0h-4.0zM90.3 599.3h2.0v2.0h-2.0zM110.5 599.3h2.0v2.0h-2.0zM151.0 599.3h2.0v2.0h-2.0zM157.1 599.3h2.0v2.0h-2.0zM169.2 599.3h2.0v2.0h-2.0zM175.3 599.3h2.0v2.0h-2.0zM64.0 601.4h2.0v2.0h-2.0zM82.2 601.4h2.0v2.0h-2.0zM86.3 601.4h2.0v2.0h-2.0zM90.3 601.4h2.0v2.0h-2.0zM96.4 601.4h2.0v2.0h-2.0zM120.7 601.4h2.0v2.0h-2.0zM136.9 601.4h2.0v2.0h-2.0zM151.0 601.4h2.0v2.0h-2.0zM175.3 601.4h2.0v2.0h-2.0zM185.4 601.4h2.0v2.0h-2.0zM64.0 603.4h2.0v2.0h-2.0zM70.1 603.4h4.0v2.0h-4.0zM82.2 603.4h2.0v2.0h-2.0zM98.4 603.4h2.0v2.0h-2.0zM120.7 603.4h2.0v2.0h-2.0zM124.7 603.4h2.0v2.0h-2.0zM136.9 603.4h2.0v2.0h-2.0zM140.9 603.4h2.0v2.0h-2.0zM151.0 603.4h2.0v2.0h-2.0zM169.2 603.4h2.0v2.0h-2.0zM175.3 603.4h4.0v2.0h-4.0zM191.5 603.4h2.0v2.0h-2.0zM197.6 603.4h2.0v2.0h-2.0zM64.0 605.4h2.0v2.0h-2.0zM70.1 605.4h4.0v2.0h-4.0zM82.2 605.4h4.0v2.0h-4.0zM90.3 605.4h2.0v2.0h-2.0zM96.4 605.4h2.0v2.0h-2.0zM104.5 605.4h2.0v2.0h-2.0zM108.5 605.4h4.0v2.0h-4.0zM120.7 605.4h4.0v2.0h-4.0zM126.7 605.4h2.0v2.0h-2.0zM130.8 605.4h8.1v2.0h-8.1zM145.0 605.4h2.0v2.0h-2.0zM151.0 605.4h2.0v2.0h-2.0zM161.1 605.4h2.0v2.0h-2.0zM167.2 605.4h2.0v2.0h-2.0zM175.3 605.4h6.1v2.0h-6.1zM187.5 605.4h6.1v2.0h-6.1zM197.6 605.4h2.0v2.0h-2.0zM64.0 607.5h2.0v2.0h-2.0zM78.2 607.5h2.0v2.0h-2.0zM90.3 607.5h2.0v2.0h-2.0zM100.4 607.5h2.0v2.0h-2.0zM104.5 607.5h2.0v2.0h-2.0zM114.6 607.5h2.0v2.0h-2.0zM124.7 607.5h4.0v2.0h-4.0zM136.9 607.5h2.0v2.0h-2.0zM151.0 607.5h2.0v2.0h-2.0zM175.3 607.5h2.0v2.0h-2.0zM189.5 607.5h6.1v2.0h-6.1zM197.6 607.5h2.0v2.0h-2.0zM64.0 609.5h2.0v2.0h-2.0zM90.3 609.5h2.0v2.0h-2.0zM96.4 609.5h2.0v2.0h-2.0zM106.5 609.5h2.0v2.0h-2.0zM110.5 609.5h2.0v2.0h-2.0zM114.6 609.5h2.0v2.0h-2.0zM136.9 609.5h2.0v2.0h-2.0zM151.0 609.5h2.0v2.0h-2.0zM155.1 609.5h4.0v2.0h-4.0zM163.2 609.5h2.0v2.0h-2.0zM167.2 609.5h2.0v2.0h-2.0zM173.3 609.5h6.1v2.0h-6.1zM195.6 609.5h2.0v2.0h-2.0zM64.0 611.6h2.0v2.0h-2.0zM96.4 611.6h4.0v2.0h-4.0zM104.5 611.6h2.0v2.0h-2.0zM120.7 611.6h2.0v2.0h-2.0zM126.7 611.6h2.0v2.0h-2.0zM136.9 611.6h2.0v2.0h-2.0zM145.0 611.6h2.0v2.0h-2.0zM151.0 611.6h2.0v2.0h-2.0zM175.3 611.6h2.0v2.0h-2.0zM64.0 613.6h2.0v2.0h-2.0zM68.0 613.6h2.0v2.0h-2.0zM88.3 613.6h2.0v2.0h-2.0zM110.5 613.6h2.0v2.0h-2.0zM145.0 613.6h2.0v2.0h-2.0zM151.0 613.6h4.0v2.0h-4.0zM175.3 613.6h2.0v2.0h-2.0zM72.1 615.6h2.0v2.0h-2.0zM96.4 615.6h2.0v2.0h-2.0zM126.7 615.6h2.0v2.0h-2.0zM136.9 615.6h2.0v2.0h-2.0zM151.0 615.6h2.0v2.0h-2.0zM157.1 615.6h2.0v2.0h-2.0zM197.6 615.6h2.0v2.0h-2.0zM64.0 617.7h2.0v2.0h-2.0zM102.5 617.7h2.0v2.0h-2.0zM114.6 617.7h2.0v2.0h-2.0zM153.1 617.7h2.0v2.0h-2.0zM173.3 617.7h2.0v2.0h-2.0zM64.0 619.7h2.0v2.0h-2.0zM167.2 619.7h2.0v2.0h-2.0zM191.5 619.7h2.0v2.0h-2.0zM64.0 621.8h2.0v2.0h-2.0zM96.4 621.8h2.0v2.0h-2.0zM104.5 621.8h2.0v2.0h-2.0zM122.7 621.8h2.0v2.0h-2.0zM151.0 621.8h2.0v2.0h-2.0zM179.4 621.8h2.0v2.0h-2.0zM189.5 621.8h2.0v2.0h-2.0z"/>
<path fill="#fef3c8" d="M201.8 471.4h6.6v2.0h-6.6zM210.6 471.4h4.4v2.0h-4.4zM217.1 471.4h2.2v2.0h-2.2zM201.8 473.4h2.2v2.0h-2.2zM206.2 473.4h2.2v2.0h-2.2zM212.7 473.4h2.2v2.0h-2.2zM201.8 475.4h2.2v2.0h-2.2zM206.2 475.4h2.2v2.0h-2.2zM212.7 475.4h4.4v2.0h-4.4zM219.3 475.4h2.2v2.0h-2.2zM199.6 477.4h2.2v2.0h-2.2zM206.2 477.4h2.2v2.0h-2.2zM212.7 477.4h2.2v2.0h-2.2zM199.6 479.4h4.4v2.0h-4.4zM212.7 479.4h2.2v2.0h-2.2zM219.3 479.4h2.2v2.0h-2.2zM206.2 481.4h2.2v2.0h-2.2zM210.6 481.4h4.4v2.0h-4.4zM219.3 481.4h2.2v2.0h-2.2zM201.8 483.4h2.2v2.0h-2.2zM212.7 483.4h2.2v2.0h-2.2zM201.8 485.4h2.2v2.0h-2.2zM212.7 485.4h2.2v2.0h-2.2zM201.8 489.4h2.2v2.0h-2.2zM206.2 489.4h2.2v2.0h-2.2zM214.9 489.4h4.4v2.0h-4.4zM212.7 491.5h2.2v2.0h-2.2zM201.8 493.5h2.2v2.0h-2.2zM206.2 493.5h2.2v2.0h-2.2zM212.7 493.5h4.4v2.0h-4.4zM206.2 495.5h4.4v2.0h-4.4zM212.7 495.5h4.4v2.0h-4.4zM212.7 497.5h2.2v2.0h-2.2zM212.7 499.5h4.4v2.0h-4.4zM199.6 501.5h4.4v2.0h-4.4zM206.2 501.5h2.2v2.0h-2.2zM212.7 501.5h8.8v2.0h-8.8zM199.6 503.5h4.4v2.0h-4.4zM206.2 503.5h4.4v2.0h-4.4zM212.7 503.5h8.8v2.0h-8.8zM201.8 505.5h2.2v2.0h-2.2zM206.2 505.5h2.2v2.0h-2.2zM212.7 505.5h2.2v2.0h-2.2zM217.1 505.5h4.4v2.0h-4.4zM206.2 507.5h2.2v2.0h-2.2zM212.7 507.5h2.2v2.0h-2.2zM212.7 509.5h2.2v2.0h-2.2zM201.8 511.5h2.2v2.0h-2.2zM212.7 511.5h2.2v2.0h-2.2zM212.7 513.5h2.2v2.0h-2.2zM219.3 513.5h2.2v2.0h-2.2zM199.6 515.5h4.4v2.0h-4.4zM206.2 515.5h4.4v2.0h-4.4zM212.7 515.5h2.2v2.0h-2.2zM201.8 517.5h2.2v2.0h-2.2zM206.2 517.5h2.2v2.0h-2.2zM212.7 517.5h4.4v2.0h-4.4zM212.7 519.5h2.2v2.0h-2.2zM199.6 521.5h4.4v2.0h-4.4zM206.2 521.5h4.4v2.0h-4.4zM214.9 521.5h2.2v2.0h-2.2zM219.3 521.5h2.2v2.0h-2.2zM201.8 523.5h2.2v2.0h-2.2zM206.2 523.5h2.2v2.0h-2.2zM212.7 523.5h6.6v2.0h-6.6zM201.8 525.5h2.2v2.0h-2.2zM212.7 525.5h2.2v2.0h-2.2zM219.3 525.5h2.2v2.0h-2.2zM206.2 527.5h2.2v2.0h-2.2zM212.7 527.5h8.8v2.0h-8.8zM201.8 529.6h2.2v2.0h-2.2zM206.2 529.6h2.2v2.0h-2.2zM212.7 529.6h2.2v2.0h-2.2zM219.3 529.6h2.2v2.0h-2.2zM199.6 531.6h4.4v2.0h-4.4zM206.2 531.6h2.2v2.0h-2.2zM212.7 531.6h4.4v2.0h-4.4zM201.8 533.6h2.2v2.0h-2.2zM212.7 533.6h8.8v2.0h-8.8zM212.7 535.6h2.2v2.0h-2.2zM219.3 535.6h2.2v2.0h-2.2zM199.6 537.6h2.2v2.0h-2.2zM206.2 537.6h2.2v2.0h-2.2zM212.7 537.6h2.2v2.0h-2.2zM212.7 539.6h2.2v2.0h-2.2zM217.1 539.6h2.2v2.0h-2.2zM201.8 541.6h2.2v2.0h-2.2zM206.2 541.6h2.2v2.0h-2.2zM212.7 541.6h2.2v2.0h-2.2zM210.6 543.6h4.4v2.0h-4.4zM199.6 545.6h4.4v2.0h-4.4zM206.2 545.6h4.4v2.0h-4.4zM212.7 545.6h4.4v2.0h-4.4zM219.3 545.6h2.2v2.0h-2.2zM212.7 547.6h2.2v2.0h-2.2zM214.9 549.6h2.2v2.0h-2.2zM201.8 551.6h2.2v2.0h-2.2zM212.7 551.6h2.2v2.0h-2.2zM217.1 551.6h2.2v2.0h-2.2zM201.8 553.6h2.2v2.0h-2.2zM199.6 555.6h21.9v2.0h-21.9zM201.8 559.6h2.2v2.0h-2.2zM208.4 559.6h2.2v2.0h-2.2zM212.7 559.6h2.2v2.0h-2.2zM201.8 561.6h4.4v2.0h-4.4zM212.7 561.6h2.2v2.0h-2.2zM219.3 561.6h2.2v2.0h-2.2zM199.6 563.6h15.3v2.0h-15.3zM217.1 563.6h4.4v2.0h-4.4zM201.8 565.6h2.2v2.0h-2.2zM201.8 567.7h2.2v2.0h-2.2zM206.2 567.7h15.3v2.0h-15.3zM212.7 569.7h2.2v2.0h-2.2zM201.8 571.7h2.2v2.0h-2.2zM206.2 571.7h2.2v2.0h-2.2zM212.7 571.7h4.4v2.0h-4.4zM219.3 571.7h2.2v2.0h-2.2zM201.8 573.7h2.2v2.0h-2.2zM206.2 573.7h2.2v2.0h-2.2zM212.7 573.7h4.4v2.0h-4.4zM199.6 575.7h4.4v2.0h-4.4zM206.2 575.7h2.2v2.0h-2.2zM210.6 575.7h8.8v2.0h-8.8zM201.8 577.7h2.2v2.0h-2.2zM206.2 577.7h2.2v2.0h-2.2zM212.7 577.7h4.4v2.0h-4.4zM201.8 579.7h2.2v2.0h-2.2zM206.2 579.7h2.2v2.0h-2.2zM212.7 579.7h2.2v2.0h-2.2zM219.3 579.7h2.2v2.0h-2.2zM206.2 581.7h13.1v2.0h-13.1zM201.8 583.7h2.2v2.0h-2.2zM206.2 583.7h2.2v2.0h-2.2zM214.9 583.7h6.6v2.0h-6.6zM201.8 585.7h2.2v2.0h-2.2zM199.6 587.7h4.4v2.0h-4.4zM206.2 587.7h2.2v2.0h-2.2zM210.6 587.7h6.6v2.0h-6.6zM219.3 587.7h2.2v2.0h-2.2zM199.6 589.7h4.4v2.0h-4.4zM206.2 589.7h2.2v2.0h-2.2zM212.7 589.7h4.4v2.0h-4.4zM219.3 589.7h2.2v2.0h-2.2zM206.2 591.7h2.2v2.0h-2.2zM212.7 591.7h2.2v2.0h-2.2zM201.8 593.7h2.2v2.0h-2.2zM206.2 593.7h4.4v2.0h-4.4zM214.9 593.7h2.2v2.0h-2.2zM219.3 593.7h2.2v2.0h-2.2zM199.6 595.7h2.2v2.0h-2.2zM206.2 595.7h2.2v2.0h-2.2zM212.7 595.7h4.4v2.0h-4.4zM199.6 597.7h4.4v2.0h-4.4zM206.2 597.7h4.4v2.0h-4.4zM212.7 597.7h8.8v2.0h-8.8zM201.8 599.7h4.4v2.0h-4.4zM208.4 599.7h2.2v2.0h-2.2zM212.7 599.7h2.2v2.0h-2.2zM217.1 599.7h2.2v2.0h-2.2zM201.8 601.7h2.2v2.0h-2.2zM212.7 601.7h4.4v2.0h-4.4zM201.8 603.7h2.2v2.0h-2.2zM206.2 603.7h2.2v2.0h-2.2zM210.6 603.7h4.4v2.0h-4.4zM217.1 603.7h2.2v2.0h-2.2zM201.8 605.8h2.2v2.0h-2.2zM219.3 605.8h2.2v2.0h-2.2zM199.6 607.8h4.4v2.0h-4.4zM212.7 607.8h2.2v2.0h-2.2zM219.3 607.8h2.2v2.0h-2.2zM199.6 611.8h4.4v2.0h-4.4zM206.2 611.8h15.3v2.0h-15.3zM206.2 617.8h2.2v2.0h-2.2zM212.7 617.8h4.4v2.0h-4.4zM219.3 617.8h2.2v2.0h-2.2zM199.6 619.8h4.4v2.0h-4.4zM206.2 619.8h4.4v2.0h-4.4zM212.7 619.8h2.2v2.0h-2.2zM201.8 621.8h2.2v2.0h-2.2zM206.2 621.8h2.2v2.0h-2.2zM212.7 621.8h2.2v2.0h-2.2zM217.1 621.8h4.4v2.0h-4.4z"/>
<path fill="#fff6d0" d="M206.6 409.5h2.0v2.1h-2.0zM94.1 411.6h2.0v2.1h-2.0zM102.1 411.6h2.0v2.1h-2.0zM140.3 411.6h2.0v2.1h-2.0zM172.4 411.6h2.0v2.1h-2.0zM94.1 415.7h4.0v2.1h-4.0zM158.4 415.7h2.0v2.1h-2.0zM162.4 415.7h2.0v2.1h-2.0zM216.6 415.7h2.0v2.1h-2.0zM130.3 417.8h2.0v2.1h-2.0zM162.4 417.8h2.0v2.1h-2.0zM208.6 417.8h2.0v2.1h-2.0zM216.6 417.8h2.0v2.1h-2.0zM66.0 419.8h2.0v2.1h-2.0zM72.0 419.8h2.0v2.1h-2.0zM94.1 419.8h2.0v2.1h-2.0zM118.2 419.8h2.0v2.1h-2.0zM126.2 419.8h4.0v2.1h-4.0zM140.3 419.8h2.0v2.1h-2.0zM152.3 419.8h2.0v2.1h-2.0zM162.4 419.8h2.0v2.1h-2.0zM166.4 419.8h2.0v2.1h-2.0zM182.5 419.8h2.0v2.1h-2.0zM186.5 419.8h2.0v2.1h-2.0zM212.6 419.8h2.0v2.1h-2.0zM70.0 423.9h2.0v2.1h-2.0zM106.2 423.9h2.0v2.1h-2.0zM76.0 426.0h2.0v2.1h-2.0zM84.1 426.0h2.0v2.1h-2.0zM88.1 426.0h2.0v2.1h-2.0zM94.1 426.0h2.0v2.1h-2.0zM118.2 426.0h2.0v2.1h-2.0zM136.3 426.0h2.0v2.1h-2.0zM154.4 426.0h2.0v2.1h-2.0zM160.4 426.0h2.0v2.1h-2.0zM212.6 426.0h2.0v2.1h-2.0zM190.5 428.1h2.0v2.1h-2.0zM198.5 430.1h2.0v2.1h-2.0zM72.0 432.2h2.0v2.1h-2.0zM96.1 434.3h2.0v2.1h-2.0zM106.2 434.3h2.0v2.1h-2.0zM136.3 434.3h2.0v2.1h-2.0zM128.2 436.3h2.0v2.1h-2.0zM212.6 436.3h2.0v2.1h-2.0zM94.1 438.4h2.0v2.1h-2.0zM120.2 438.4h2.0v2.1h-2.0zM136.3 438.4h2.0v2.1h-2.0zM96.1 442.5h2.0v2.1h-2.0zM106.2 442.5h2.0v2.1h-2.0zM156.4 442.5h2.0v2.1h-2.0zM166.4 442.5h2.0v2.1h-2.0zM176.4 442.5h2.0v2.1h-2.0zM192.5 442.5h2.0v2.1h-2.0zM212.6 442.5h2.0v2.1h-2.0zM70.0 444.6h2.0v2.1h-2.0zM128.2 446.6h2.0v2.1h-2.0zM140.3 446.6h2.0v2.1h-2.0zM118.2 448.7h2.0v2.1h-2.0zM126.2 448.7h2.0v2.1h-2.0zM160.4 448.7h2.0v2.1h-2.0zM216.6 448.7h2.0v2.1h-2.0zM82.1 450.8h2.0v2.1h-2.0zM186.5 450.8h2.0v2.1h-2.0zM214.6 450.8h4.0v2.1h-4.0zM94.1 452.8h2.0v2.1h-2.0zM132.3 452.8h2.0v2.1h-2.0zM140.3 452.8h2.0v2.1h-2.0zM72.0 457.0h2.0v2.1h-2.0zM128.2 457.0h2.0v2.1h-2.0zM156.4 457.0h2.0v2.1h-2.0zM190.5 457.0h2.0v2.1h-2.0zM212.6 457.0h2.0v2.1h-2.0zM94.1 459.0h2.0v2.1h-2.0zM160.4 459.0h2.0v2.1h-2.0zM188.5 459.0h2.0v2.1h-2.0zM196.5 459.0h2.0v2.1h-2.0zM216.6 459.0h2.0v2.1h-2.0zM76.0 461.1h2.0v2.1h-2.0zM96.1 461.1h2.0v2.1h-2.0zM128.2 461.1h2.0v2.1h-2.0zM136.3 461.1h2.0v2.1h-2.0zM212.6 461.1h2.0v2.1h-2.0zM216.6 461.1h2.0v2.1h-2.0zM64.0 463.1h2.0v2.1h-2.0zM128.2 463.1h2.0v2.1h-2.0zM214.6 463.1h2.0v2.1h-2.0zM72.0 465.2h2.0v2.1h-2.0zM76.0 465.2h2.0v2.1h-2.0zM100.1 465.2h2.0v2.1h-2.0zM118.2 467.3h2.0v2.1h-2.0zM128.2 467.3h2.0v2.1h-2.0zM178.4 467.3h2.0v2.1h-2.0zM208.6 467.3h2.0v2.1h-2.0zM214.6 467.3h2.0v2.1h-2.0zM136.3 469.3h2.0v2.1h-2.0zM154.4 469.3h2.0v2.1h-2.0zM158.4 469.3h2.0v2.1h-2.0z"/>
<path fill="#fcecbc" d="M218.6 409.5h2.1v2.1h-2.1zM227.1 411.6h2.1v2.1h-2.1zM242.0 415.7h4.2v2.1h-4.2zM218.6 417.8h2.1v2.1h-2.1zM227.1 417.8h2.1v2.1h-2.1zM242.0 417.8h2.1v2.1h-2.1zM225.0 421.9h2.1v2.1h-2.1zM218.6 423.9h2.1v2.1h-2.1zM237.7 423.9h2.1v2.1h-2.1zM242.0 423.9h2.1v2.1h-2.1zM218.6 432.2h2.1v2.1h-2.1zM227.1 432.2h4.2v2.1h-4.2zM235.6 432.2h2.1v2.1h-2.1zM225.0 434.3h2.1v2.1h-2.1zM233.5 434.3h2.1v2.1h-2.1zM239.8 434.3h4.2v2.1h-4.2zM227.1 436.3h2.1v2.1h-2.1zM237.7 436.3h2.1v2.1h-2.1zM242.0 436.3h2.1v2.1h-2.1zM233.5 440.4h2.1v2.1h-2.1zM237.7 440.4h2.1v2.1h-2.1zM242.0 440.4h2.1v2.1h-2.1zM218.6 442.5h2.1v2.1h-2.1zM244.1 446.6h2.1v2.1h-2.1zM225.0 448.7h2.1v2.1h-2.1zM237.7 448.7h8.5v2.1h-8.5zM227.1 450.8h2.1v2.1h-2.1zM227.1 454.9h2.1v2.1h-2.1zM233.5 454.9h2.1v2.1h-2.1zM242.0 454.9h2.1v2.1h-2.1zM227.1 457.0h2.1v2.1h-2.1zM227.1 459.0h2.1v2.1h-2.1zM242.0 459.0h2.1v2.1h-2.1zM225.0 461.1h2.1v2.1h-2.1zM242.0 461.1h2.1v2.1h-2.1zM237.7 465.2h2.1v2.1h-2.1zM242.0 465.2h2.1v2.1h-2.1zM220.7 469.3h2.1v2.1h-2.1zM227.1 469.3h2.1v2.1h-2.1zM231.3 469.3h2.1v2.1h-2.1zM242.0 469.3h2.1v2.1h-2.1z"/>
<path fill="#fbe8b4" d="M262.5 451.0h2.0v2.0h-2.0zM274.7 453.0h2.0v2.0h-2.0zM254.3 457.1h2.0v2.0h-2.0zM258.4 457.1h6.1v2.0h-6.1zM274.7 457.1h2.0v2.0h-2.0zM258.4 459.2h2.0v2.0h-2.0zM264.5 459.2h4.1v2.0h-4.1zM246.2 461.2h2.0v2.0h-2.0zM264.5 461.2h2.0v2.0h-2.0zM246.2 463.2h2.0v2.0h-2.0zM250.3 463.2h4.1v2.0h-4.1zM258.4 463.2h10.2v2.0h-10.2zM270.6 463.2h2.0v2.0h-2.0zM276.8 463.2h2.0v2.0h-2.0zM262.5 465.3h2.0v2.0h-2.0zM272.7 465.3h4.1v2.0h-4.1zM248.2 467.3h2.0v2.0h-2.0zM252.3 467.3h2.0v2.0h-2.0zM262.5 467.3h2.0v2.0h-2.0zM266.6 467.3h2.0v2.0h-2.0zM276.8 467.3h2.0v2.0h-2.0zM258.4 469.4h2.0v2.0h-2.0zM262.5 469.4h6.1v2.0h-6.1z"/>
<path fill="#f8dc98" d="M270.6 411.6h2.0v2.1h-2.0zM260.5 417.8h2.0v2.1h-2.0zM248.2 424.0h4.1v2.1h-4.1zM258.4 424.0h2.0v2.1h-2.0zM270.6 424.0h4.1v2.1h-4.1zM272.7 432.3h2.0v2.1h-2.0zM248.2 436.5h2.0v2.1h-2.0zM272.7 436.5h2.0v2.1h-2.0zM270.6 448.9h2.0v2.1h-2.0z"/>
<rect x="159.5" y="488.0" width="18.3" height="21.0" fill="#fcefc4" fill-opacity="0.65"/>
<rect x="178.8" y="510.0" width="21.0" height="18.3" fill="#fcefc4" fill-opacity="0.65"/>
<rect x="159.5" y="475.0" width="18.3" height="8.0" fill="#fcefc4" fill-opacity="0.65"/>
<rect x="204.8" y="510.0" width="8.0" height="18.3" fill="#fcefc4" fill-opacity="0.65"/>
<rect x="159.5" y="540.0" width="18.5" height="13.0" fill="#fcefc4" fill-opacity="0.65"/>
<rect x="134.8" y="509.8" width="13.0" height="18.5" fill="#fcefc4" fill-opacity="0.65"/>
<rect x="140.0" y="518.0" width="5.0" height="10.6" fill="#fcefc4" fill-opacity="0.65"/>
<rect x="159.2" y="542.8" width="10.6" height="5.0" fill="#fcefc4" fill-opacity="0.65"/>
<rect x="198.6" y="487.0" width="6.4" height="68.0" fill="#fdf3c8" fill-opacity="0.7"/>
<rect x="213.0" y="489.0" width="8.5" height="71.0" fill="#fef5cc" fill-opacity="0.7"/>
<line x1="64.0" y1="623.8" x2="229.5" y2="458.4" stroke="#f0a030" stroke-width="0.8" stroke-opacity="0.85"/>
<line x1="229.5" y1="458.4" x2="278.8" y2="409.5" stroke="#f0b050" stroke-width="0.8" stroke-opacity="0.12"/>
<circle cx="216.9" cy="470.9" r="1.3" fill="#a04060"/>
<rect x="190.2" y="492.6" width="5" height="5" fill="#f5cc70" fill-opacity="0.5"/>
<circle cx="192.7" cy="495.1" r="1.0" fill="#f0a030" fill-opacity="0.8"/>
<rect x="159.9" y="522.9" width="5" height="5" fill="#f5cc70" fill-opacity="0.5"/>
<circle cx="162.4" cy="525.4" r="1.0" fill="#f0a030" fill-opacity="0.8"/>
<rect x="114.4" y="568.4" width="5" height="5" fill="#f5cc70" fill-opacity="0.5"/>
<circle cx="116.9" cy="570.9" r="1.0" fill="#f0a030" fill-opacity="0.8"/>
<rect x="105.8" y="577.0" width="5" height="5" fill="#f5cc70" fill-opacity="0.5"/>
<circle cx="108.3" cy="579.5" r="1.0" fill="#f0a030" fill-opacity="0.8"/>
<path fill="none" stroke="#888" stroke-width="0.7" d="M50.9 510.0L50.9 597.6"/>
<path fill="none" stroke="#111" stroke-width="0.7" d="M64.8 405.9L65.4 405.9M64.8 407.3L64.8 405.9M65.4 407.3L65.4 405.9M67.2 406.6L67.8 406.6M67.2 407.3L67.2 406.6M67.8 407.3L67.8 406.6M66.6 406.1L67.5 406.1M66.6 407.3L66.6 406.1M67.5 406.6L67.5 406.1M69.6 406.8L70.2 406.8M69.6 407.3L69.6 406.8M70.2 407.3L70.2 406.8M69.0 406.7L69.9 406.7M69.0 407.3L69.0 406.7M69.9 406.8L69.9 406.7M70.8 406.9L71.4 406.9M70.8 407.3L70.8 406.9M71.4 407.3L71.4 406.9M73.2 407.1L73.8 407.1M73.2 407.3L73.2 407.1M73.8 407.3L73.8 407.1M72.6 407.0L73.5 407.0M72.6 407.3L72.6 407.0M73.5 407.1L73.5 407.0M72.0 406.9L73.0 406.9M72.0 407.3L72.0 406.9M73.0 407.0L73.0 406.9M71.1 406.8L72.5 406.8M71.1 406.9L71.1 406.8M72.5 406.9L72.5 406.8M69.5 406.6L71.8 406.6M69.5 406.7L69.5 406.6M71.8 406.8L71.8 406.6M68.4 406.2L70.6 406.2M68.4 407.3L68.4 406.2M70.6 406.6L70.6 406.2M67.0 406.0L69.5 406.0M67.0 406.1L67.0 406.0M69.5 406.2L69.5 406.0M66.0 405.5L68.3 405.5M66.0 407.3L66.0 405.5M68.3 406.0L68.3 405.5M65.1 405.3L67.1 405.3M65.1 405.9L65.1 405.3M67.1 405.5L67.1 405.3M75.0 406.9L75.6 406.9M75.0 407.3L75.0 406.9M75.6 407.3L75.6 406.9M76.2 406.8L76.8 406.8M76.2 407.3L76.2 406.8M76.8 407.3L76.8 406.8M75.3 406.7L76.5 406.7M75.3 406.9L75.3 406.7M76.5 406.8L76.5 406.7M77.4 406.7L78.0 406.7M77.4 407.3L77.4 406.7M78.0 407.3L78.0 406.7M77.7 406.4L78.6 406.4M77.7 406.7L77.7 406.4M78.6 407.3L78.6 406.4M75.9 406.2L78.2 406.2M75.9 406.7L75.9 406.2M78.2 406.4L78.2 406.2M74.4 405.7L77.0 405.7M74.4 407.3L74.4 405.7M77.0 406.2L77.0 405.7M79.8 406.9L80.4 406.9M79.8 407.3L79.8 406.9M80.4 407.3L80.4 406.9M79.2 406.8L80.1 406.8M79.2 407.3L79.2 406.8M80.1 406.9L80.1 406.8M81.6 406.7L82.2 406.7M81.6 407.3L81.6 406.7M82.2 407.3L82.2 406.7M81.0 406.4L81.9 406.4M81.0 407.3L81.0 406.4M81.9 406.7L81.9 406.4M79.7 406.4L81.5 406.4M79.7 406.8L79.7 406.4M81.5 406.4L81.5 406.4M82.8 406.6L83.4 406.6M82.8 407.3L82.8 406.6M83.4 407.3L83.4 406.6M80.6 406.2L83.1 406.2M80.6 406.4L80.6 406.2M83.1 406.6L83.1 406.2M75.7 405.4L81.8 405.4M75.7 405.7L75.7 405.4M81.8 406.2L81.8 405.4M84.0 405.9L84.6 405.9M84.0 407.3L84.0 405.9M84.6 407.3L84.6 405.9M78.8 405.0L84.3 405.0M78.8 405.4L78.8 405.0M84.3 405.9L84.3 405.0M66.1 404.8L81.5 404.8M66.1 405.3L66.1 404.8M81.5 405.0L81.5 404.8M85.2 405.7L85.8 405.7M85.2 407.3L85.2 405.7M85.8 407.3L85.8 405.7M86.4 406.0L87.0 406.0M86.4 407.3L86.4 406.0M87.0 407.3L87.0 406.0M85.5 405.5L86.7 405.5M85.5 405.7L85.5 405.5M86.7 406.0L86.7 405.5M87.6 404.5L88.2 404.5M87.6 407.3L87.6 404.5M88.2 407.3L88.2 404.5M86.1 404.0L87.9 404.0M86.1 405.5L86.1 404.0M87.9 404.5L87.9 404.0M73.8 402.9L87.0 402.9M73.8 404.8L73.8 402.9M87.0 404.0L87.0 402.9M88.8 403.5L89.4 403.5M88.8 407.3L88.8 403.5M89.4 407.3L89.4 403.5M90.6 404.6L91.2 404.6M90.6 407.3L90.6 404.6M91.2 407.3L91.2 404.6M90.0 403.2L90.9 403.2M90.0 407.3L90.0 403.2M90.9 404.6L90.9 403.2M89.1 402.6L90.5 402.6M89.1 403.5L89.1 402.6M90.5 403.2L90.5 402.6M80.4 400.5L89.8 400.5M80.4 402.9L80.4 400.5M89.8 402.6L89.8 400.5M92.4 404.2L93.0 404.2M92.4 407.3L92.4 404.2M93.0 407.3L93.0 404.2M91.8 403.8L92.7 403.8M91.8 407.3L91.8 403.8M92.7 404.2L92.7 403.8M93.6 406.0L94.3 406.0M93.6 407.3L93.6 406.0M94.3 407.3L94.3 406.0M93.9 405.0L94.9 405.0M93.9 406.0L93.9 405.0M94.9 407.3L94.9 405.0M95.5 404.5L96.1 404.5M95.5 407.3L95.5 404.5M96.1 407.3L96.1 404.5M94.4 403.5L95.8 403.5M94.4 405.0L94.4 403.5M95.8 404.5L95.8 403.5M92.3 402.0L95.1 402.0M92.3 403.8L92.3 402.0M95.1 403.5L95.1 402.0M96.7 403.5L97.3 403.5M96.7 407.3L96.7 403.5M97.3 407.3L97.3 403.5M97.0 403.0L97.9 403.0M97.0 403.5L97.0 403.0M97.9 407.3L97.9 403.0M93.7 400.9L97.5 400.9M93.7 402.0L93.7 400.9M97.5 403.0L97.5 400.9M98.5 405.6L99.1 405.6M98.5 407.3L98.5 405.6M99.1 407.3L99.1 405.6M98.8 404.8L99.8 404.8M98.8 405.6L98.8 404.8M99.8 407.3L99.8 404.8M100.4 404.4L101.0 404.4M100.4 407.3L100.4 404.4M101.0 407.3L101.0 404.4M99.3 404.0L100.7 404.0M99.3 404.8L99.3 404.0M100.7 404.4L100.7 404.0M100.0 403.4L101.6 403.4M100.0 404.0L100.0 403.4M101.6 407.3L101.6 403.4M102.2 406.7L102.8 406.7M102.2 407.3L102.2 406.7M102.8 407.3L102.8 406.7M102.5 406.5L103.4 406.5M102.5 406.7L102.5 406.5M103.4 407.3L103.4 406.5M103.0 406.3L104.0 406.3M103.0 406.5L103.0 406.3M104.0 407.3L104.0 406.3M105.3 406.6L105.9 406.6M105.3 407.3L105.3 406.6M105.9 407.3L105.9 406.6M104.7 406.4L105.6 406.4M104.7 407.3L104.7 406.4M105.6 406.6L105.6 406.4M103.5 405.8L105.1 405.8M103.5 406.3L103.5 405.8M105.1 406.4L105.1 405.8M107.1 406.5L107.7 406.5M107.1 407.3L107.1 406.5M107.7 407.3L107.7 406.5M107.4 406.5L108.3 406.5M107.4 406.5L107.4 406.5M108.3 407.3L108.3 406.5M108.9 407.0L109.5 407.0M108.9 407.3L108.9 407.0M109.5 407.3L109.5 407.0M109.2 407.0L110.2 407.0M109.2 407.0L109.2 407.0M110.2 407.3L110.2 407.0M110.8 406.9L111.4 406.9M110.8 407.3L110.8 406.9M111.4 407.3L111.4 406.9M109.7 406.8L111.1 406.8M109.7 407.0L109.7 406.8M111.1 406.9L111.1 406.8M110.4 406.4L112.0 406.4M110.4 406.8L110.4 406.4M112.0 407.3L112.0 406.4M107.9 405.8L111.2 405.8M107.9 406.5L107.9 405.8M111.2 406.4L111.2 405.8M106.5 405.8L109.5 405.8M106.5 407.3L106.5 405.8M109.5 405.8L109.5 405.8M104.3 405.6L108.0 405.6M104.3 405.8L104.3 405.6M108.0 405.8L108.0 405.6M112.6 405.7L113.2 405.7M112.6 407.3L112.6 405.7M113.2 407.3L113.2 405.7M112.9 405.2L113.8 405.2M112.9 405.7L112.9 405.2M113.8 407.3L113.8 405.2M115.0 406.1L115.7 406.1M115.0 407.3L115.0 406.1M115.7 407.3L115.7 406.1M114.4 405.6L115.4 405.6M114.4 407.3L114.4 405.6M115.4 406.1L115.4 405.6M113.4 404.9L114.9 404.9M113.4 405.2L113.4 404.9M114.9 405.6L114.9 404.9M116.9 405.7L117.5 405.7M116.9 407.3L116.9 405.7M117.5 407.3L117.5 405.7M116.3 405.6L117.2 405.6M116.3 407.3L116.3 405.6M117.2 405.7L117.2 405.6M114.1 404.7L116.7 404.7M114.1 404.9L114.1 404.7M116.7 405.6L116.7 404.7M106.2 404.5L115.4 404.5M106.2 405.6L106.2 404.5M115.4 404.7L115.4 404.5M100.8 402.3L110.8 402.3M100.8 403.4L100.8 402.3M110.8 404.5L110.8 402.3M95.6 400.5L105.8 400.5M95.6 400.9L95.6 400.5M105.8 402.3L105.8 400.5M118.1 405.3L118.7 405.3M118.1 407.3L118.1 405.3M118.7 407.3L118.7 405.3M118.4 404.6L119.3 404.6M118.4 405.3L118.4 404.6M119.3 407.3L119.3 404.6M120.5 407.0L121.1 407.0M120.5 407.3L120.5 407.0M121.1 407.3L121.1 407.0M120.8 406.8L121.7 406.8M120.8 407.0L120.8 406.8M121.7 407.3L121.7 406.8M119.9 406.4L121.3 406.4M119.9 407.3L119.9 406.4M121.3 406.8L121.3 406.4M120.6 405.9L122.3 405.9M120.6 406.4L120.6 405.9M122.3 407.3L122.3 405.9M122.9 406.2L123.5 406.2M122.9 407.3L122.9 406.2M123.5 407.3L123.5 406.2M124.8 406.8L125.4 406.8M124.8 407.3L124.8 406.8M125.4 407.3L125.4 406.8M124.1 406.5L125.1 406.5M124.1 407.3L124.1 406.5M125.1 406.8L125.1 406.5M123.2 406.0L124.6 406.0M123.2 406.2L123.2 406.0M124.6 406.5L124.6 406.0M121.5 405.1L123.9 405.1M121.5 405.9L121.5 405.1M123.9 406.0L123.9 405.1M118.9 403.9L122.7 403.9M118.9 404.6L118.9 403.9M122.7 405.1L122.7 403.9M126.0 406.5L126.6 406.5M126.0 407.3L126.0 406.5M126.6 407.3L126.6 406.5M126.3 406.3L127.2 406.3M126.3 406.5L126.3 406.3M127.2 407.3L127.2 406.3M126.7 406.0L127.8 406.0M126.7 406.3L126.7 406.0M127.8 407.3L127.8 406.0M127.2 405.8L128.4 405.8M127.2 406.0L127.2 405.8M128.4 407.3L128.4 405.8M127.8 404.8L129.0 404.8M127.8 405.8L127.8 404.8M129.0 407.3L129.0 404.8M129.6 405.1L130.2 405.1M129.6 407.3L129.6 405.1M130.2 407.3L130.2 405.1M130.8 404.5L131.4 404.5M130.8 407.3L130.8 404.5M131.4 407.3L131.4 404.5M129.9 404.2L131.1 404.2M129.9 405.1L129.9 404.2M131.1 404.5L131.1 404.2M128.4 403.6L130.5 403.6M128.4 404.8L128.4 403.6M130.5 404.2L130.5 403.6M132.0 405.9L132.6 405.9M132.0 407.3L132.0 405.9M132.6 407.3L132.6 405.9M133.2 405.7L133.8 405.7M133.2 407.3L133.2 405.7M133.8 407.3L133.8 405.7M132.3 405.6L133.5 405.6M132.3 405.9L132.3 405.6M133.5 405.7L133.5 405.6M135.0 406.4L135.6 406.4M135.0 407.3L135.0 406.4M135.6 407.3L135.6 406.4M134.4 406.1L135.3 406.1M134.4 407.3L134.4 406.1M135.3 406.4L135.3 406.1M132.9 405.4L134.9 405.4M132.9 405.6L132.9 405.4M134.9 406.1L134.9 405.4M136.2 405.3L136.8 405.3M136.2 407.3L136.2 405.3M136.8 407.3L136.8 405.3M133.9 404.9L136.5 404.9M133.9 405.4L133.9 404.9M136.5 405.3L136.5 404.9M129.5 403.0L135.2 403.0M129.5 403.6L129.5 403.0M135.2 404.9L135.2 403.0M120.8 402.4L132.3 402.4M120.8 403.9L120.8 402.4M132.3 403.0L132.3 402.4M138.1 403.9L138.7 403.9M138.1 407.3L138.1 403.9M138.7 407.3L138.7 403.9M139.3 405.3L139.9 405.3M139.3 407.3L139.3 405.3M139.9 407.3L139.9 405.3M141.1 406.4L141.7 406.4M141.1 407.3L141.1 406.4M141.7 407.3L141.7 406.4M142.3 406.1L142.9 406.1M142.3 407.3L142.3 406.1M142.9 407.3L142.9 406.1M141.4 405.8L142.6 405.8M141.4 406.4L141.4 405.8M142.6 406.1L142.6 405.8M140.5 405.5L142.0 405.5M140.5 407.3L140.5 405.5M142.0 405.8L142.0 405.5M139.6 404.8L141.2 404.8M139.6 405.3L139.6 404.8M141.2 405.5L141.2 404.8M138.4 403.2L140.4 403.2M138.4 403.9L138.4 403.2M140.4 404.8L140.4 403.2M137.5 400.4L139.4 400.4M137.5 407.3L137.5 400.4M139.4 403.2L139.4 400.4M126.6 400.0L138.4 400.0M126.6 402.4L126.6 400.0M138.4 400.4L138.4 400.0M144.1 405.2L144.7 405.2M144.1 407.3L144.1 405.2M144.7 407.3L144.7 405.2M143.5 404.5L144.4 404.5M143.5 407.3L143.5 404.5M144.4 405.2L144.4 404.5M145.3 405.0L145.9 405.0M145.3 407.3L145.3 405.0M145.9 407.3L145.9 405.0M144.0 404.3L145.6 404.3M144.0 404.5L144.0 404.3M145.6 405.0L145.6 404.3M147.1 406.2L147.7 406.2M147.1 407.3L147.1 406.2M147.7 407.3L147.7 406.2M146.5 405.4L147.4 405.4M146.5 407.3L146.5 405.4M147.4 406.2L147.4 405.4M147.0 403.9L148.3 403.9M147.0 405.4L147.0 403.9M148.3 407.3L148.3 403.9M149.0 405.0L149.6 405.0M149.0 407.3L149.0 405.0M149.6 407.3L149.6 405.0M149.3 404.8L150.2 404.8M149.3 405.0L149.3 404.8M150.2 407.3L150.2 404.8M147.7 403.3L149.7 403.3M147.7 403.9L147.7 403.3M149.7 404.8L149.7 403.3M144.8 402.3L148.7 402.3M144.8 404.3L144.8 402.3M148.7 403.3L148.7 402.3M150.8 404.7L151.4 404.7M150.8 407.3L150.8 404.7M151.4 407.3L151.4 404.7M152.0 406.1L152.6 406.1M152.0 407.3L152.0 406.1M152.6 407.3L152.6 406.1M152.3 405.5L153.2 405.5M152.3 406.1L152.3 405.5M153.2 407.3L153.2 405.5M151.1 404.2L152.7 404.2M151.1 404.7L151.1 404.2M152.7 405.5L152.7 404.2M155.0 406.7L155.6 406.7M155.0 407.3L155.0 406.7M155.6 407.3L155.6 406.7M154.4 406.3L155.3 406.3M154.4 407.3L154.4 406.3M155.3 406.7L155.3 406.3M153.8 406.0L154.9 406.0M153.8 407.3L153.8 406.0M154.9 406.3L154.9 406.0M156.2 406.4L156.8 406.4M156.2 407.3L156.2 406.4M156.8 407.3L156.8 406.4M154.3 405.9L156.5 405.9M154.3 406.0L154.3 405.9M156.5 406.4L156.5 405.9M157.4 406.8L158.0 406.8M157.4 407.3L157.4 406.8M158.0 407.3L158.0 406.8M157.7 406.5L158.6 406.5M157.7 406.8L157.7 406.5M158.6 407.3L158.6 406.5M159.2 406.3L159.9 406.3M159.2 407.3L159.2 406.3M159.9 407.3L159.9 406.3M160.5 406.3L161.1 406.3M160.5 407.3L160.5 406.3M161.1 407.3L161.1 406.3M159.5 406.2L160.8 406.2M159.5 406.3L159.5 406.2M160.8 406.3L160.8 406.2M158.2 405.8L160.2 405.8M158.2 406.5L158.2 405.8M160.2 406.2L160.2 405.8M155.4 405.6L159.2 405.6M155.4 405.9L155.4 405.6M159.2 405.8L159.2 405.6M161.7 405.9L162.3 405.9M161.7 407.3L161.7 405.9M162.3 407.3L162.3 405.9M157.3 404.9L162.0 404.9M157.3 405.6L157.3 404.9M162.0 405.9L162.0 404.9M151.9 404.0L159.6 404.0M151.9 404.2L151.9 404.0M159.6 404.9L159.6 404.0M146.7 401.9L155.8 401.9M146.7 402.3L146.7 401.9M155.8 404.0L155.8 401.9M162.9 401.1L163.5 401.1M162.9 407.3L162.9 401.1M163.5 407.3L163.5 401.1M164.1 402.6L164.7 402.6M164.1 407.3L164.1 402.6M164.7 407.3L164.7 402.6M163.2 400.5L164.4 400.5M163.2 401.1L163.2 400.5M164.4 402.6L164.4 400.5M151.3 400.0L163.8 400.0M151.3 401.9L151.3 400.0M163.8 400.5L163.8 400.0M165.3 406.7L165.9 406.7M165.3 407.3L165.3 406.7M165.9 407.3L165.9 406.7M165.6 406.2L166.5 406.2M165.6 406.7L165.6 406.2M166.5 407.3L166.5 406.2M166.1 405.7L167.1 405.7M166.1 406.2L166.1 405.7M167.1 407.3L167.1 405.7M166.6 405.5L167.8 405.5M166.6 405.7L166.6 405.5M167.8 407.3L167.8 405.5M167.2 404.6L168.4 404.6M167.2 405.5L167.2 404.6M168.4 407.3L168.4 404.6M171.4 407.1L172.0 407.1M171.4 407.3L171.4 407.1M172.0 407.3L172.0 407.1M170.8 407.0L171.7 407.0M170.8 407.3L170.8 407.0M171.7 407.1L171.7 407.0M170.2 406.7L171.3 406.7M170.2 407.3L170.2 406.7M171.3 407.0L171.3 406.7M169.6 406.6L170.7 406.6M169.6 407.3L169.6 406.6M170.7 406.7L170.7 406.6M172.6 406.5L173.2 406.5M172.6 407.3L172.6 406.5M173.2 407.3L173.2 406.5M170.2 406.5L172.9 406.5M170.2 406.6L170.2 406.5M172.9 406.5L172.9 406.5M173.9 406.5L174.5 406.5M173.9 407.3L173.9 406.5M174.5 407.3L174.5 406.5M171.6 405.9L174.2 405.9M171.6 406.5L171.6 405.9M174.2 406.5L174.2 405.9M169.0 405.4L172.9 405.4M169.0 407.3L169.0 405.4M172.9 405.9L172.9 405.4M170.9 404.7L175.1 404.7M170.9 405.4L170.9 404.7M175.1 407.3L175.1 404.7M176.3 406.1L176.9 406.1M176.3 407.3L176.3 406.1M176.9 407.3L176.9 406.1M175.7 405.6L176.6 405.6M175.7 407.3L175.7 405.6M176.6 406.1L176.6 405.6M176.2 405.0L177.5 405.0M176.2 405.6L176.2 405.0M177.5 407.3L177.5 405.0M173.0 403.2L176.8 403.2M173.0 404.7L173.0 403.2M176.8 405.0L176.8 403.2M167.8 402.4L174.9 402.4M167.8 404.6L167.8 402.4M174.9 403.2L174.9 402.4M178.8 403.9L179.4 403.9M178.8 407.3L178.8 403.9M179.4 407.3L179.4 403.9M178.1 402.6L179.1 402.6M178.1 407.3L178.1 402.6M179.1 403.9L179.1 402.6M181.2 406.3L181.8 406.3M181.2 407.3L181.2 406.3M181.8 407.3L181.8 406.3M180.6 405.8L181.5 405.8M180.6 407.3L180.6 405.8M181.5 406.3L181.5 405.8M181.0 404.8L182.4 404.8M181.0 405.8L181.0 404.8M182.4 407.3L182.4 404.8M183.0 404.7L183.6 404.7M183.0 407.3L183.0 404.7M183.6 407.3L183.6 404.7M181.7 404.6L183.3 404.6M181.7 404.8L181.7 404.6M183.3 404.7L183.3 404.6M180.0 403.2L182.5 403.2M180.0 407.3L180.0 403.2M182.5 404.6L182.5 403.2M184.2 405.6L184.9 405.6M184.2 407.3L184.2 405.6M184.9 407.3L184.9 405.6M185.5 404.8L186.1 404.8M185.5 407.3L185.5 404.8M186.1 407.3L186.1 404.8M184.6 404.3L185.8 404.3M184.6 405.6L184.6 404.3M185.8 404.8L185.8 404.3M185.2 404.1L186.7 404.1M185.2 404.3L185.2 404.1M186.7 407.3L186.7 404.1M181.3 402.0L185.9 402.0M181.3 403.2L181.3 402.0M185.9 404.1L185.9 402.0M178.6 401.3L183.6 401.3M178.6 402.6L178.6 401.3M183.6 402.0L183.6 401.3M171.3 400.0L181.1 400.0M171.3 402.4L171.3 400.0M181.1 401.3L181.1 400.0M188.6 404.8L189.2 404.8M188.6 407.3L188.6 404.8M189.2 407.3L189.2 404.8M187.9 404.3L188.9 404.3M187.9 407.3L187.9 404.3M188.9 404.8L188.9 404.3M189.8 406.3L190.4 406.3M189.8 407.3L189.8 406.3M190.4 407.3L190.4 406.3M191.7 406.6L192.3 406.6M191.7 407.3L191.7 406.6M192.3 407.3L192.3 406.6M191.0 406.0L192.0 406.0M191.0 407.3L191.0 406.0M192.0 406.6L192.0 406.0M190.1 405.6L191.5 405.6M190.1 406.3L190.1 405.6M191.5 406.0L191.5 405.6M192.9 405.7L193.5 405.7M192.9 407.3L192.9 405.7M193.5 407.3L193.5 405.7M190.8 404.5L193.2 404.5M190.8 405.6L190.8 404.5M193.2 405.7L193.2 404.5M188.4 403.4L192.0 403.4M188.4 404.3L188.4 403.4M192.0 404.5L192.0 403.4M187.3 402.5L190.2 402.5M187.3 407.3L187.3 402.5M190.2 403.4L190.2 402.5M195.4 405.9L196.0 405.9M195.4 407.3L195.4 405.9M196.0 407.3L196.0 405.9M194.8 404.8L195.7 404.8M194.8 407.3L194.8 404.8M195.7 405.9L195.7 404.8M194.2 402.9L195.3 402.9M194.2 407.3L194.2 402.9M195.3 404.8L195.3 402.9M196.7 405.1L197.3 405.1M196.7 407.3L196.7 405.1M197.3 407.3L197.3 405.1M197.9 405.4L198.5 405.4M197.9 407.3L197.9 405.4M198.5 407.3L198.5 405.4M197.0 404.3L198.2 404.3M197.0 405.1L197.0 404.3M198.2 405.4L198.2 404.3M199.8 405.5L200.4 405.5M199.8 407.3L199.8 405.5M200.4 407.3L200.4 405.5M199.1 405.2L200.1 405.2M199.1 407.3L199.1 405.2M200.1 405.5L200.1 405.2M197.6 403.8L199.6 403.8M197.6 404.3L197.6 403.8M199.6 405.2L199.6 403.8M194.7 401.5L198.6 401.5M194.7 402.9L194.7 401.5M198.6 403.8L198.6 401.5M188.8 400.5L196.7 400.5M188.8 402.5L188.8 400.5M196.7 401.5L196.7 400.5M201.6 405.4L202.2 405.4M201.6 407.3L201.6 405.4M202.2 407.3L202.2 405.4M203.4 406.4L204.0 406.4M203.4 407.3L203.4 406.4M204.0 407.3L204.0 406.4M205.2 406.7L205.8 406.7M205.2 407.3L205.2 406.7M205.8 407.3L205.8 406.7M204.6 406.3L205.5 406.3M204.6 407.3L204.6 406.3M205.5 406.7L205.5 406.3M203.7 405.8L205.1 405.8M203.7 406.4L203.7 405.8M205.1 406.3L205.1 405.8M202.8 405.2L204.4 405.2M202.8 407.3L202.8 405.2M204.4 405.8L204.4 405.2M201.9 404.5L203.6 404.5M201.9 405.4L201.9 404.5M203.6 405.2L203.6 404.5M207.0 406.2L207.7 406.2M207.0 407.3L207.0 406.2M207.7 407.3L207.7 406.2M206.4 405.9L207.3 405.9M206.4 407.3L206.4 405.9M207.3 406.2L207.3 405.9M206.9 404.9L208.3 404.9M206.9 405.9L206.9 404.9M208.3 407.3L208.3 404.9M208.9 406.2L209.5 406.2M208.9 407.3L208.9 406.2M209.5 407.3L209.5 406.2M209.2 405.8L210.1 405.8M209.2 406.2L209.2 405.8M210.1 407.3L210.1 405.8M209.6 404.7L210.7 404.7M209.6 405.8L209.6 404.7M210.7 407.3L210.7 404.7M207.6 404.4L210.1 404.4M207.6 404.9L207.6 404.4M210.1 404.7L210.1 404.4M202.8 402.9L208.9 402.9M202.8 404.5L202.8 402.9M208.9 404.4L208.9 402.9M211.9 404.3L212.5 404.3M211.9 407.3L211.9 404.3M212.5 407.3L212.5 404.3M213.1 405.5L213.7 405.5M213.1 407.3L213.1 405.5M213.7 407.3L213.7 405.5M212.2 404.1L213.4 404.1M212.2 404.3L212.2 404.1M213.4 405.5L213.4 404.1M211.3 403.6L212.8 403.6M211.3 407.3L211.3 403.6M212.8 404.1L212.8 403.6M205.8 402.0L212.0 402.0M205.8 402.9L205.8 402.0M212.0 403.6L212.0 402.0M201.0 400.5L208.9 400.5M201.0 407.3L201.0 400.5M208.9 402.0L208.9 400.5M214.9 405.2L215.5 405.2M214.9 407.3L214.9 405.2M215.5 407.3L215.5 405.2M216.8 406.2L217.4 406.2M216.8 407.3L216.8 406.2M217.4 407.3L217.4 406.2M217.1 405.8L218.0 405.8M217.1 406.2L217.1 405.8M218.0 407.3L218.0 405.8M216.2 405.7L217.5 405.7M216.2 407.3L216.2 405.7M217.5 405.8L217.5 405.7M218.6 406.1L219.2 406.1M218.6 407.3L218.6 406.1M219.2 407.3L219.2 406.1M219.8 406.6L220.5 406.6M219.8 407.3L219.8 406.6M220.5 407.3L220.5 406.6M220.2 406.3L221.1 406.3M220.2 406.6L220.2 406.3M221.1 407.3L221.1 406.3M218.9 406.0L220.6 406.0M218.9 406.1L218.9 406.0M220.6 406.3L220.6 406.0M216.8 405.1L219.8 405.1M216.8 405.7L216.8 405.1M219.8 406.0L219.8 405.1M215.2 403.5L218.3 403.5M215.2 405.2L215.2 403.5M218.3 405.1L218.3 403.5M214.3 402.8L216.8 402.8M214.3 407.3L214.3 402.8M216.8 403.5L216.8 402.8M215.5 401.0L221.7 401.0M215.5 402.8L215.5 401.0M221.7 407.3L221.7 401.0M222.3 401.6L222.9 401.6M222.3 407.3L222.3 401.6M222.9 407.3L222.9 401.6M224.1 406.3L224.7 406.3M224.1 407.3L224.1 406.3M224.7 407.3L224.7 406.3M224.4 405.7L225.3 405.7M224.4 406.3L224.4 405.7M225.3 407.3L225.3 405.7M224.8 405.5L225.9 405.5M224.8 405.7L224.8 405.5M225.9 407.3L225.9 405.5M226.5 405.2L227.1 405.2M226.5 407.3L226.5 405.2M227.1 407.3L227.1 405.2M225.4 404.5L226.8 404.5M225.4 405.5L225.4 404.5M226.8 405.2L226.8 404.5M226.1 404.2L227.7 404.2M226.1 404.5L226.1 404.2M227.7 407.3L227.7 404.2M223.5 403.4L226.9 403.4M223.5 407.3L223.5 403.4M226.9 404.2L226.9 403.4M222.6 401.0L225.2 401.0M222.6 401.6L222.6 401.0M225.2 403.4L225.2 401.0M228.9 405.4L229.5 405.4M228.9 407.3L228.9 405.4M229.5 407.3L229.5 405.4M228.3 405.3L229.2 405.3M228.3 407.3L228.3 405.3M229.2 405.4L229.2 405.3M228.8 403.9L230.2 403.9M228.8 405.3L228.8 403.9M230.2 407.3L230.2 403.9M232.0 406.4L232.6 406.4M232.0 407.3L232.0 406.4M232.6 407.3L232.6 406.4M232.3 406.2L233.3 406.2M232.3 406.4L232.3 406.2M233.3 407.3L233.3 406.2M232.8 406.0L233.9 406.0M232.8 406.2L232.8 406.0M233.9 407.3L233.9 406.0M231.4 405.2L233.3 405.2M231.4 407.3L231.4 405.2M233.3 406.0L233.3 405.2M230.8 404.7L232.4 404.7M230.8 407.3L230.8 404.7M232.4 405.2L232.4 404.7M231.6 404.1L234.5 404.1M231.6 404.7L231.6 404.1M234.5 407.3L234.5 404.1M236.4 406.3L237.0 406.3M236.4 407.3L236.4 406.3M237.0 407.3L237.0 406.3M236.7 406.2L237.6 406.2M236.7 406.3L236.7 406.2M237.6 407.3L237.6 406.2M235.7 405.7L237.1 405.7M235.7 407.3L235.7 405.7M237.1 406.2L237.1 405.7M235.1 405.5L236.4 405.5M235.1 407.3L235.1 405.5M236.4 405.7L236.4 405.5M238.2 405.8L238.8 405.8M238.2 407.3L238.2 405.8M238.8 407.3L238.8 405.8M238.5 405.2L239.5 405.2M238.5 405.8L238.5 405.2M239.5 407.3L239.5 405.2M235.8 405.1L239.0 405.1M235.8 405.5L235.8 405.1M239.0 405.2L239.0 405.1M233.0 403.8L237.4 403.8M233.0 404.1L233.0 403.8M237.4 405.1L237.4 403.8M229.5 403.1L235.2 403.1M229.5 403.9L229.5 403.1M235.2 403.8L235.2 403.1M240.1 403.0L240.7 403.0M240.1 407.3L240.1 403.0M240.7 407.3L240.7 403.0M232.3 400.5L240.4 400.5M232.3 403.1L232.3 400.5M240.4 403.0L240.4 400.5M241.3 404.7L241.9 404.7M241.3 407.3L241.3 404.7M241.9 407.3L241.9 404.7M241.6 402.6L242.5 402.6M241.6 404.7L241.6 402.6M242.5 407.3L242.5 402.6M243.7 405.3L244.4 405.3M243.7 407.3L243.7 405.3M244.4 407.3L244.4 405.3M244.1 405.1L245.0 405.1M244.1 405.3L244.1 405.1M245.0 407.3L245.0 405.1M243.1 404.0L244.5 404.0M243.1 407.3L243.1 404.0M244.5 405.1L244.5 404.0M245.6 403.8L246.2 403.8M245.6 407.3L245.6 403.8M246.2 407.3L246.2 403.8M243.8 403.2L245.9 403.2M243.8 404.0L243.8 403.2M245.9 403.8L245.9 403.2M246.8 405.5L247.4 405.5M246.8 407.3L246.8 405.5M247.4 407.3L247.4 405.5M247.1 404.7L248.0 404.7M247.1 405.5L247.1 404.7M248.0 407.3L248.0 404.7M249.9 406.6L250.5 406.6M249.9 407.3L249.9 406.6M250.5 407.3L250.5 406.6M249.2 406.3L250.2 406.3M249.2 407.3L249.2 406.3M250.2 406.6L250.2 406.3M248.6 405.7L249.7 405.7M248.6 407.3L248.6 405.7M249.7 406.3L249.7 405.7M251.7 405.6L252.3 405.6M251.7 407.3L251.7 405.6M252.3 407.3L252.3 405.6M251.1 405.3L252.0 405.3M251.1 407.3L251.1 405.3M252.0 405.6L252.0 405.3M249.2 405.0L251.5 405.0M249.2 405.7L249.2 405.0M251.5 405.3L251.5 405.0M247.6 403.4L250.3 403.4M247.6 404.7L247.6 403.4M250.3 405.0L250.3 403.4M244.9 401.5L249.0 401.5M244.9 403.2L244.9 401.5M249.0 403.4L249.0 401.5M242.1 401.0L246.9 401.0M242.1 402.6L242.1 401.0M246.9 401.5L246.9 401.0M253.5 405.3L254.2 405.3M253.5 407.3L253.5 405.3M254.2 407.3L254.2 405.3M252.9 404.6L253.8 404.6M252.9 407.3L252.9 404.6M253.8 405.3L253.8 404.6M253.4 404.3L254.8 404.3M253.4 404.6L253.4 404.3M254.8 407.3L254.8 404.3M255.4 404.9L256.0 404.9M255.4 407.3L255.4 404.9M256.0 407.3L256.0 404.9M256.6 405.5L257.2 405.5M256.6 407.3L256.6 405.5M257.2 407.3L257.2 405.5M255.7 404.7L256.9 404.7M255.7 404.9L255.7 404.7M256.9 405.5L256.9 404.7M254.1 403.9L256.3 403.9M254.1 404.3L254.1 403.9M256.3 404.7L256.3 403.9M255.2 402.7L257.9 402.7M255.2 403.9L255.2 402.7M257.9 407.3L257.9 402.7M259.1 406.1L259.7 406.1M259.1 407.3L259.1 406.1M259.7 407.3L259.7 406.1M258.5 405.3L259.4 405.3M258.5 407.3L258.5 405.3M259.4 406.1L259.4 405.3M260.4 406.0L261.0 406.0M260.4 407.3L260.4 406.0M261.0 407.3L261.0 406.0M260.7 405.0L261.6 405.0M260.7 406.0L260.7 405.0M261.6 407.3L261.6 405.0M259.0 404.0L261.1 404.0M259.0 405.3L259.0 404.0M261.1 405.0L261.1 404.0M262.2 404.8L262.8 404.8M262.2 407.3L262.2 404.8M262.8 407.3L262.8 404.8M263.4 405.5L264.1 405.5M263.4 407.3L263.4 405.5M264.1 407.3L264.1 405.5M265.9 406.8L266.6 406.8M265.9 407.3L265.9 406.8M266.6 407.3L266.6 406.8M265.3 406.4L266.2 406.4M265.3 407.3L265.3 406.4M266.2 406.8L266.2 406.4M264.7 406.1L265.8 406.1M264.7 407.3L264.7 406.1M265.8 406.4L265.8 406.1M263.8 405.3L265.2 405.3M263.8 405.5L263.8 405.3M265.2 406.1L265.2 405.3M262.5 403.9L264.5 403.9M262.5 404.8L262.5 403.9M264.5 405.3L264.5 403.9M267.2 404.4L267.8 404.4M267.2 407.3L267.2 404.4M267.8 407.3L267.8 404.4M263.5 403.6L267.5 403.6M263.5 403.9L263.5 403.6M267.5 404.4L267.5 403.6M260.0 402.2L265.5 402.2M260.0 404.0L260.0 402.2M265.5 403.6L265.5 402.2M256.5 401.5L262.8 401.5M256.5 402.7L256.5 401.5M262.8 402.2L262.8 401.5M269.1 406.8L269.7 406.8M269.1 407.3L269.1 406.8M269.7 407.3L269.7 406.8M268.4 406.6L269.4 406.6M268.4 407.3L268.4 406.6M269.4 406.8L269.4 406.6M268.9 406.1L270.3 406.1M268.9 406.6L268.9 406.1M270.3 407.3L270.3 406.1M269.6 405.4L271.0 405.4M269.6 406.1L269.6 405.4M271.0 407.3L271.0 405.4M271.6 406.4L272.2 406.4M271.6 407.3L271.6 406.4M272.2 407.3L272.2 406.4M272.9 406.5L273.5 406.5M272.9 407.3L272.9 406.5M273.5 407.3L273.5 406.5M271.9 406.2L273.2 406.2M271.9 406.4L271.9 406.2M273.2 406.5L273.2 406.2M274.8 406.7L275.4 406.7M274.8 407.3L274.8 406.7M275.4 407.3L275.4 406.7M275.1 406.3L276.1 406.3M275.1 406.7L275.1 406.3M276.1 407.3L276.1 406.3M274.2 406.0L275.6 406.0M274.2 407.3L274.2 406.0M275.6 406.3L275.6 406.0M274.9 406.0L276.7 406.0M274.9 406.0L274.9 406.0M276.7 407.3L276.7 406.0M272.6 405.4L275.8 405.4M272.6 406.2L272.6 405.4M275.8 406.0L275.8 405.4M270.3 403.9L274.2 403.9M270.3 405.4L270.3 403.9M274.2 405.4L274.2 403.9M277.3 403.2L278.0 403.2M277.3 407.3L277.3 403.2M278.0 407.3L278.0 403.2M272.2 402.0L277.7 402.0M272.2 403.9L272.2 402.0M277.7 403.2L277.7 402.0M61.2 410.7L61.2 411.3M62.0 410.7L61.2 410.7M62.0 411.3L61.2 411.3M60.9 411.0L60.9 411.9M61.2 411.0L60.9 411.0M62.0 411.9L60.9 411.9M61.4 413.2L61.4 413.8M62.0 413.2L61.4 413.2M62.0 413.8L61.4 413.8M61.2 412.6L61.2 413.5M62.0 412.6L61.2 412.6M61.4 413.5L61.2 413.5M61.2 415.0L61.2 415.6M62.0 415.0L61.2 415.0M62.0 415.6L61.2 415.6M61.1 414.4L61.1 415.3M62.0 414.4L61.1 414.4M61.2 415.3L61.1 415.3M60.9 413.0L60.9 414.9M61.2 413.0L60.9 413.0M61.1 414.9L60.9 414.9M60.4 411.5L60.4 413.9M60.9 411.5L60.4 411.5M60.9 413.9L60.4 413.9M59.3 410.1L59.3 412.7M62.0 410.1L59.3 410.1M60.4 412.7L59.3 412.7M58.8 416.2L58.8 416.9M62.0 416.2L58.8 416.2M62.0 416.9L58.8 416.9M57.7 411.4L57.7 416.6M59.3 411.4L57.7 411.4M58.8 416.6L57.7 416.6M61.2 418.1L61.2 418.7M62.0 418.1L61.2 418.1M62.0 418.7L61.2 418.7M61.1 417.5L61.1 418.4M62.0 417.5L61.1 417.5M61.2 418.4L61.1 418.4M60.4 417.9L60.4 419.3M61.1 417.9L60.4 417.9M62.0 419.3L60.4 419.3M61.1 420.6L61.1 421.2M62.0 420.6L61.1 420.6M62.0 421.2L61.1 421.2M60.8 421.8L60.8 422.4M62.0 421.8L60.8 421.8M62.0 422.4L60.8 422.4M60.6 420.9L60.6 422.1M61.1 420.9L60.6 420.9M60.8 422.1L60.6 422.1M60.3 419.9L60.3 421.5M62.0 419.9L60.3 419.9M60.6 421.5L60.3 421.5M59.9 418.6L59.9 420.7M60.4 418.6L59.9 418.6M60.3 420.7L59.9 420.7M59.3 419.7L59.3 423.0M59.9 419.7L59.3 419.7M62.0 423.0L59.3 423.0M58.3 421.3L58.3 423.6M59.3 421.3L58.3 421.3M62.0 423.6L58.3 423.6M60.9 424.2L60.9 424.9M62.0 424.2L60.9 424.2M62.0 424.9L60.9 424.9M60.7 425.5L60.7 426.1M62.0 425.5L60.7 425.5M62.0 426.1L60.7 426.1M60.4 424.5L60.4 425.8M60.9 424.5L60.4 424.5M60.7 425.8L60.4 425.8M59.7 425.2L59.7 426.7M60.4 425.2L59.7 425.2M62.0 426.7L59.7 426.7M57.9 422.5L57.9 425.9M58.3 422.5L57.9 422.5M59.7 425.9L57.9 425.9M54.5 414.0L54.5 424.2M57.7 414.0L54.5 414.0M57.9 424.2L54.5 424.2M60.6 427.9L60.6 428.5M62.0 427.9L60.6 427.9M62.0 428.5L60.6 428.5M60.3 427.3L60.3 428.2M62.0 427.3L60.3 427.3M60.6 428.2L60.3 428.2M61.3 429.1L61.3 429.7M62.0 429.1L61.3 429.1M62.0 429.7L61.3 429.7M61.1 429.4L61.1 430.3M61.3 429.4L61.1 429.4M62.0 430.3L61.1 430.3M61.4 431.5L61.4 432.2M62.0 431.5L61.4 431.5M62.0 432.2L61.4 432.2M60.9 430.9L60.9 431.8M62.0 430.9L60.9 430.9M61.4 431.8L60.9 431.8M60.8 429.9L60.8 431.4M61.1 429.9L60.8 429.9M60.9 431.4L60.8 431.4M61.3 433.4L61.3 434.0M62.0 433.4L61.3 433.4M62.0 434.0L61.3 434.0M61.5 435.2L61.5 435.8M62.0 435.2L61.5 435.2M62.0 435.8L61.5 435.8M61.3 434.6L61.3 435.5M62.0 434.6L61.3 434.6M61.5 435.5L61.3 435.5M61.2 433.7L61.2 435.0M61.3 433.7L61.2 433.7M61.3 435.0L61.2 435.0M60.9 432.8L60.9 434.3M62.0 432.8L60.9 432.8M61.2 434.3L60.9 434.3M60.1 430.6L60.1 433.6M60.8 430.6L60.1 430.6M60.9 433.6L60.1 433.6M59.6 427.8L59.6 432.1M60.3 427.8L59.6 427.8M60.1 432.1L59.6 432.1M58.9 429.9L58.9 436.4M59.6 429.9L58.9 429.9M62.0 436.4L58.9 436.4M59.9 437.0L59.9 437.6M62.0 437.0L59.9 437.0M62.0 437.6L59.9 437.6M61.4 438.8L61.4 439.4M62.0 438.8L61.4 438.8M62.0 439.4L61.4 439.4M61.3 439.1L61.3 440.0M61.4 439.1L61.3 439.1M62.0 440.0L61.3 440.0M61.1 439.6L61.1 440.6M61.3 439.6L61.1 439.6M62.0 440.6L61.1 440.6M60.5 438.2L60.5 440.1M62.0 438.2L60.5 438.2M61.1 440.1L60.5 440.1M60.8 441.8L60.8 442.5M62.0 441.8L60.8 441.8M62.0 442.5L60.8 442.5M60.4 441.2L60.4 442.2M62.0 441.2L60.4 441.2M60.8 442.2L60.4 442.2M59.8 439.2L59.8 441.7M60.5 439.2L59.8 439.2M60.4 441.7L59.8 441.7M58.3 437.3L58.3 440.4M59.9 437.3L58.3 437.3M59.8 440.4L58.3 440.4M57.0 433.2L57.0 438.9M58.9 433.2L57.0 433.2M58.3 438.9L57.0 438.9M60.1 443.7L60.1 444.3M62.0 443.7L60.1 443.7M62.0 444.3L60.1 444.3M59.4 443.1L59.4 444.0M62.0 443.1L59.4 443.1M60.1 444.0L59.4 444.0M58.5 443.5L58.5 444.9M59.4 443.5L58.5 443.5M62.0 444.9L58.5 444.9M59.2 446.1L59.2 446.7M62.0 446.1L59.2 446.1M62.0 446.7L59.2 446.7M58.8 445.5L58.8 446.4M62.0 445.5L58.8 445.5M59.2 446.4L58.8 446.4M57.2 444.2L57.2 445.9M58.5 444.2L57.2 444.2M58.8 445.9L57.2 445.9M54.0 436.0L54.0 445.1M57.0 436.0L54.0 436.0M57.2 445.1L54.0 445.1M60.9 447.3L60.9 447.9M62.0 447.3L60.9 447.3M62.0 447.9L60.9 447.9M60.7 447.6L60.7 448.5M60.9 447.6L60.7 447.6M62.0 448.5L60.7 448.5M59.7 448.1L59.7 449.1M60.7 448.1L59.7 448.1M62.0 449.1L59.7 449.1M58.9 448.6L58.9 449.8M59.7 448.6L58.9 448.6M62.0 449.8L58.9 449.8M59.5 450.4L59.5 451.0M62.0 450.4L59.5 450.4M62.0 451.0L59.5 451.0M60.0 451.6L60.0 452.2M62.0 451.6L60.0 451.6M62.0 452.2L60.0 452.2M60.6 452.8L60.6 453.4M62.0 452.8L60.6 452.8M62.0 453.4L60.6 453.4M60.7 454.0L60.7 454.6M62.0 454.0L60.7 454.0M62.0 454.6L60.7 454.6M60.3 453.1L60.3 454.3M60.6 453.1L60.3 453.1M60.7 454.3L60.3 454.3M59.7 451.9L59.7 453.7M60.0 451.9L59.7 451.9M60.3 453.7L59.7 453.7M58.0 450.7L58.0 452.8M59.5 450.7L58.0 450.7M59.7 452.8L58.0 452.8M57.0 449.2L57.0 451.7M58.9 449.2L57.0 449.2M58.0 451.7L57.0 451.7M57.2 455.2L57.2 455.9M62.0 455.2L57.2 455.2M62.0 455.9L57.2 455.9M55.6 450.5L55.6 455.6M57.0 450.5L55.6 450.5M57.2 455.6L55.6 455.6M57.6 456.5L57.6 457.1M62.0 456.5L57.6 456.5M62.0 457.1L57.6 457.1M54.7 456.8L54.7 457.7M57.6 456.8L54.7 456.8M62.0 457.7L54.7 457.7M52.5 453.0L52.5 457.2M55.6 453.0L52.5 453.0M54.7 457.2L52.5 457.2M57.1 458.9L57.1 459.6M62.0 458.9L57.1 458.9M62.0 459.6L57.1 459.6M58.2 460.2L58.2 460.8M62.0 460.2L58.2 460.2M62.0 460.8L58.2 460.8M56.7 459.2L56.7 460.5M57.1 459.2L56.7 459.2M58.2 460.5L56.7 460.5M56.3 458.3L56.3 459.9M62.0 458.3L56.3 458.3M56.7 459.9L56.3 459.9M61.3 463.3L61.3 463.9M62.0 463.3L61.3 463.3M62.0 463.9L61.3 463.9M60.9 462.7L60.9 463.6M62.0 462.7L60.9 462.7M61.3 463.6L60.9 463.6M60.0 463.2L60.0 464.6M60.9 463.2L60.0 463.2M62.0 464.6L60.0 464.6M61.0 465.8L61.0 466.4M62.0 465.8L61.0 465.8M62.0 466.4L61.0 466.4M60.7 465.2L60.7 466.1M62.0 465.2L60.7 465.2M61.0 466.1L60.7 466.1M59.7 463.9L59.7 465.7M60.0 463.9L59.7 463.9M60.7 465.7L59.7 465.7M59.0 462.1L59.0 464.8M62.0 462.1L59.0 462.1M59.7 464.8L59.0 464.8M57.9 461.4L57.9 463.4M62.0 461.4L57.9 461.4M59.0 463.4L57.9 463.4M57.1 467.1L57.1 467.7M62.0 467.1L57.1 467.1M62.0 467.7L57.1 467.7M56.0 462.4L56.0 467.4M57.9 462.4L56.0 462.4M57.1 467.4L56.0 467.4M55.0 459.1L55.0 464.9M56.3 459.1L55.0 459.1M56.0 464.9L55.0 464.9M59.2 468.9L59.2 469.5M62.0 468.9L59.2 468.9M62.0 469.5L59.2 469.5M58.4 468.3L58.4 469.2M62.0 468.3L58.4 468.3M59.2 469.2L58.4 469.2M57.3 468.8L57.3 470.1M58.4 468.8L57.3 468.8M62.0 470.1L57.3 470.1M60.7 471.9L60.7 472.5M62.0 471.9L60.7 471.9M62.0 472.5L60.7 472.5M60.2 472.2L60.2 473.1M60.7 472.2L60.2 472.2M62.0 473.1L60.2 473.1M59.6 471.3L59.6 472.6M62.0 471.3L59.6 471.3M60.2 472.6L59.6 472.6M58.1 470.7L58.1 472.0M62.0 470.7L58.1 470.7M59.6 472.0L58.1 472.0M56.4 469.4L56.4 471.3M57.3 469.4L56.4 469.4M58.1 471.3L56.4 471.3M54.0 470.4L54.0 473.7M56.4 470.4L54.0 470.4M62.0 473.7L54.0 473.7M61.0 474.9L61.0 475.5M62.0 474.9L61.0 474.9M62.0 475.5L61.0 475.5M60.6 474.3L60.6 475.2M62.0 474.3L60.6 474.3M61.0 475.2L60.6 475.2M60.3 476.2L60.3 476.8M62.0 476.2L60.3 476.2M62.0 476.8L60.3 476.8M59.7 474.8L59.7 476.5M60.6 474.8L59.7 474.8M60.3 476.5L59.7 476.5M59.9 477.4L59.9 478.0M62.0 477.4L59.9 477.4M62.0 478.0L59.9 478.0M58.4 475.6L58.4 477.7M59.7 475.6L58.4 475.6M59.9 477.7L58.4 477.7M60.5 479.2L60.5 479.8M62.0 479.2L60.5 479.2M62.0 479.8L60.5 479.8M60.0 479.5L60.0 480.5M60.5 479.5L60.0 479.5M62.0 480.5L60.0 480.5M58.5 478.6L58.5 480.0M62.0 478.6L58.5 478.6M60.0 480.0L58.5 480.0M60.3 481.7L60.3 482.3M62.0 481.7L60.3 481.7M62.0 482.3L60.3 482.3M59.7 481.1L59.7 482.0M62.0 481.1L59.7 481.1M60.3 482.0L59.7 482.0M58.5 481.5L58.5 482.9M59.7 481.5L58.5 481.5M62.0 482.9L58.5 482.9M59.4 483.5L59.4 484.2M62.0 483.5L59.4 483.5M62.0 484.2L59.4 484.2M57.8 482.2L57.8 483.8M58.5 482.2L57.8 482.2M59.4 483.8L57.8 483.8M57.4 483.0L57.4 484.8M57.8 483.0L57.4 483.0M62.0 484.8L57.4 484.8M58.2 485.4L58.2 486.0M62.0 485.4L58.2 485.4M62.0 486.0L58.2 486.0M56.7 483.9L56.7 485.7M57.4 483.9L56.7 483.9M58.2 485.7L56.7 485.7M56.2 479.3L56.2 484.8M58.5 479.3L56.2 479.3M56.7 484.8L56.2 484.8M55.6 476.7L55.6 482.1M58.4 476.7L55.6 476.7M56.2 482.1L55.6 482.1M57.7 486.6L57.7 487.2M62.0 486.6L57.7 486.6M62.0 487.2L57.7 487.2M56.9 486.9L56.9 487.8M57.7 486.9L56.9 486.9M62.0 487.8L56.9 487.8M55.4 487.4L55.4 488.5M56.9 487.4L55.4 487.4M62.0 488.5L55.4 488.5M56.0 489.1L56.0 489.7M62.0 489.1L56.0 489.1M62.0 489.7L56.0 489.7M54.9 487.9L54.9 489.4M55.4 487.9L54.9 487.9M56.0 489.4L54.9 489.4M54.0 479.4L54.0 488.7M55.6 479.4L54.0 479.4M54.9 488.7L54.0 488.7M61.4 492.1L61.4 492.7M62.0 492.1L61.4 492.1M62.0 492.7L61.4 492.7M61.3 493.9L61.3 494.5M62.0 493.9L61.3 493.9M62.0 494.5L61.3 494.5M61.2 493.3L61.2 494.2M62.0 493.3L61.2 493.3M61.3 494.2L61.2 494.2M61.1 492.4L61.1 493.8M61.4 492.4L61.1 492.4M61.2 493.8L61.1 493.8M60.7 491.5L60.7 493.1M62.0 491.5L60.7 491.5M61.1 493.1L60.7 493.1M60.3 490.9L60.3 492.3M62.0 490.9L60.3 490.9M60.7 492.3L60.3 492.3M59.7 490.3L59.7 491.6M62.0 490.3L59.7 490.3M60.3 491.6L59.7 491.6M60.7 495.2L60.7 495.8M62.0 495.2L60.7 495.2M62.0 495.8L60.7 495.8M60.6 496.4L60.6 497.0M62.0 496.4L60.6 496.4M62.0 497.0L60.6 497.0M60.1 495.5L60.1 496.7M60.7 495.5L60.1 495.5M60.6 496.7L60.1 496.7M60.6 498.2L60.6 498.8M62.0 498.2L60.6 498.2M62.0 498.8L60.6 498.8M60.0 497.6L60.0 498.5M62.0 497.6L60.0 497.6M60.6 498.5L60.0 498.5M59.0 496.1L59.0 498.0M60.1 496.1L59.0 496.1M60.0 498.0L59.0 498.0M58.6 491.0L58.6 497.0M59.7 491.0L58.6 491.0M59.0 497.0L58.6 497.0M60.8 499.4L60.8 500.0M62.0 499.4L60.8 499.4M62.0 500.0L60.8 500.0M60.0 499.7L60.0 500.6M60.8 499.7L60.0 499.7M62.0 500.6L60.0 500.6M58.3 494.0L58.3 500.2M58.6 494.0L58.3 494.0M60.0 500.2L58.3 500.2M60.9 501.8L60.9 502.4M62.0 501.8L60.9 501.8M62.0 502.4L60.9 502.4M60.8 501.2L60.8 502.1M62.0 501.2L60.8 501.2M60.9 502.1L60.8 502.1M60.5 503.0L60.5 503.6M62.0 503.0L60.5 503.0M62.0 503.6L60.5 503.6M60.0 503.3L60.0 504.2M60.5 503.3L60.0 503.3M62.0 504.2L60.0 504.2M59.9 501.7L59.9 503.8M60.8 501.7L59.9 501.7M60.0 503.8L59.9 503.8M59.7 505.5L59.7 506.1M62.0 505.5L59.7 505.5M62.0 506.1L59.7 506.1M59.3 505.8L59.3 506.7M59.7 505.8L59.3 505.8M62.0 506.7L59.3 506.7M59.0 504.8L59.0 506.2M62.0 504.8L59.0 504.8M59.3 506.2L59.0 506.2M58.8 505.5L58.8 507.3M59.0 505.5L58.8 505.5M62.0 507.3L58.8 507.3M58.4 502.7L58.4 506.4M59.9 502.7L58.4 502.7M58.8 506.4L58.4 506.4M56.9 497.1L56.9 504.6M58.3 497.1L56.9 497.1M58.4 504.6L56.9 504.6M57.6 507.9L57.6 508.5M62.0 507.9L57.6 507.9M62.0 508.5L57.6 508.5M56.4 500.8L56.4 508.2M56.9 500.8L56.4 500.8M57.6 508.2L56.4 508.2M55.4 509.1L55.4 509.7M62.0 509.1L55.4 509.1M62.0 509.7L55.4 509.7M53.5 504.5L53.5 509.4M56.4 504.5L53.5 504.5M55.4 509.4L53.5 509.4M57.2 510.3L57.2 510.9M62.0 510.3L57.2 510.3M62.0 510.9L57.2 510.9M59.8 512.1L59.8 512.7M62.0 512.1L59.8 512.1M62.0 512.7L59.8 512.7M59.8 513.3L59.8 513.9M62.0 513.3L59.8 513.3M62.0 513.9L59.8 513.9M59.7 512.4L59.7 513.6M59.8 512.4L59.7 512.4M59.8 513.6L59.7 513.6M60.2 514.5L60.2 515.2M62.0 514.5L60.2 514.5M62.0 515.2L60.2 515.2M59.4 513.0L59.4 514.8M59.7 513.0L59.4 513.0M60.2 514.8L59.4 514.8M61.4 515.8L61.4 516.4M62.0 515.8L61.4 515.8M62.0 516.4L61.4 516.4M61.2 517.0L61.2 517.6M62.0 517.0L61.2 517.0M62.0 517.6L61.2 517.6M61.1 516.1L61.1 517.3M61.4 516.1L61.1 516.1M61.2 517.3L61.1 517.3M60.6 518.2L60.6 518.8M62.0 518.2L60.6 518.2M62.0 518.8L60.6 518.8M60.3 516.7L60.3 518.5M61.1 516.7L60.3 516.7M60.6 518.5L60.3 518.5M59.1 513.9L59.1 517.6M59.4 513.9L59.1 513.9M60.3 517.6L59.1 517.6M58.1 511.5L58.1 515.8M62.0 511.5L58.1 511.5M59.1 515.8L58.1 515.8M58.8 519.4L58.8 520.0M62.0 519.4L58.8 519.4M62.0 520.0L58.8 520.0M59.1 520.6L59.1 521.2M62.0 520.6L59.1 520.6M62.0 521.2L59.1 521.2M58.5 519.7L58.5 520.9M58.8 519.7L58.5 519.7M59.1 520.9L58.5 520.9M57.6 513.6L57.6 520.3M58.1 513.6L57.6 513.6M58.5 520.3L57.6 520.3M55.4 510.6L55.4 517.0M57.2 510.6L55.4 510.6M57.6 517.0L55.4 517.0M61.1 523.0L61.1 523.6M62.0 523.0L61.1 523.0M62.0 523.6L61.1 523.6M60.5 523.3L60.5 524.2M61.1 523.3L60.5 523.3M62.0 524.2L60.5 524.2M59.9 522.4L59.9 523.8M62.0 522.4L59.9 522.4M60.5 523.8L59.9 523.8M59.2 523.1L59.2 524.8M59.9 523.1L59.2 523.1M62.0 524.8L59.2 524.8M57.0 521.8L57.0 524.0M62.0 521.8L57.0 521.8M59.2 524.0L57.0 524.0M57.4 526.1L57.4 526.7M62.0 526.1L57.4 526.1M62.0 526.7L57.4 526.7M58.5 527.3L58.5 527.9M62.0 527.3L58.5 527.3M62.0 527.9L58.5 527.9M59.6 528.5L59.6 529.1M62.0 528.5L59.6 528.5M62.0 529.1L59.6 529.1M59.3 528.8L59.3 529.7M59.6 528.8L59.3 528.8M62.0 529.7L59.3 529.7M57.9 527.6L57.9 529.2M58.5 527.6L57.9 527.6M59.3 529.2L57.9 529.2M56.9 526.4L56.9 528.4M57.4 526.4L56.9 526.4M57.9 528.4L56.9 528.4M54.5 525.5L54.5 527.4M62.0 525.5L54.5 525.5M56.9 527.4L54.5 527.4M53.9 522.9L53.9 526.4M57.0 522.9L53.9 522.9M54.5 526.4L53.9 526.4M52.0 513.8L52.0 524.7M55.4 513.8L52.0 513.8M53.9 524.7L52.0 524.7M60.6 532.1L60.6 532.7M62.0 532.1L60.6 532.1M62.0 532.7L60.6 532.7M60.1 531.5L60.1 532.4M62.0 531.5L60.1 531.5M60.6 532.4L60.1 532.4M59.2 530.9L59.2 532.0M62.0 530.9L59.2 530.9M60.1 532.0L59.2 532.0M57.3 530.3L57.3 531.4M62.0 530.3L57.3 530.3M59.2 531.4L57.3 531.4M58.8 533.3L58.8 533.9M62.0 533.3L58.8 533.3M62.0 533.9L58.8 533.9M60.0 534.5L60.0 535.2M62.0 534.5L60.0 534.5M62.0 535.2L60.0 535.2M60.6 535.8L60.6 536.4M62.0 535.8L60.6 535.8M62.0 536.4L60.6 536.4M60.3 536.1L60.3 537.0M60.6 536.1L60.3 536.1M62.0 537.0L60.3 537.0M58.9 534.8L58.9 536.5M60.0 534.8L58.9 534.8M60.3 536.5L58.9 536.5M58.4 533.6L58.4 535.7M58.8 533.6L58.4 533.6M58.9 535.7L58.4 535.7M58.6 537.6L58.6 538.2M62.0 537.6L58.6 537.6M62.0 538.2L58.6 538.2M56.8 534.7L56.8 537.9M58.4 534.7L56.8 534.7M58.6 537.9L56.8 537.9M55.7 530.9L55.7 536.3M57.3 530.9L55.7 530.9M56.8 536.3L55.7 536.3M59.1 538.8L59.1 539.4M62.0 538.8L59.1 538.8M62.0 539.4L59.1 539.4M59.0 540.0L59.0 540.6M62.0 540.0L59.0 540.0M62.0 540.6L59.0 540.6M58.8 540.3L58.8 541.2M59.0 540.3L58.8 540.3M62.0 541.2L58.8 541.2M58.3 539.1L58.3 540.8M59.1 539.1L58.3 539.1M58.8 540.8L58.3 540.8M61.4 541.8L61.4 542.4M62.0 541.8L61.4 541.8M62.0 542.4L61.4 542.4M61.6 543.6L61.6 544.2M62.0 543.6L61.6 543.6M62.0 544.2L61.6 544.2M61.4 543.0L61.4 543.9M62.0 543.0L61.4 543.0M61.6 543.9L61.4 543.9M61.2 542.1L61.2 543.5M61.4 542.1L61.2 542.1M61.4 543.5L61.2 543.5M61.3 544.8L61.3 545.5M62.0 544.8L61.3 544.8M62.0 545.5L61.3 545.5M60.9 542.8L60.9 545.2M61.2 542.8L60.9 542.8M61.3 545.2L60.9 545.2M61.2 546.7L61.2 547.3M62.0 546.7L61.2 546.7M62.0 547.3L61.2 547.3M60.8 546.1L60.8 547.0M62.0 546.1L60.8 546.1M61.2 547.0L60.8 547.0M60.4 544.0L60.4 546.5M60.9 544.0L60.4 544.0M60.8 546.5L60.4 546.5M59.4 545.2L59.4 547.9M60.4 545.2L59.4 545.2M62.0 547.9L59.4 547.9M57.5 539.9L57.5 546.6M58.3 539.9L57.5 539.9M59.4 546.6L57.5 546.6M57.6 549.1L57.6 549.7M62.0 549.1L57.6 549.1M62.0 549.7L57.6 549.7M56.9 548.5L56.9 549.4M62.0 548.5L56.9 548.5M57.6 549.4L56.9 549.4M55.0 543.2L55.0 548.9M57.5 543.2L55.0 543.2M56.9 548.9L55.0 548.9M53.0 533.6L53.0 546.1M55.7 533.6L53.0 533.6M55.0 546.1L53.0 546.1M59.4 550.9L59.4 551.5M62.0 550.9L59.4 550.9M62.0 551.5L59.4 551.5M58.7 550.3L58.7 551.2M62.0 550.3L58.7 550.3M59.4 551.2L58.7 551.2M58.2 550.8L58.2 552.1M58.7 550.8L58.2 550.8M62.0 552.1L58.2 552.1M59.7 553.3L59.7 553.9M62.0 553.3L59.7 553.3M62.0 553.9L59.7 553.9M59.6 552.7L59.6 553.6M62.0 552.7L59.6 552.7M59.7 553.6L59.6 553.6M59.3 553.2L59.3 554.5M59.6 553.2L59.3 553.2M62.0 554.5L59.3 554.5M57.2 551.4L57.2 553.9M58.2 551.4L57.2 551.4M59.3 553.9L57.2 553.9M59.4 555.2L59.4 555.8M62.0 555.2L59.4 555.2M62.0 555.8L59.4 555.8M60.2 557.0L60.2 557.6M62.0 557.0L60.2 557.0M62.0 557.6L60.2 557.6M59.8 556.4L59.8 557.3M62.0 556.4L59.8 556.4M60.2 557.3L59.8 557.3M59.0 555.5L59.0 556.8M59.4 555.5L59.0 555.5M59.8 556.8L59.0 556.8M56.8 552.7L56.8 556.1M57.2 552.7L56.8 552.7M59.0 556.1L56.8 556.1M59.7 558.2L59.7 558.8M62.0 558.2L59.7 558.2M62.0 558.8L59.7 558.8M60.1 559.4L60.1 560.0M62.0 559.4L60.1 559.4M62.0 560.0L60.1 560.0M59.8 559.7L59.8 560.6M60.1 559.7L59.8 559.7M62.0 560.6L59.8 560.6M61.4 561.2L61.4 561.8M62.0 561.2L61.4 561.2M62.0 561.8L61.4 561.8M61.0 561.5L61.0 562.4M61.4 561.5L61.0 561.5M62.0 562.4L61.0 562.4M60.5 562.0L60.5 563.0M61.0 562.0L60.5 562.0M62.0 563.0L60.5 563.0M60.3 563.6L60.3 564.2M62.0 563.6L60.3 563.6M62.0 564.2L60.3 564.2M60.2 563.9L60.2 564.8M60.3 563.9L60.2 563.9M62.0 564.8L60.2 564.8M60.0 562.5L60.0 564.4M60.5 562.5L60.0 562.5M60.2 564.4L60.0 564.4M59.6 560.2L59.6 563.4M59.8 560.2L59.6 560.2M60.0 563.4L59.6 563.4M59.3 558.5L59.3 561.8M59.7 558.5L59.3 558.5M59.6 561.8L59.3 561.8M59.2 565.5L59.2 566.1M62.0 565.5L59.2 565.5M62.0 566.1L59.2 566.1M58.6 560.1L58.6 565.8M59.3 560.1L58.6 560.1M59.2 565.8L58.6 565.8M57.9 562.9L57.9 566.7M58.6 562.9L57.9 562.9M62.0 566.7L57.9 566.7M58.7 567.3L58.7 567.9M62.0 567.3L58.7 567.3M62.0 567.9L58.7 567.9M57.4 567.6L57.4 568.5M58.7 567.6L57.4 567.6M62.0 568.5L57.4 568.5M56.7 564.8L56.7 568.0M57.9 564.8L56.7 564.8M57.4 568.0L56.7 568.0M55.6 554.4L55.6 566.4M56.8 554.4L55.6 554.4M56.7 566.4L55.6 566.4M53.5 569.1L53.5 569.7M62.0 569.1L53.5 569.1M62.0 569.7L53.5 569.7M53.0 560.4L53.0 569.4M55.6 560.4L53.0 560.4M53.5 569.4L53.0 569.4M58.7 570.3L58.7 570.9M62.0 570.3L58.7 570.3M62.0 570.9L58.7 570.9M56.1 570.6L56.1 571.5M58.7 570.6L56.1 570.6M62.0 571.5L56.1 571.5M54.1 571.1L54.1 572.1M56.1 571.1L54.1 571.1M62.0 572.1L54.1 572.1M59.4 572.7L59.4 573.3M62.0 572.7L59.4 572.7M62.0 573.3L59.4 573.3M58.2 573.0L58.2 573.9M59.4 573.0L58.2 573.0M62.0 573.9L58.2 573.9M60.7 575.8L60.7 576.4M62.0 575.8L60.7 575.8M62.0 576.4L60.7 576.4M60.1 577.0L60.1 577.6M62.0 577.0L60.1 577.0M62.0 577.6L60.1 577.6M59.8 576.1L59.8 577.3M60.7 576.1L59.8 576.1M60.1 577.3L59.8 577.3M58.7 575.2L58.7 576.7M62.0 575.2L58.7 575.2M59.8 576.7L58.7 576.7M59.8 578.8L59.8 579.4M62.0 578.8L59.8 578.8M62.0 579.4L59.8 579.4M58.7 578.2L58.7 579.1M62.0 578.2L58.7 578.2M59.8 579.1L58.7 579.1M58.1 575.9L58.1 578.6M58.7 575.9L58.1 575.9M58.7 578.6L58.1 578.6M57.6 574.5L57.6 577.3M62.0 574.5L57.6 574.5M58.1 577.3L57.6 577.3M57.1 573.5L57.1 575.9M58.2 573.5L57.1 573.5M57.6 575.9L57.1 575.9M53.7 571.6L53.7 574.7M54.1 571.6L53.7 571.6M57.1 574.7L53.7 574.7M58.7 580.6L58.7 581.2M62.0 580.6L58.7 580.6M62.0 581.2L58.7 581.2M58.0 580.0L58.0 580.9M62.0 580.0L58.0 580.0M58.7 580.9L58.0 580.9M61.0 582.4L61.0 583.0M62.0 582.4L61.0 582.4M62.0 583.0L61.0 583.0M60.6 582.7L60.6 583.6M61.0 582.7L60.6 582.7M62.0 583.6L60.6 583.6M60.0 581.8L60.0 583.2M62.0 581.8L60.0 581.8M60.6 583.2L60.0 583.2M60.3 584.2L60.3 584.8M62.0 584.2L60.3 584.2M62.0 584.8L60.3 584.8M60.8 585.5L60.8 586.1M62.0 585.5L60.8 585.5M62.0 586.1L60.8 586.1M60.7 585.8L60.7 586.7M60.8 585.8L60.7 585.8M62.0 586.7L60.7 586.7M61.0 587.3L61.0 587.9M62.0 587.3L61.0 587.3M62.0 587.9L61.0 587.9M60.6 586.2L60.6 587.6M60.7 586.2L60.6 586.2M61.0 587.6L60.6 587.6M60.1 584.5L60.1 586.9M60.3 584.5L60.1 584.5M60.6 586.9L60.1 586.9M58.7 582.5L58.7 585.7M60.0 582.5L58.7 582.5M60.1 585.7L58.7 585.7M59.5 589.1L59.5 589.7M62.0 589.1L59.5 589.1M62.0 589.7L59.5 589.7M58.6 588.5L58.6 589.4M62.0 588.5L58.6 588.5M59.5 589.4L58.6 589.4M57.5 584.1L57.5 588.9M58.7 584.1L57.5 584.1M58.6 588.9L57.5 588.9M55.8 580.5L55.8 586.5M58.0 580.5L55.8 580.5M57.5 586.5L55.8 586.5M53.0 573.1L53.0 583.5M53.7 573.1L53.0 573.1M55.8 583.5L53.0 583.5M60.0 590.3L60.0 590.9M62.0 590.3L60.0 590.3M62.0 590.9L60.0 590.9M58.6 590.6L58.6 591.5M60.0 590.6L58.6 590.6M62.0 591.5L58.6 591.5M57.8 592.1L57.8 592.7M62.0 592.1L57.8 592.1M62.0 592.7L57.8 592.7M57.4 591.0L57.4 592.4M58.6 591.0L57.4 591.0M57.8 592.4L57.4 592.4M61.3 593.3L61.3 593.9M62.0 593.3L61.3 593.3M62.0 593.9L61.3 593.9M61.1 594.5L61.1 595.1M62.0 594.5L61.1 594.5M62.0 595.1L61.1 595.1M61.0 593.6L61.0 594.8M61.3 593.6L61.0 593.6M61.1 594.8L61.0 594.8M61.1 595.7L61.1 596.3M62.0 595.7L61.1 595.7M62.0 596.3L61.1 596.3M60.7 594.2L60.7 596.0M61.0 594.2L60.7 594.2M61.1 596.0L60.7 596.0M60.9 596.9L60.9 597.5M62.0 596.9L60.9 596.9M62.0 597.5L60.9 597.5M60.6 597.2L60.6 598.1M60.9 597.2L60.6 597.2M62.0 598.1L60.6 598.1M60.5 595.1L60.5 597.7M60.7 595.1L60.5 595.1M60.6 597.7L60.5 597.7M60.1 598.7L60.1 599.3M62.0 598.7L60.1 598.7M62.0 599.3L60.1 599.3M59.3 596.4L59.3 599.0M60.5 596.4L59.3 596.4M60.1 599.0L59.3 599.0M60.2 599.9L60.2 600.5M62.0 599.9L60.2 599.9M62.0 600.5L60.2 600.5M60.8 601.1L60.8 601.7M62.0 601.1L60.8 601.1M62.0 601.7L60.8 601.7M60.1 601.4L60.1 602.3M60.8 601.4L60.1 601.4M62.0 602.3L60.1 602.3M59.4 600.2L59.4 601.9M60.2 600.2L59.4 600.2M60.1 601.9L59.4 601.9M58.1 597.7L58.1 601.0M59.3 597.7L58.1 597.7M59.4 601.0L58.1 601.0M55.7 591.7L55.7 599.4M57.4 591.7L55.7 591.7M58.1 599.4L55.7 599.4M59.0 603.5L59.0 604.1M62.0 603.5L59.0 603.5M62.0 604.1L59.0 604.1M56.9 603.8L56.9 604.7M59.0 603.8L56.9 603.8M62.0 604.7L56.9 604.7M54.7 602.9L54.7 604.2M62.0 602.9L54.7 602.9M56.9 604.2L54.7 604.2M53.5 595.5L53.5 603.6M55.7 595.5L53.5 595.5M54.7 603.6L53.5 603.6M60.8 605.3L60.8 605.9M62.0 605.3L60.8 605.3M62.0 605.9L60.8 605.9M60.6 605.6L60.6 606.5M60.8 605.6L60.6 605.6M62.0 606.5L60.6 606.5M61.2 608.4L61.2 609.0M62.0 608.4L61.2 608.4M62.0 609.0L61.2 609.0M61.2 607.8L61.2 608.7M62.0 607.8L61.2 607.8M61.2 608.7L61.2 608.7M60.7 607.2L60.7 608.2M62.0 607.2L60.7 607.2M61.2 608.2L60.7 608.2M60.8 609.6L60.8 610.2M62.0 609.6L60.8 609.6M62.0 610.2L60.8 610.2M60.6 609.9L60.6 610.9M60.8 609.9L60.6 609.9M62.0 610.9L60.6 610.9M60.4 607.7L60.4 610.4M60.7 607.7L60.4 607.7M60.6 610.4L60.4 610.4M60.1 606.1L60.1 609.0M60.6 606.1L60.1 606.1M60.4 609.0L60.1 609.0M59.0 607.6L59.0 611.5M60.1 607.6L59.0 607.6M62.0 611.5L59.0 611.5M59.0 612.1L59.0 612.7M62.0 612.1L59.0 612.1M62.0 612.7L59.0 612.7M58.2 609.5L58.2 612.4M59.0 609.5L58.2 609.5M59.0 612.4L58.2 612.4M61.3 613.9L61.3 614.6M62.0 613.9L61.3 613.9M62.0 614.6L61.3 614.6M60.8 613.3L60.8 614.2M62.0 613.3L60.8 613.3M61.3 614.2L60.8 614.2M60.1 613.8L60.1 615.2M60.8 613.8L60.1 613.8M62.0 615.2L60.1 615.2M60.0 615.8L60.0 616.4M62.0 615.8L60.0 615.8M62.0 616.4L60.0 616.4M59.4 614.5L59.4 616.1M60.1 614.5L59.4 614.5M60.0 616.1L59.4 616.1M60.3 617.0L60.3 617.6M62.0 617.0L60.3 617.0M62.0 617.6L60.3 617.6M59.0 617.3L59.0 618.3M60.3 617.3L59.0 617.3M62.0 618.3L59.0 618.3M57.5 615.3L57.5 617.8M59.4 615.3L57.5 615.3M59.0 617.8L57.5 617.8M56.8 611.0L56.8 616.5M58.2 611.0L56.8 611.0M57.5 616.5L56.8 616.5M61.0 620.1L61.0 620.7M62.0 620.1L61.0 620.1M62.0 620.7L61.0 620.7M60.3 620.4L60.3 621.3M61.0 620.4L60.3 620.4M62.0 621.3L60.3 621.3M60.0 620.9L60.0 622.0M60.3 620.9L60.0 620.9M62.0 622.0L60.0 622.0M58.6 619.5L58.6 621.4M62.0 619.5L58.6 619.5M60.0 621.4L58.6 621.4M57.9 620.5L57.9 622.6M58.6 620.5L57.9 620.5M62.0 622.6L57.9 622.6M56.9 621.5L56.9 623.2M57.9 621.5L56.9 621.5M62.0 623.2L56.9 623.2M56.7 618.9L56.7 622.4M62.0 618.9L56.7 618.9M56.9 622.4L56.7 622.4M53.5 613.8L53.5 620.6M56.8 613.8L53.5 613.8M56.7 620.6L53.5 620.6"/>
<path fill="none" stroke="#333" stroke-width="0.8" d="M201.5 346.6L236.0 346.6M201.5 346.6L201.5 375.1M236.0 346.6L236.0 381.3M185.8 375.1L217.2 375.1M185.8 375.1L185.8 393.1M165.1 393.1L206.3 393.1M165.1 393.1L165.1 396.3M143.2 396.3L187.0 396.3M143.2 396.3L143.2 397.7M117.8 397.7L170.0 397.7M117.8 397.7L117.8 399.0M91.5 399.0L140.0 399.0M206.3 393.1L206.3 398.4M200.7 398.4L210.3 398.4M217.2 375.1L217.2 391.2M215.1 391.2L218.4 391.2M215.1 391.2L215.1 401.0M218.4 391.2L218.4 401.0M224.5 381.3L247.6 381.3M224.5 381.3L224.5 395.7M223.2 395.7L225.6 395.7M247.6 381.3L247.6 391.5M234.7 391.5L260.1 391.5M234.7 391.5L234.7 397.3M228.0 397.3L240.5 397.3M260.1 391.5L260.1 401.2M252.6 401.2L268.1 401.2M1.0 451.7L1.0 486.5M1.0 451.7L35.3 451.7M35.3 440.3L35.3 463.5M35.3 440.3L45.5 440.3M45.5 427.6L45.5 453.0M45.5 427.6L55.5 427.6M55.5 416.0L55.5 436.0M45.5 453.0L51.5 453.0M51.5 447.3L51.5 457.9M35.3 463.5L49.4 463.5M49.4 461.5L49.4 465.5M49.4 461.5L55.0 461.5M49.4 465.5L55.0 465.5M1.0 486.5L29.1 486.5M29.1 470.6L29.1 502.3M29.1 470.6L45.5 470.6M45.5 469.0L45.5 472.2M45.5 469.0L52.9 469.0M45.5 472.2L52.9 472.2M29.1 502.3L47.3 502.3M47.3 481.7L47.3 522.3M47.3 481.7L53.0 481.7M47.3 522.3L50.9 522.3"/>
<rect x="64.3" y="405.6" width="213.8" height="1.2" fill="#1a1a1a" fill-opacity="0.8"/>
<rect x="64.3" y="401.2" width="213.8" height="4.4" fill="#1a1a1a" fill-opacity="0.45"/>
<rect x="60.6" y="409.8" width="1.3" height="213.5" fill="#1a1a1a" fill-opacity="0.8"/>
<rect x="56.4" y="412" width="4.2" height="211.3" fill="#1a1a1a" fill-opacity="0.45"/>
<text x="0" y="0" font-family="Liberation Serif" font-size="10.4" text-anchor="start" fill="#000" font-weight="normal" stroke="#000" stroke-width="0.15" transform="translate(281.8,417.20) rotate(0.1) scale(0.5)">CX331</text>
<text x="0" y="0" font-family="Liberation Serif" font-size="10.4" text-anchor="start" fill="#000" font-weight="normal" stroke="#000" stroke-width="0.15" transform="translate(281.8,421.83) rotate(0.1) scale(0.5)">CX344</text>
<text x="0" y="0" font-family="Liberation Serif" font-size="10.4" text-anchor="start" fill="#000" font-weight="normal" stroke="#000" stroke-width="0.15" transform="translate(281.8,426.46) rotate(0.1) scale(0.5)">CX335</text>
<text x="0" y="0" font-family="Liberation Serif" font-size="10.4" text-anchor="start" fill="#000" font-weight="normal" stroke="#000" stroke-width="0.15" transform="translate(281.8,431.09) rotate(0.1) scale(0.5)">CX224</text>
<text x="0" y="0" font-family="Liberation Serif" font-size="10.4" text-anchor="start" fill="#000" font-weight="normal" stroke="#000" stroke-width="0.15" transform="translate(281.8,435.72) rotate(0.1) scale(0.5)">CX78</text>
<text x="0" y="0" font-family="Liberation Serif" font-size="10.4" text-anchor="start" fill="#000" font-weight="normal" stroke="#000" stroke-width="0.15" transform="translate(281.8,440.35) rotate(0.1) scale(0.5)">CX317</text>
<text x="0" y="0" font-family="Liberation Serif" font-size="10.4" text-anchor="start" fill="#000" font-weight="normal" stroke="#000" stroke-width="0.15" transform="translate(281.8,444.98) rotate(0.1) scale(0.5)">CX171</text>
<text x="0" y="0" font-family="Liberation Serif" font-size="10.4" text-anchor="start" fill="#000" font-weight="normal" stroke="#000" stroke-width="0.15" transform="translate(281.8,449.61) rotate(0.1) scale(0.5)">CX358</text>
<text x="0" y="0" font-family="Liberation Serif" font-size="10.4" text-anchor="start" fill="#000" font-weight="normal" stroke="#000" stroke-width="0.15" transform="translate(281.8,454.24) rotate(0.1) scale(0.5)">CX138</text>
<text x="0" y="0" font-family="Liberation Serif" font-size="10.4" text-anchor="start" fill="#000" font-weight="normal" stroke="#000" stroke-width="0.15" transform="translate(281.8,458.87) rotate(0.1) scale(0.5)">CX246</text>
<text x="0" y="0" font-family="Liberation Serif" font-size="10.4" text-anchor="start" fill="#000" font-weight="normal" stroke="#000" stroke-width="0.15" transform="translate(281.8,463.50) rotate(0.1) scale(0.5)">CX317</text>
<text x="0" y="0" font-family="Liberation Serif" font-size="10.4" text-anchor="start" fill="#000" font-weight="normal" stroke="#000" stroke-width="0.15" transform="translate(281.8,468.13) rotate(0.1) scale(0.5)">CX367</text>
<text x="0" y="0" font-family="Liberation Serif" font-size="10.4" text-anchor="start" fill="#000" font-weight="normal" stroke="#000" stroke-width="0.15" transform="translate(281.8,472.76) rotate(0.1) scale(0.5)">CX242</text>
<text x="0" y="0" font-family="Liberation Serif" font-size="10.4" text-anchor="start" fill="#000" font-weight="normal" stroke="#000" stroke-width="0.15" transform="translate(281.8,477.39) rotate(0.1) scale(0.5)">CX191</text>
<text x="0" y="0" font-family="Liberation Serif" font-size="10.4" text-anchor="start" fill="#000" font-weight="normal" stroke="#000" stroke-width="0.15" transform="translate(281.8,482.02) rotate(0.1) scale(0.5)">CX167</text>
<text x="0" y="0" font-family="Liberation Serif" font-size="10.4" text-anchor="start" fill="#000" font-weight="normal" stroke="#000" stroke-width="0.15" transform="translate(281.8,486.65) rotate(0.1) scale(0.5)">CX256</text>
<text x="0" y="0" font-family="Liberation Serif" font-size="10.4" text-anchor="start" fill="#000" font-weight="normal" stroke="#000" stroke-width="0.15" transform="translate(281.8,491.28) rotate(0.1) scale(0.5)">CX278</text>
<text x="0" y="0" font-family="Liberation Serif" font-size="10.4" text-anchor="start" fill="#000" font-weight="normal" stroke="#000" stroke-width="0.15" transform="translate(281.8,495.91) rotate(0.1) scale(0.5)">CX387</text>
<text x="0" y="0" font-family="Liberation Serif" font-size="10.4" text-anchor="start" fill="#000" font-weight="normal" stroke="#000" stroke-width="0.15" transform="translate(281.8,500.54) rotate(0.1) scale(0.5)">CX479</text>
<text x="0" y="0" font-family="Liberation Serif" font-size="10.4" text-anchor="start" fill="#000" font-weight="normal" stroke="#000" stroke-width="0.15" transform="translate(281.8,505.17) rotate(0.1) scale(0.5)">CX194</text>
<text x="0" y="0" font-family="Liberation Serif" font-size="10.4" text-anchor="start" fill="#000" font-weight="normal" stroke="#000" stroke-width="0.15" transform="translate(281.8,509.80) rotate(0.1) scale(0.5)">CX88</text>
<text x="0" y="0" font-family="Liberation Serif" font-size="10.4" text-anchor="start" fill="#000" font-weight="normal" stroke="#000" stroke-width="0.15" transform="translate(281.8,514.43) rotate(0.1) scale(0.5)">CX221</text>
<text x="0" y="0" font-family="Liberation Serif" font-size="10.4" text-anchor="start" fill="#000" font-weight="normal" stroke="#000" stroke-width="0.15" transform="translate(281.8,519.06) rotate(0.1) scale(0.5)">CX18</text>
<text x="0" y="0" font-family="Liberation Serif" font-size="10.4" text-anchor="start" fill="#000" font-weight="normal" stroke="#000" stroke-width="0.15" transform="translate(281.8,523.69) rotate(0.1) scale(0.5)">CX131</text>
<text x="0" y="0" font-family="Liberation Serif" font-size="10.4" text-anchor="start" fill="#000" font-weight="normal" stroke="#000" stroke-width="0.15" transform="translate(281.8,528.32) rotate(0.1) scale(0.5)">CX170</text>
<text x="0" y="0" font-family="Liberation Serif" font-size="10.4" text-anchor="start" fill="#000" font-weight="normal" stroke="#000" stroke-width="0.15" transform="translate(281.8,532.95) rotate(0.1) scale(0.5)">CX43</text>
<text x="0" y="0" font-family="Liberation Serif" font-size="10.4" text-anchor="start" fill="#000" font-weight="normal" stroke="#000" stroke-width="0.15" transform="translate(281.8,537.58) rotate(0.1) scale(0.5)">CX198</text>
<text x="0" y="0" font-family="Liberation Serif" font-size="10.4" text-anchor="start" fill="#000" font-weight="normal" stroke="#000" stroke-width="0.15" transform="translate(281.8,542.21) rotate(0.1) scale(0.5)">CX79</text>
<text x="0" y="0" font-family="Liberation Serif" font-size="10.4" text-anchor="start" fill="#000" font-weight="normal" stroke="#000" stroke-width="0.15" transform="translate(281.8,546.84) rotate(0.1) scale(0.5)">CX369</text>
<text x="0" y="0" font-family="Liberation Serif" font-size="10.4" text-anchor="start" fill="#000" font-weight="normal" stroke="#000" stroke-width="0.15" transform="translate(281.8,551.47) rotate(0.1) scale(0.5)">CX305</text>
<text x="0" y="0" font-family="Liberation Serif" font-size="10.4" text-anchor="start" fill="#000" font-weight="normal" stroke="#000" stroke-width="0.15" transform="translate(281.8,556.10) rotate(0.1) scale(0.5)">CX314</text>
<text x="0" y="0" font-family="Liberation Serif" font-size="10.4" text-anchor="start" fill="#000" font-weight="normal" stroke="#000" stroke-width="0.15" transform="translate(281.8,560.73) rotate(0.1) scale(0.5)">CX348</text>
<text x="0" y="0" font-family="Liberation Serif" font-size="10.4" text-anchor="start" fill="#000" font-weight="normal" stroke="#000" stroke-width="0.15" transform="translate(281.8,565.36) rotate(0.1) scale(0.5)">CX8</text>
<text x="0" y="0" font-family="Liberation Serif" font-size="10.4" text-anchor="start" fill="#000" font-weight="normal" stroke="#000" stroke-width="0.15" transform="translate(281.8,569.99) rotate(0.1) scale(0.5)">CX196</text>
<text x="0" y="0" font-family="Liberation Serif" font-size="10.4" text-anchor="start" fill="#000" font-weight="normal" stroke="#000" stroke-width="0.15" transform="translate(281.8,574.62) rotate(0.1) scale(0.5)">CX377</text>
<text x="0" y="0" font-family="Liberation Serif" font-size="10.4" text-anchor="start" fill="#000" font-weight="normal" stroke="#000" stroke-width="0.15" transform="translate(281.8,579.25) rotate(0.1) scale(0.5)">CX27</text>
<text x="0" y="0" font-family="Liberation Serif" font-size="10.4" text-anchor="start" fill="#000" font-weight="normal" stroke="#000" stroke-width="0.15" transform="translate(281.8,583.88) rotate(0.1) scale(0.5)">CX240</text>
<text x="0" y="0" font-family="Liberation Serif" font-size="10.4" text-anchor="start" fill="#000" font-weight="normal" stroke="#000" stroke-width="0.15" transform="translate(281.8,588.51) rotate(0.1) scale(0.5)">CX265</text>
<text x="0" y="0" font-family="Liberation Serif" font-size="10.4" text-anchor="start" fill="#000" font-weight="normal" stroke="#000" stroke-width="0.15" transform="translate(281.8,593.14) rotate(0.1) scale(0.5)">CX340</text>
<text x="0" y="0" font-family="Liberation Serif" font-size="10.4" text-anchor="start" fill="#000" font-weight="normal" stroke="#000" stroke-width="0.15" transform="translate(281.8,597.77) rotate(0.1) scale(0.5)">CX362</text>
<text x="0" y="0" font-family="Liberation Serif" font-size="10.4" text-anchor="start" fill="#000" font-weight="normal" stroke="#000" stroke-width="0.15" transform="translate(281.8,602.40) rotate(0.1) scale(0.5)">CX172</text>
<text x="0" y="0" font-family="Liberation Serif" font-size="10.4" text-anchor="start" fill="#000" font-weight="normal" stroke="#000" stroke-width="0.15" transform="translate(281.8,607.03) rotate(0.1) scale(0.5)">CX231</text>
<text x="0" y="0" font-family="Liberation Serif" font-size="10.4" text-anchor="start" fill="#000" font-weight="normal" stroke="#000" stroke-width="0.15" transform="translate(281.8,611.66) rotate(0.1) scale(0.5)">CX379</text>
<text x="0" y="0" font-family="Liberation Serif" font-size="10.4" text-anchor="start" fill="#000" font-weight="normal" stroke="#000" stroke-width="0.15" transform="translate(281.8,616.29) rotate(0.1) scale(0.5)">CX366</text>
<text x="0" y="0" font-family="Liberation Serif" font-size="10.4" text-anchor="start" fill="#000" font-weight="normal" stroke="#000" stroke-width="0.15" transform="translate(281.8,620.92) rotate(0.1) scale(0.5)">CX480</text>
<text x="0" y="0" font-family="Liberation Serif" font-size="10.4" text-anchor="start" fill="#000" font-weight="normal" stroke="#000" stroke-width="0.15" transform="translate(281.8,625.55) rotate(0.1) scale(0.5)">CX467</text>
<text x="0" y="0" font-family="Liberation Serif" font-size="10.4" text-anchor="end" fill="#000" font-weight="normal" stroke="#000" stroke-width="0.15" transform="translate(67.60,629.5) rotate(-89.9) scale(0.5)">CX467</text>
<text x="0" y="0" font-family="Liberation Serif" font-size="10.4" text-anchor="end" fill="#000" font-weight="normal" stroke="#000" stroke-width="0.15" transform="translate(72.22,629.5) rotate(-89.9) scale(0.5)">CX480</text>
<text x="0" y="0" font-family="Liberation Serif" font-size="10.4" text-anchor="end" fill="#000" font-weight="normal" stroke="#000" stroke-width="0.15" transform="translate(76.84,629.5) rotate(-89.9) scale(0.5)">CX366</text>
<text x="0" y="0" font-family="Liberation Serif" font-size="10.4" text-anchor="end" fill="#000" font-weight="normal" stroke="#000" stroke-width="0.15" transform="translate(81.46,629.5) rotate(-89.9) scale(0.5)">CX379</text>
<text x="0" y="0" font-family="Liberation Serif" font-size="10.4" text-anchor="end" fill="#000" font-weight="normal" stroke="#000" stroke-width="0.15" transform="translate(86.08,629.5) rotate(-89.9) scale(0.5)">CX231</text>
<text x="0" y="0" font-family="Liberation Serif" font-size="10.4" text-anchor="end" fill="#000" font-weight="normal" stroke="#000" stroke-width="0.15" transform="translate(90.70,629.5) rotate(-89.9) scale(0.5)">CX172</text>
<text x="0" y="0" font-family="Liberation Serif" font-size="10.4" text-anchor="end" fill="#000" font-weight="normal" stroke="#000" stroke-width="0.15" transform="translate(95.32,629.5) rotate(-89.9) scale(0.5)">CX362</text>
<text x="0" y="0" font-family="Liberation Serif" font-size="10.4" text-anchor="end" fill="#000" font-weight="normal" stroke="#000" stroke-width="0.15" transform="translate(99.94,629.5) rotate(-89.9) scale(0.5)">CX340</text>
<text x="0" y="0" font-family="Liberation Serif" font-size="10.4" text-anchor="end" fill="#000" font-weight="normal" stroke="#000" stroke-width="0.15" transform="translate(104.56,629.5) rotate(-89.9) scale(0.5)">CX265</text>
<text x="0" y="0" font-family="Liberation Serif" font-size="10.4" text-anchor="end" fill="#000" font-weight="normal" stroke="#000" stroke-width="0.15" transform="translate(109.18,629.5) rotate(-89.9) scale(0.5)">CX240</text>
<text x="0" y="0" font-family="Liberation Serif" font-size="10.4" text-anchor="end" fill="#000" font-weight="normal" stroke="#000" stroke-width="0.15" transform="translate(113.80,629.5) rotate(-89.9) scale(0.5)">CX27</text>
<text x="0" y="0" font-family="Liberation Serif" font-size="10.4" text-anchor="end" fill="#000" font-weight="normal" stroke="#000" stroke-width="0.15" transform="translate(118.42,629.5) rotate(-89.9) scale(0.5)">CX377</text>
<text x="0" y="0" font-family="Liberation Serif" font-size="10.4" text-anchor="end" fill="#000" font-weight="normal" stroke="#000" stroke-width="0.15" transform="translate(123.04,629.5) rotate(-89.9) scale(0.5)">CX196</text>
<text x="0" y="0" font-family="Liberation Serif" font-size="10.4" text-anchor="end" fill="#000" font-weight="normal" stroke="#000" stroke-width="0.15" transform="translate(127.66,629.5) rotate(-89.9) scale(0.5)">CX8</text>
<text x="0" y="0" font-family="Liberation Serif" font-size="10.4" text-anchor="end" fill="#000" font-weight="normal" stroke="#000" stroke-width="0.15" transform="translate(132.28,629.5) rotate(-89.9) scale(0.5)">CX348</text>
<text x="0" y="0" font-family="Liberation Serif" font-size="10.4" text-anchor="end" fill="#000" font-weight="normal" stroke="#000" stroke-width="0.15" transform="translate(136.90,629.5) rotate(-89.9) scale(0.5)">CX314</text>
<text x="0" y="0" font-family="Liberation Serif" font-size="10.4" text-anchor="end" fill="#000" font-weight="normal" stroke="#000" stroke-width="0.15" transform="translate(141.52,629.5) rotate(-89.9) scale(0.5)">CX305</text>
<text x="0" y="0" font-family="Liberation Serif" font-size="10.4" text-anchor="end" fill="#000" font-weight="normal" stroke="#000" stroke-width="0.15" transform="translate(146.14,629.5) rotate(-89.9) scale(0.5)">CX369</text>
<text x="0" y="0" font-family="Liberation Serif" font-size="10.4" text-anchor="end" fill="#000" font-weight="normal" stroke="#000" stroke-width="0.15" transform="translate(150.76,629.5) rotate(-89.9) scale(0.5)">CX79</text>
<text x="0" y="0" font-family="Liberation Serif" font-size="10.4" text-anchor="end" fill="#000" font-weight="normal" stroke="#000" stroke-width="0.15" transform="translate(155.38,629.5) rotate(-89.9) scale(0.5)">CX198</text>
<text x="0" y="0" font-family="Liberation Serif" font-size="10.4" text-anchor="end" fill="#000" font-weight="normal" stroke="#000" stroke-width="0.15" transform="translate(160.00,629.5) rotate(-89.9) scale(0.5)">CX43</text>
<text x="0" y="0" font-family="Liberation Serif" font-size="10.4" text-anchor="end" fill="#000" font-weight="normal" stroke="#000" stroke-width="0.15" transform="translate(164.62,629.5) rotate(-89.9) scale(0.5)">CX170</text>
<text x="0" y="0" font-family="Liberation Serif" font-size="10.4" text-anchor="end" fill="#000" font-weight="normal" stroke="#000" stroke-width="0.15" transform="translate(169.24,629.5) rotate(-89.9) scale(0.5)">CX131</text>
<text x="0" y="0" font-family="Liberation Serif" font-size="10.4" text-anchor="end" fill="#000" font-weight="normal" stroke="#000" stroke-width="0.15" transform="translate(173.86,629.5) rotate(-89.9) scale(0.5)">CX18</text>
<text x="0" y="0" font-family="Liberation Serif" font-size="10.4" text-anchor="end" fill="#000" font-weight="normal" stroke="#000" stroke-width="0.15" transform="translate(178.48,629.5) rotate(-89.9) scale(0.5)">CX221</text>
<text x="0" y="0" font-family="Liberation Serif" font-size="10.4" text-anchor="end" fill="#000" font-weight="normal" stroke="#000" stroke-width="0.15" transform="translate(183.10,629.5) rotate(-89.9) scale(0.5)">CX88</text>
<text x="0" y="0" font-family="Liberation Serif" font-size="10.4" text-anchor="end" fill="#000" font-weight="normal" stroke="#000" stroke-width="0.15" transform="translate(187.72,629.5) rotate(-89.9) scale(0.5)">CX194</text>
<text x="0" y="0" font-family="Liberation Serif" font-size="10.4" text-anchor="end" fill="#000" font-weight="normal" stroke="#000" stroke-width="0.15" transform="translate(192.34,629.5) rotate(-89.9) scale(0.5)">CX479</text>
<text x="0" y="0" font-family="Liberation Serif" font-size="10.4" text-anchor="end" fill="#000" font-weight="normal" stroke="#000" stroke-width="0.15" transform="translate(196.96,629.5) rotate(-89.9) scale(0.5)">CX387</text>
<text x="0" y="0" font-family="Liberation Serif" font-size="10.4" text-anchor="end" fill="#000" font-weight="normal" stroke="#000" stroke-width="0.15" transform="translate(201.58,629.5) rotate(-89.9) scale(0.5)">CX278</text>
<text x="0" y="0" font-family="Liberation Serif" font-size="10.4" text-anchor="end" fill="#000" font-weight="normal" stroke="#000" stroke-width="0.15" transform="translate(206.20,629.5) rotate(-89.9) scale(0.5)">CX256</text>
<text x="0" y="0" font-family="Liberation Serif" font-size="10.4" text-anchor="end" fill="#000" font-weight="normal" stroke="#000" stroke-width="0.15" transform="translate(210.82,629.5) rotate(-89.9) scale(0.5)">CX167</text>
<text x="0" y="0" font-family="Liberation Serif" font-size="10.4" text-anchor="end" fill="#000" font-weight="normal" stroke="#000" stroke-width="0.15" transform="translate(215.44,629.5) rotate(-89.9) scale(0.5)">CX191</text>
<text x="0" y="0" font-family="Liberation Serif" font-size="10.4" text-anchor="end" fill="#000" font-weight="normal" stroke="#000" stroke-width="0.15" transform="translate(220.06,629.5) rotate(-89.9) scale(0.5)">CX242</text>
<text x="0" y="0" font-family="Liberation Serif" font-size="10.4" text-anchor="end" fill="#000" font-weight="normal" stroke="#000" stroke-width="0.15" transform="translate(224.68,629.5) rotate(-89.9) scale(0.5)">CX367</text>
<text x="0" y="0" font-family="Liberation Serif" font-size="10.4" text-anchor="end" fill="#000" font-weight="normal" stroke="#000" stroke-width="0.15" transform="translate(229.30,629.5) rotate(-89.9) scale(0.5)">CX317</text>
<text x="0" y="0" font-family="Liberation Serif" font-size="10.4" text-anchor="end" fill="#000" font-weight="normal" stroke="#000" stroke-width="0.15" transform="translate(233.92,629.5) rotate(-89.9) scale(0.5)">CX246</text>
<text x="0" y="0" font-family="Liberation Serif" font-size="10.4" text-anchor="end" fill="#000" font-weight="normal" stroke="#000" stroke-width="0.15" transform="translate(238.54,629.5) rotate(-89.9) scale(0.5)">CX138</text>
<text x="0" y="0" font-family="Liberation Serif" font-size="10.4" text-anchor="end" fill="#000" font-weight="normal" stroke="#000" stroke-width="0.15" transform="translate(243.16,629.5) rotate(-89.9) scale(0.5)">CX358</text>
<text x="0" y="0" font-family="Liberation Serif" font-size="10.4" text-anchor="end" fill="#000" font-weight="normal" stroke="#000" stroke-width="0.15" transform="translate(247.78,629.5) rotate(-89.9) scale(0.5)">CX171</text>
<text x="0" y="0" font-family="Liberation Serif" font-size="10.4" text-anchor="end" fill="#000" font-weight="normal" stroke="#000" stroke-width="0.15" transform="translate(252.40,629.5) rotate(-89.9) scale(0.5)">CX317</text>
<text x="0" y="0" font-family="Liberation Serif" font-size="10.4" text-anchor="end" fill="#000" font-weight="normal" stroke="#000" stroke-width="0.15" transform="translate(257.02,629.5) rotate(-89.9) scale(0.5)">CX78</text>
<text x="0" y="0" font-family="Liberation Serif" font-size="10.4" text-anchor="end" fill="#000" font-weight="normal" stroke="#000" stroke-width="0.15" transform="translate(261.64,629.5) rotate(-89.9) scale(0.5)">CX224</text>
<text x="0" y="0" font-family="Liberation Serif" font-size="10.4" text-anchor="end" fill="#000" font-weight="normal" stroke="#000" stroke-width="0.15" transform="translate(266.26,629.5) rotate(-89.9) scale(0.5)">CX335</text>
<text x="0" y="0" font-family="Liberation Serif" font-size="10.4" text-anchor="end" fill="#000" font-weight="normal" stroke="#000" stroke-width="0.15" transform="translate(270.88,629.5) rotate(-89.9) scale(0.5)">CX344</text>
<text x="0" y="0" font-family="Liberation Serif" font-size="10.4" text-anchor="end" fill="#000" font-weight="normal" stroke="#000" stroke-width="0.15" transform="translate(275.50,629.5) rotate(-89.9) scale(0.5)">CX331</text>
<text x="396" y="435.6" font-family="Liberation Serif" font-size="15.5" text-anchor="start" fill="#000" font-weight="normal" >LD decay</text>
<line x1="396.2" y1="445" x2="396.2" y2="602.6" stroke="#000" stroke-width="1.9"/>
<line x1="395.3" y1="601.8" x2="620.7" y2="601.8" stroke="#000" stroke-width="1.8"/>
<line x1="393" y1="595.6" x2="396" y2="595.6" stroke="#000" stroke-width="1"/>
<text x="390.7" y="599.7" font-family="Liberation Serif" font-size="12.2" text-anchor="end" fill="#000" font-weight="normal" >0.0</text>
<line x1="393" y1="567.3" x2="396" y2="567.3" stroke="#000" stroke-width="1"/>
<text x="390.7" y="571.44" font-family="Liberation Serif" font-size="12.2" text-anchor="end" fill="#000" font-weight="normal" >0.1</text>
<line x1="393" y1="539.1" x2="396" y2="539.1" stroke="#000" stroke-width="1"/>
<text x="390.7" y="543.1800000000001" font-family="Liberation Serif" font-size="12.2" text-anchor="end" fill="#000" font-weight="normal" >0.2</text>
<line x1="393" y1="510.8" x2="396" y2="510.8" stroke="#000" stroke-width="1"/>
<text x="390.7" y="514.9200000000001" font-family="Liberation Serif" font-size="12.2" text-anchor="end" fill="#000" font-weight="normal" >0.3</text>
<line x1="393" y1="482.6" x2="396" y2="482.6" stroke="#000" stroke-width="1"/>
<text x="390.7" y="486.66" font-family="Liberation Serif" font-size="12.2" text-anchor="end" fill="#000" font-weight="normal" >0.4</text>
<line x1="393" y1="454.3" x2="396" y2="454.3" stroke="#000" stroke-width="1"/>
<text x="390.7" y="458.40000000000003" font-family="Liberation Serif" font-size="12.2" text-anchor="end" fill="#000" font-weight="normal" >0.5</text>
<line x1="406.2" y1="602.5" x2="406.2" y2="605.5" stroke="#000" stroke-width="1"/>
<text x="406.2" y="615.6" font-family="Liberation Serif" font-size="12" text-anchor="middle" fill="#000" font-weight="normal" >0</text>
<line x1="457.3" y1="602.5" x2="457.3" y2="605.5" stroke="#000" stroke-width="1"/>
<text x="457.3" y="615.6" font-family="Liberation Serif" font-size="12" text-anchor="middle" fill="#000" font-weight="normal" >250</text>
<line x1="508.4" y1="602.5" x2="508.4" y2="605.5" stroke="#000" stroke-width="1"/>
<text x="508.4" y="615.6" font-family="Liberation Serif" font-size="12" text-anchor="middle" fill="#000" font-weight="normal" >500</text>
<line x1="559.5" y1="602.5" x2="559.5" y2="605.5" stroke="#000" stroke-width="1"/>
<text x="559.5" y="615.6" font-family="Liberation Serif" font-size="12" text-anchor="middle" fill="#000" font-weight="normal" >750</text>
<line x1="610.6" y1="602.5" x2="610.6" y2="605.5" stroke="#000" stroke-width="1"/>
<text x="610.6" y="615.6" font-family="Liberation Serif" font-size="12" text-anchor="middle" fill="#000" font-weight="normal" >1000</text>
<text x="489.3" y="633.4" font-family="Liberation Serif" font-size="14.6" text-anchor="middle" fill="#000" font-weight="normal" >Distance(kb)</text>
<text x="0" y="0" font-family="Liberation Serif" font-size="14.6" text-anchor="middle" fill="#000" font-weight="normal" transform="translate(369.6,523.8) rotate(-90)">mean&#160;&#160;R<tspan font-size="9.5" dy="-6.5">2</tspan></text>
<polyline fill="none" stroke="#000" stroke-width="1.2" points="406.4,452.2 406.6,464.5 406.9,474.3 407.9,481.6 410.3,489 413.4,495.1 418.3,500.6 425.6,506.1 434.2,511 444,515.3 453.8,518.4 465,521 478,523.7 500,527.3 520.3,530 550,533.2 581,534.8 610.7,536.2"/>
<line x1="478.2" y1="524.7" x2="406" y2="524.7" stroke="#f51010" stroke-width="2" stroke-dasharray="4.9,4.1"/>
<line x1="477.9" y1="595.5" x2="477.9" y2="524.7" stroke="#f51010" stroke-width="2" stroke-dasharray="4.7,4.15"/>
<text x="478.7" y="523.8" font-family="Liberation Sans" font-size="9.1" text-anchor="start" fill="#000" font-weight="bold" >( 350,0.25)</text>
</svg>
</body></html>
